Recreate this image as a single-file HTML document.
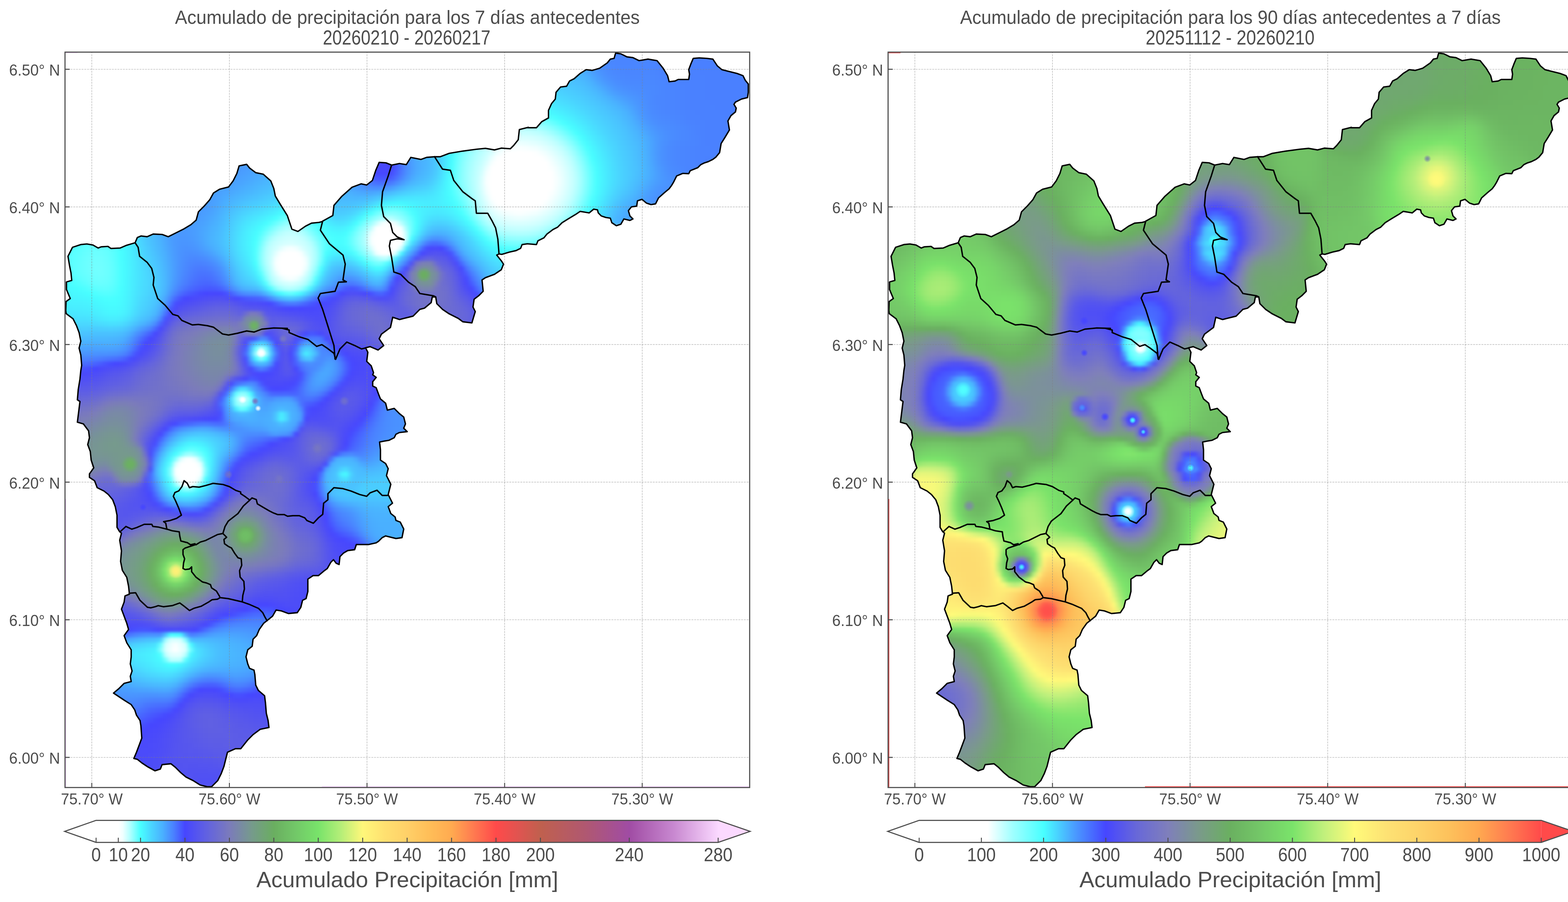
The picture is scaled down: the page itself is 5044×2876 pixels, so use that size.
<!DOCTYPE html><html><head><meta charset="utf-8"><style>html,body{margin:0;padding:0;background:#fff;width:5044px;height:2876px;overflow:hidden}svg{display:block;position:absolute;left:0;top:0}.f{position:absolute;left:0;top:0;width:5044px;height:2876px}.f div{position:absolute;height:16px}</style></head><body>
<div class="f" style="clip-path:polygon(210px 990px,211px 962px,224px 952px,212px 923px,212px 899px,229px 894px,226px 870px,222px 846px,217px 817px,231px 788px,258px 780px,277px 778px,296px 781px,313px 791px,323px 787px,344px 786px,354px 792px,383px 791px,402px 783px,431px 774px,438px 757px,450px 752px,469px 755px,488px 746px,517px 748px,536px 755px,565px 740px,585px 731px,609px 716px,626px 702px,633px 676px,652px 656px,669px 637px,681px 615px,700px 603px,729px 596px,743px 577px,755px 553px,762px 529px,786px 524px,796px 536px,815px 550px,839px 555px,864px 577px,873px 601px,878px 625px,892px 649px,916px 688px,931px 731px,950px 738px,974px 721px,993px 712px,1017px 709px,1027px 707px,1029px 705px,1061px 687px,1065px 655px,1090px 626px,1123px 597px,1151px 586px,1169px 590px,1188px 575px,1198px 543px,1209px 518px,1231px 519px,1249px 526px,1274px 521px,1296px 525px,1310px 502px,1342px 508px,1360px 502px,1386px 500px,1404px 500px,1433px 489px,1476px 482px,1519px 476px,1548px 473px,1577px 478px,1598px 472px,1627px 474px,1638px 464px,1652px 446px,1656px 413px,1685px 406px,1682px 407px,1711px 407px,1727px 388px,1749px 376px,1749px 352px,1759px 330px,1771px 316px,1773px 294px,1788px 277px,1807px 275px,1816px 258px,1831px 251px,1850px 234px,1869px 222px,1888px 224px,1912px 217px,1936px 200px,1946px 188px,1958px 186px,1963px 169px,1980px 172px,1999px 181px,2018px 184px,2038px 193px,2066px 188px,2095px 193px,2114px 217px,2129px 241px,2134px 261px,2153px 258px,2162px 253px,2196px 253px,2199px 236px,2196px 222px,2203px 203px,2211px 186px,2230px 185px,2254px 186px,2273px 188px,2288px 210px,2302px 222px,2331px 229px,2350px 234px,2369px 241px,2376px 256px,2386px 268px,2386px 294px,2384px 311px,2364px 316px,2345px 326px,2340px 333px,2348px 345px,2345px 357px,2331px 369px,2321px 386px,2326px 414px,2312px 438px,2300px 458px,2295px 486px,2283px 501px,2273px 508px,2259px 515px,2244px 520px,2235px 525px,2225px 535px,2201px 544px,2196px 554px,2177px 553px,2158px 561px,2148px 580px,2141px 592px,2134px 602px,2119px 614px,2100px 631px,2090px 650px,2076px 652px,2062px 648px,2047px 636px,2033px 640px,2030px 657px,2014px 660px,2004px 672px,2009px 688px,2018px 698px,2009px 703px,1989px 698px,1980px 715px,1965px 720px,1951px 710px,1946px 696px,1932px 693px,1917px 688px,1908px 679px,1905px 669px,1893px 667px,1879px 679px,1864px 676px,1850px 674px,1836px 684px,1812px 698px,1792px 710px,1778px 724px,1764px 732px,1744px 746px,1735px 758px,1715px 768px,1711px 780px,1682px 777px,1665px 780px,1660px 792px,1646px 799px,1624px 804px,1600px 811px,1591px 810px,1584px 813px,1598px 831px,1606px 842px,1598px 860px,1577px 875px,1548px 885px,1537px 893px,1541px 929px,1526px 943px,1512px 954px,1508px 979px,1516px 994px,1505px 1030px,1476px 1026px,1461px 1015px,1433px 1001px,1411px 986px,1393px 968px,1389px 947px,1378px 947px,1375px 965px,1353px 983px,1339px 986px,1317px 1008px,1288px 1015px,1274px 1019px,1252px 1012px,1245px 1044px,1216px 1066px,1209px 1080px,1224px 1102px,1206px 1116px,1180px 1105px,1166px 1109px,1173px 1123px,1169px 1152px,1184px 1167px,1191px 1188px,1188px 1195px,1200px 1203px,1188px 1217px,1188px 1231px,1200px 1236px,1208px 1258px,1213px 1272px,1230px 1286px,1235px 1308px,1257px 1302px,1274px 1319px,1287px 1330px,1293px 1352px,1287px 1365px,1298px 1376px,1274px 1379px,1263px 1385px,1257px 1396px,1241px 1404px,1224px 1407px,1210px 1409px,1213px 1434px,1213px 1467px,1230px 1478px,1238px 1494px,1232px 1516px,1246px 1544px,1238px 1577px,1246px 1593px,1252px 1604px,1238px 1615px,1246px 1637px,1260px 1648px,1263px 1659px,1276px 1665px,1287px 1687px,1282px 1714px,1263px 1717px,1230px 1709px,1219px 1714px,1208px 1725px,1200px 1731px,1175px 1736px,1136px 1736px,1131px 1753px,1109px 1756px,1095px 1764px,1084px 1775px,1081px 1800px,1072px 1796px,1063px 1784px,1055px 1793px,1044px 1813px,1032px 1821px,1016px 1835px,999px 1835px,982px 1846px,982px 1886px,976px 1908px,965px 1914px,959px 1937px,948px 1954px,920px 1956px,897px 1948px,880px 1945px,869px 1965px,855px 1976px,841px 1987px,827px 2007px,818px 2027px,807px 2038px,804px 2061px,790px 2072px,784px 2094px,790px 2117px,796px 2131px,810px 2137px,813px 2151px,816px 2184px,824px 2201px,844px 2218px,846px 2241px,849px 2275px,855px 2297px,858px 2320px,830px 2325px,807px 2342px,790px 2359px,768px 2387px,751px 2387px,725px 2399px,720px 2421px,714px 2444px,706px 2466px,694px 2489px,675px 2508px,661px 2508px,638px 2503px,616px 2489px,593px 2478px,576px 2463px,559px 2446px,545px 2435px,517px 2438px,511px 2452px,494px 2458px,469px 2444px,452px 2432px,438px 2421px,427px 2418px,435px 2399px,444px 2376px,452px 2354px,449px 2314px,446px 2297px,435px 2280px,430px 2263px,418px 2246px,396px 2232px,379px 2221px,362px 2210px,379px 2196px,396px 2179px,418px 2173px,416px 2156px,421px 2139px,416px 2117px,418px 2094px,418px 2072px,404px 2049px,396px 2027px,410px 2007px,404px 1987px,396px 1965px,387px 1942px,396px 1920px,399px 1900px,413px 1894px,410px 1869px,404px 1841px,390px 1818px,384px 1790px,387px 1756px,382px 1722px,387px 1700px,381px 1695px,373px 1681px,373px 1643px,368px 1615px,359px 1593px,346px 1577px,332px 1566px,310px 1555px,302px 1533px,285px 1522px,285px 1511px,299px 1492px,291px 1467px,288px 1440px,280px 1418px,285px 1396px,282px 1374px,266px 1352px,247px 1346px,252px 1302px,255px 1280px,247px 1275px,250px 1242px,255px 1209px,258px 1181px,260px 1165px,258px 1132px,252px 1110px,258px 1088px,252px 1060px,244px 1038px,233px 1016px,211px 1000px)"><div style="position:absolute;left:0;top:0;width:5044px;height:2876px;height:2876px;filter:blur(5px)">
<div style="top:160px;left:1936.0px;width:80px;background:linear-gradient(90deg,#4a88ff,#4a86ff,#4a86ff,#4a85ff,#4a86ff,#4a86ff)"></div>
<div style="top:176px;left:1904.0px;width:400px;background:linear-gradient(90deg,#4a8eff,#4a8bff,#4a88ff,#4a87ff,#4a86ff,#4a85ff,#4a85ff,#4a86ff,#4a86ff,#4a86ff,#4a86ff,#4a84ff,#4a83ff,#4a82ff,#4a81ff,#4a81ff,#4a81ff,#4a81ff,#4a81ff,#4a81ff,#4a81ff,#4a80ff,#4a80ff,#4a80ff,#4a80ff,#4a80ff)"></div>
<div style="top:192px;left:1888.0px;width:432px;background:linear-gradient(90deg,#4a97ff,#4a90ff,#4a8cff,#4a89ff,#4a87ff,#4a86ff,#4a85ff,#4a85ff,#4a85ff,#4a86ff,#4a86ff,#4a86ff,#4a85ff,#4a83ff,#4a82ff,#4a81ff,#4a81ff,#4a81ff,#4a81ff,#4a81ff,#4a81ff,#4a81ff,#4a80ff,#4a80ff,#4a80ff,#4a80ff,#4a80ff,#4a80ff)"></div>
<div style="top:208px;left:1840.0px;width:496px;background:linear-gradient(90deg,#4ab2ff,#4aacff,#4aa3ff,#4a9bff,#4a93ff,#4a8eff,#4a8aff,#4a88ff,#4a87ff,#4a86ff,#4a86ff,#4a86ff,#4a86ff,#4a86ff,#4a86ff,#4a85ff,#4a84ff,#4a82ff,#4a82ff,#4a81ff,#4a81ff,#4a81ff,#4a81ff,#4a81ff,#4a81ff,#4a80ff,#4a80ff,#4a80ff,#4a80ff,#4a80ff,#4a80ff,#4a80ff)"></div>
<div style="top:224px;left:1808.0px;width:592px;background:linear-gradient(90deg,#4abcff,#4ab9ff,#4ab6ff,#4ab1ff,#4aaaff,#4aa1ff,#4a98ff,#4a92ff,#4a8dff,#4a8aff,#4a88ff,#4a87ff,#4a86ff,#4a86ff,#4a86ff,#4a87ff,#4a87ff,#4a86ff,#4a85ff,#4a83ff,#4a82ff,#4a82ff,#4a81ff,#4a81ff,#4a81ff,#4a81ff,#4a81ff,#4a80ff,#4a80ff,#4a80ff,#4a80ff,#4a80ff,#4a80ff,#4a80ff,#4a80ff,#4a80ff,#4a80ff,#4a80ff)"></div>
<div style="top:240px;left:1792.0px;width:624px;background:linear-gradient(90deg,#4ac2ff,#4ac0ff,#4abeff,#4abbff,#4ab6ff,#4ab1ff,#4aa8ff,#4a9fff,#4a97ff,#4a91ff,#4a8dff,#4a8aff,#4a89ff,#4a88ff,#4a87ff,#4a87ff,#4a88ff,#4a88ff,#4a87ff,#4a86ff,#4a84ff,#4a83ff,#4a82ff,#4a82ff,#4a82ff,#4a81ff,#4a81ff,#4a81ff,#4a81ff,#4a80ff,#4a80ff,#4a80ff,#4a80ff,#4a80ff,#4a80ff,#4a80ff,#4a80ff,#4a80ff,#4a80ff,#4a80ff)"></div>
<div style="top:256px;left:1776.0px;width:640px;background:linear-gradient(90deg,#4ac8ff,#4ac7ff,#4ac5ff,#4ac2ff,#4abfff,#4abcff,#4ab7ff,#4ab1ff,#4aa7ff,#4a9fff,#4a97ff,#4a92ff,#4a8eff,#4a8bff,#4a8aff,#4a89ff,#4a89ff,#4a89ff,#4a89ff,#4a88ff,#4a87ff,#4a86ff,#4a84ff,#4a83ff,#4a83ff,#4a82ff,#4a82ff,#4a81ff,#4a81ff,#4a81ff,#4a80ff,#4a80ff,#4a80ff,#4a80ff,#4a80ff,#4a80ff,#4a80ff,#4a80ff,#4a80ff,#4a80ff,#4a80ff)"></div>
<div style="top:272px;left:1744.0px;width:672px;background:linear-gradient(90deg,#4ad1ff,#4acfff,#4acdff,#4accff,#4ac9ff,#4ac7ff,#4ac4ff,#4ac1ff,#4abdff,#4ab7ff,#4ab1ff,#4aa8ff,#4aa0ff,#4a99ff,#4a93ff,#4a90ff,#4a8eff,#4a8cff,#4a8bff,#4a8bff,#4a8aff,#4a89ff,#4a88ff,#4a86ff,#4a85ff,#4a84ff,#4a83ff,#4a83ff,#4a82ff,#4a81ff,#4a81ff,#4a81ff,#4a80ff,#4a80ff,#4a80ff,#4a80ff,#4a80ff,#4a80ff,#4a80ff,#4a80ff,#4a80ff,#4a80ff,#4a80ff)"></div>
<div style="top:288px;left:1744.0px;width:672px;background:linear-gradient(90deg,#4ad7ff,#4ad5ff,#4ad3ff,#4ad1ff,#4aceff,#4accff,#4ac9ff,#4ac6ff,#4ac2ff,#4abeff,#4ab8ff,#4ab2ff,#4aa9ff,#4aa1ff,#4a9bff,#4a96ff,#4a93ff,#4a91ff,#4a8fff,#4a8dff,#4a8bff,#4a89ff,#4a88ff,#4a86ff,#4a85ff,#4a85ff,#4a84ff,#4a83ff,#4a82ff,#4a81ff,#4a81ff,#4a81ff,#4a80ff,#4a80ff,#4a80ff,#4a80ff,#4a80ff,#4a80ff,#4a80ff,#4a80ff,#4a80ff,#4a80ff,#4a80ff)"></div>
<div style="top:304px;left:1728.0px;width:688px;background:linear-gradient(90deg,#49e1ff,#49dfff,#4addff,#4adaff,#4ad7ff,#4ad4ff,#4ad1ff,#4aceff,#4acbff,#4ac7ff,#4ac3ff,#4abeff,#4ab9ff,#4ab3ff,#4aacff,#4aa4ff,#4a9fff,#4a9aff,#4a96ff,#4a93ff,#4a8fff,#4a8cff,#4a89ff,#4a87ff,#4a86ff,#4a85ff,#4a85ff,#4a84ff,#4a83ff,#4a82ff,#4a81ff,#4a81ff,#4a81ff,#4a80ff,#4a80ff,#4a80ff,#4a80ff,#4a80ff,#4a80ff,#4a80ff,#4a80ff,#4a80ff,#4a80ff,#4a80ff)"></div>
<div style="top:320px;left:1728.0px;width:656px;background:linear-gradient(90deg,#49eaff,#49e8ff,#49e5ff,#49e2ff,#4adeff,#4adbff,#4ad7ff,#4ad3ff,#4ad0ff,#4accff,#4ac8ff,#4ac4ff,#4abfff,#4abaff,#4ab5ff,#4aafff,#4aa8ff,#4aa2ff,#4a9cff,#4a96ff,#4a91ff,#4a8dff,#4a89ff,#4a87ff,#4a86ff,#4a85ff,#4a85ff,#4a84ff,#4a83ff,#4a82ff,#4a81ff,#4a81ff,#4a81ff,#4a81ff,#4a80ff,#4a80ff,#4a80ff,#4a80ff,#4a80ff,#4a80ff,#4a80ff,#4a80ff)"></div>
<div style="top:336px;left:1712.0px;width:672px;background:linear-gradient(90deg,#48f6ff,#49f4ff,#49f1ff,#49eeff,#49eaff,#49e6ff,#49e2ff,#4adeff,#4ad9ff,#4ad5ff,#4ad1ff,#4acdff,#4ac9ff,#4ac5ff,#4ac0ff,#4abbff,#4ab6ff,#4ab1ff,#4aaaff,#4aa2ff,#4a9aff,#4a93ff,#4a8eff,#4a8aff,#4a88ff,#4a86ff,#4a85ff,#4a85ff,#4a84ff,#4a83ff,#4a82ff,#4a81ff,#4a81ff,#4a81ff,#4a81ff,#4a81ff,#4a80ff,#4a80ff,#4a80ff,#4a80ff,#4a80ff,#4a80ff,#4a80ff)"></div>
<div style="top:352px;left:1712.0px;width:672px;background:linear-gradient(90deg,#4effff,#48ffff,#48fbff,#48f7ff,#49f3ff,#49eeff,#49eaff,#49e5ff,#49e0ff,#4adbff,#4ad6ff,#4ad2ff,#4acdff,#4ac9ff,#4ac5ff,#4ac0ff,#4abcff,#4ab7ff,#4ab1ff,#4aa8ff,#4a9eff,#4a96ff,#4a90ff,#4a8bff,#4a89ff,#4a87ff,#4a86ff,#4a86ff,#4a85ff,#4a84ff,#4a83ff,#4a82ff,#4a81ff,#4a81ff,#4a81ff,#4a81ff,#4a81ff,#4a80ff,#4a80ff,#4a80ff,#4a80ff,#4a80ff,#4a80ff)"></div>
<div style="top:368px;left:1696.0px;width:672px;background:linear-gradient(90deg,#72ffff,#6cffff,#64ffff,#5affff,#4fffff,#48fdff,#48f7ff,#49f2ff,#49ecff,#49e7ff,#49e1ff,#4adcff,#4ad6ff,#4ad2ff,#4acdff,#4ac9ff,#4ac5ff,#4ac0ff,#4abbff,#4ab5ff,#4aaeff,#4aa3ff,#4a9aff,#4a93ff,#4a8eff,#4a8bff,#4a89ff,#4a88ff,#4a87ff,#4a86ff,#4a85ff,#4a83ff,#4a82ff,#4a82ff,#4a81ff,#4a81ff,#4a81ff,#4a81ff,#4a81ff,#4a80ff,#4a80ff,#4a80ff,#4a80ff)"></div>
<div style="top:384px;left:1680.0px;width:672px;background:linear-gradient(90deg,#94ffff,#90ffff,#8affff,#82ffff,#77ffff,#6affff,#5cffff,#4dffff,#48fbff,#48f5ff,#49eeff,#49e8ff,#49e2ff,#4adcff,#4ad6ff,#4ad1ff,#4acdff,#4ac8ff,#4ac4ff,#4abfff,#4ab9ff,#4ab2ff,#4aa9ff,#4aa0ff,#4a98ff,#4a92ff,#4a8eff,#4a8bff,#4a8aff,#4a89ff,#4a87ff,#4a86ff,#4a84ff,#4a83ff,#4a82ff,#4a82ff,#4a81ff,#4a81ff,#4a81ff,#4a81ff,#4a80ff,#4a80ff,#4a80ff)"></div>
<div style="top:400px;left:1616.0px;width:736px;background:linear-gradient(90deg,#acffff,#b0ffff,#b2ffff,#b2ffff,#b1ffff,#adffff,#a7ffff,#9effff,#93ffff,#86ffff,#77ffff,#66ffff,#55ffff,#48fdff,#48f6ff,#49efff,#49e8ff,#49e1ff,#4adbff,#4ad5ff,#4ad0ff,#4acbff,#4ac7ff,#4ac2ff,#4abdff,#4ab6ff,#4aafff,#4aa6ff,#4a9eff,#4a97ff,#4a92ff,#4a8fff,#4a8cff,#4a8bff,#4a89ff,#4a88ff,#4a86ff,#4a84ff,#4a83ff,#4a82ff,#4a81ff,#4a81ff,#4a81ff,#4a80ff,#4a80ff,#4a80ff,#4a80ff)"></div>
<div style="top:416px;left:1616.0px;width:736px;background:linear-gradient(90deg,#c2ffff,#c6ffff,#c8ffff,#c8ffff,#c7ffff,#c4ffff,#bfffff,#b8ffff,#adffff,#a0ffff,#91ffff,#80ffff,#6dffff,#59ffff,#48feff,#48f6ff,#49eeff,#49e7ff,#49e0ff,#4ad9ff,#4ad3ff,#4aceff,#4acaff,#4ac5ff,#4ac0ff,#4abaff,#4ab4ff,#4aacff,#4aa4ff,#4a9cff,#4a96ff,#4a92ff,#4a8eff,#4a8cff,#4a8aff,#4a88ff,#4a87ff,#4a85ff,#4a83ff,#4a82ff,#4a81ff,#4a81ff,#4a81ff,#4a80ff,#4a80ff,#4a80ff,#4a80ff)"></div>
<div style="top:432px;left:1616.0px;width:736px;background:linear-gradient(90deg,#d3ffff,#d7ffff,#d9ffff,#d9ffff,#d8ffff,#d5ffff,#d1ffff,#cbffff,#c2ffff,#b8ffff,#a9ffff,#98ffff,#84ffff,#6fffff,#59ffff,#48fdff,#48f4ff,#49ecff,#49e5ff,#4adeff,#4ad7ff,#4ad1ff,#4accff,#4ac7ff,#4ac2ff,#4abdff,#4ab7ff,#4ab1ff,#4aa9ff,#4aa0ff,#4a99ff,#4a93ff,#4a8fff,#4a8cff,#4a8aff,#4a88ff,#4a87ff,#4a85ff,#4a84ff,#4a82ff,#4a81ff,#4a81ff,#4a81ff,#4a80ff,#4a80ff,#4a80ff,#4a80ff)"></div>
<div style="top:448px;left:1600.0px;width:736px;background:linear-gradient(90deg,#daffff,#e1ffff,#e7ffff,#ebffff,#ebffff,#e8ffff,#e4ffff,#e0ffff,#daffff,#d2ffff,#c9ffff,#bdffff,#adffff,#9affff,#84ffff,#6cffff,#54ffff,#48faff,#49f2ff,#49e9ff,#49e2ff,#4adaff,#4ad4ff,#4acfff,#4ac9ff,#4ac4ff,#4abfff,#4abaff,#4ab4ff,#4aacff,#4aa2ff,#4a99ff,#4a92ff,#4a8eff,#4a8aff,#4a88ff,#4a87ff,#4a86ff,#4a85ff,#4a84ff,#4a82ff,#4a81ff,#4a81ff,#4a81ff,#4a80ff,#4a80ff,#4a80ff)"></div>
<div style="top:464px;left:1456.0px;width:880px;background:linear-gradient(90deg,#56ffff,#6fffff,#83ffff,#94ffff,#a4ffff,#b3ffff,#c1ffff,#ceffff,#dcffff,#e8ffff,#f1ffff,#f6ffff,#faffff,#faffff,#f7ffff,#f3ffff,#f0ffff,#e8ffff,#e0ffff,#d7ffff,#ccffff,#bfffff,#adffff,#97ffff,#7effff,#64ffff,#4bffff,#48f7ff,#49eeff,#49e5ff,#4adeff,#4ad7ff,#4ad1ff,#4acbff,#4ac6ff,#4ac1ff,#4abcff,#4ab5ff,#4aadff,#4aa2ff,#4a99ff,#4a91ff,#4a8cff,#4a89ff,#4a87ff,#4a86ff,#4a85ff,#4a84ff,#4a83ff,#4a82ff,#4a82ff,#4a81ff,#4a81ff,#4a80ff,#4a80ff,#4a80ff)"></div>
<div style="top:480px;left:1376.0px;width:944px;background:linear-gradient(90deg,#4ac1ff,#4acbff,#4ad9ff,#49eaff,#48faff,#5dffff,#77ffff,#8cffff,#9dffff,#adffff,#bcffff,#c9ffff,#d9ffff,#eeffff,#f8ffff,#ffffff,#ffffff,#ffffff,#ffffff,#ffffff,#ffffff,#fcffff,#f5ffff,#eeffff,#e3ffff,#d8ffff,#ccffff,#bcffff,#a7ffff,#8effff,#73ffff,#58ffff,#48fbff,#49f2ff,#49e9ff,#49e1ff,#4ad9ff,#4ad3ff,#4acdff,#4ac8ff,#4ac3ff,#4abdff,#4ab6ff,#4aaeff,#4aa2ff,#4a98ff,#4a91ff,#4a8cff,#4a89ff,#4a87ff,#4a86ff,#4a85ff,#4a84ff,#4a83ff,#4a82ff,#4a82ff,#4a81ff,#4a81ff,#4a81ff,#4a80ff)"></div>
<div style="top:496px;left:1264.0px;width:1056px;background:linear-gradient(90deg,#4866ff,#4a7fff,#4a92ff,#4aa2ff,#4aacff,#4ab2ff,#4ab7ff,#4abfff,#4ac9ff,#4ad7ff,#49eaff,#48fbff,#63ffff,#7effff,#93ffff,#a5ffff,#b5ffff,#c2ffff,#d2ffff,#eaffff,#fcffff,#ffffff,#ffffff,#ffffff,#ffffff,#ffffff,#ffffff,#ffffff,#ffffff,#ffffff,#f7ffff,#eeffff,#e2ffff,#d6ffff,#c7ffff,#b4ffff,#9bffff,#80ffff,#64ffff,#48ffff,#48f5ff,#49ecff,#49e3ff,#4adcff,#4ad4ff,#4acfff,#4ac9ff,#4ac4ff,#4abeff,#4ab7ff,#4aafff,#4aa3ff,#4a99ff,#4a91ff,#4a8cff,#4a89ff,#4a87ff,#4a86ff,#4a85ff,#4a84ff,#4a83ff,#4a82ff,#4a81ff,#4a81ff,#4a81ff,#4a81ff,#4a81ff)"></div>
<div style="top:512px;left:736.0px;width:1568px;background:linear-gradient(90deg,#4a97ff,#4a97ff,#4a99ff,#4a9aff,#4a9cff,#4a9eff,#4aa1ff,#4aa4ff,#4aa7ff,#4aa8ff,#4aa8ff,#4aa2ff,#4a98ff,#4a8eff,#4a8aff,#4a8aff,#4a8cff,#4a90ff,#4a93ff,#4a95ff,#4a95ff,#4a93ff,#4a8fff,#4a88ff,#4a80ff,#4972ff,#4861ff,#4750ff,#4747fe,#4949fc,#4a4afb,#4848fc,#4649ff,#485eff,#4977ff,#4a8eff,#4a9eff,#4aa9ff,#4ab1ff,#4ab6ff,#4abeff,#4ac9ff,#4ad8ff,#49ebff,#48fdff,#67ffff,#83ffff,#99ffff,#abffff,#baffff,#c8ffff,#ddffff,#f7ffff,#ffffff,#ffffff,#ffffff,#ffffff,#ffffff,#ffffff,#ffffff,#ffffff,#ffffff,#ffffff,#ffffff,#f4ffff,#e9ffff,#ddffff,#cfffff,#beffff,#a6ffff,#8bffff,#6effff,#51ffff,#48f8ff,#49efff,#49e6ff,#4adeff,#4ad6ff,#4ad0ff,#4acaff,#4ac5ff,#4abfff,#4ab8ff,#4ab0ff,#4aa5ff,#4a9aff,#4a92ff,#4a8dff,#4a8aff,#4a87ff,#4a86ff,#4a85ff,#4a84ff,#4a83ff,#4a82ff,#4a81ff,#4a81ff,#4a81ff,#4a81ff)"></div>
<div style="top:528px;left:720.0px;width:1536px;background:linear-gradient(90deg,#4a98ff,#4a98ff,#4a99ff,#4a9bff,#4a9dff,#4a9fff,#4aa2ff,#4aa5ff,#4aa9ff,#4aacff,#4aaeff,#4aafff,#4aacff,#4aa3ff,#4a97ff,#4a8fff,#4a8fff,#4a93ff,#4a97ff,#4a9bff,#4a9cff,#4a9bff,#4a98ff,#4a93ff,#4a8cff,#4a83ff,#4976ff,#4866ff,#4755ff,#4646ff,#4949fc,#4949fb,#4949fc,#4647ff,#475bff,#4975ff,#4a8cff,#4a9dff,#4aa9ff,#4ab1ff,#4ab7ff,#4abfff,#4acaff,#4adaff,#49edff,#48feff,#6bffff,#86ffff,#9cffff,#aeffff,#beffff,#ceffff,#eaffff,#ffffff,#ffffff,#ffffff,#ffffff,#ffffff,#ffffff,#ffffff,#ffffff,#ffffff,#ffffff,#ffffff,#ffffff,#faffff,#f0ffff,#e3ffff,#d5ffff,#c4ffff,#aeffff,#93ffff,#76ffff,#59ffff,#48fbff,#49f1ff,#49e7ff,#49dfff,#4ad7ff,#4ad1ff,#4acbff,#4ac5ff,#4ac0ff,#4ab9ff,#4ab1ff,#4aa7ff,#4a9dff,#4a95ff,#4a8fff,#4a8bff,#4a89ff,#4a87ff,#4a85ff,#4a84ff,#4a83ff,#4a82ff,#4a81ff)"></div>
<div style="top:544px;left:720.0px;width:1520px;background:linear-gradient(90deg,#4a9aff,#4a9aff,#4a9cff,#4a9dff,#4aa0ff,#4aa3ff,#4aa6ff,#4aaaff,#4aaeff,#4ab1ff,#4ab3ff,#4ab5ff,#4ab4ff,#4aafff,#4aa3ff,#4a99ff,#4a98ff,#4a9cff,#4aa1ff,#4aa4ff,#4aa5ff,#4aa3ff,#4a9fff,#4a99ff,#4a92ff,#4a89ff,#4a7eff,#4970ff,#4860ff,#4751ff,#4646ff,#4747fe,#4747fe,#474eff,#4861ff,#4a79ff,#4a8fff,#4aa0ff,#4aacff,#4ab4ff,#4abaff,#4ac2ff,#4acdff,#4addff,#49f0ff,#4bffff,#6effff,#88ffff,#9effff,#b1ffff,#c1ffff,#d5ffff,#f4ffff,#ffffff,#ffffff,#ffffff,#ffffff,#ffffff,#ffffff,#ffffff,#ffffff,#ffffff,#ffffff,#ffffff,#ffffff,#ffffff,#f3ffff,#e7ffff,#d9ffff,#c9ffff,#b4ffff,#99ffff,#7bffff,#5effff,#48fcff,#49f2ff,#49e9ff,#49e0ff,#4ad8ff,#4ad1ff,#4acbff,#4ac6ff,#4abfff,#4ab9ff,#4ab1ff,#4aa8ff,#4a9fff,#4a97ff,#4a91ff,#4a8dff,#4a8aff,#4a88ff,#4a86ff,#4a84ff,#4a83ff,#4a82ff)"></div>
<div style="top:560px;left:704.0px;width:1488px;background:linear-gradient(90deg,#4a9bff,#4a9cff,#4a9dff,#4a9fff,#4aa1ff,#4aa4ff,#4aa7ff,#4aabff,#4aafff,#4ab3ff,#4ab6ff,#4ab8ff,#4abaff,#4abaff,#4ab8ff,#4ab1ff,#4aa7ff,#4aa5ff,#4aa8ff,#4aacff,#4aadff,#4aadff,#4aaaff,#4aa6ff,#4aa0ff,#4a99ff,#4a91ff,#4a88ff,#4a7dff,#496fff,#4862ff,#4758ff,#4753ff,#4755ff,#485eff,#4970ff,#4a85ff,#4a98ff,#4aa8ff,#4ab3ff,#4ab9ff,#4abfff,#4ac7ff,#4ad2ff,#49e2ff,#49f3ff,#4fffff,#6fffff,#88ffff,#9effff,#b2ffff,#c3ffff,#daffff,#f9ffff,#ffffff,#ffffff,#ffffff,#ffffff,#ffffff,#ffffff,#ffffff,#ffffff,#ffffff,#ffffff,#ffffff,#ffffff,#ffffff,#f6ffff,#eaffff,#dbffff,#cbffff,#b7ffff,#9cffff,#7effff,#60ffff,#48fdff,#49f3ff,#49e9ff,#49e0ff,#4ad8ff,#4ad1ff,#4acbff,#4ac5ff,#4abeff,#4ab7ff,#4ab0ff,#4aa7ff,#4a9fff,#4a98ff,#4a93ff,#4a90ff,#4a8cff,#4a89ff,#4a87ff)"></div>
<div style="top:576px;left:704.0px;width:1472px;background:linear-gradient(90deg,#4a9eff,#4a9fff,#4aa0ff,#4aa2ff,#4aa5ff,#4aa9ff,#4aadff,#4ab1ff,#4ab4ff,#4ab7ff,#4abbff,#4abdff,#4ac0ff,#4ac1ff,#4ac0ff,#4abcff,#4ab7ff,#4ab4ff,#4ab4ff,#4ab4ff,#4ab4ff,#4ab2ff,#4ab0ff,#4aacff,#4aa7ff,#4aa1ff,#4a9bff,#4a93ff,#4a8bff,#4a82ff,#4979ff,#4971ff,#496fff,#4972ff,#4a7cff,#4a8aff,#4a9aff,#4aaaff,#4ab5ff,#4abcff,#4ac2ff,#4ac7ff,#4acfff,#4adaff,#49e8ff,#48f6ff,#51ffff,#6dffff,#86ffff,#9cffff,#b1ffff,#c3ffff,#dcffff,#faffff,#ffffff,#ffffff,#ffffff,#ffffff,#ffffff,#ffffff,#ffffff,#ffffff,#ffffff,#ffffff,#ffffff,#ffffff,#ffffff,#f6ffff,#eaffff,#dbffff,#cbffff,#b7ffff,#9cffff,#7effff,#60ffff,#48fdff,#49f2ff,#49e9ff,#49dfff,#4ad7ff,#4ad0ff,#4ac9ff,#4ac2ff,#4abbff,#4ab4ff,#4aabff,#4aa3ff,#4a9cff,#4a97ff,#4a94ff,#4a91ff,#4a8eff,#4a8bff)"></div>
<div style="top:592px;left:656.0px;width:1520px;background:linear-gradient(90deg,#4a9bff,#4a9cff,#4a9eff,#4aa0ff,#4aa2ff,#4aa4ff,#4aa7ff,#4aabff,#4aafff,#4ab2ff,#4ab6ff,#4abaff,#4abdff,#4ac0ff,#4ac3ff,#4ac6ff,#4ac8ff,#4ac9ff,#4ac8ff,#4ac5ff,#4ac2ff,#4abfff,#4abcff,#4ab9ff,#4ab7ff,#4ab5ff,#4ab2ff,#4aafff,#4aaaff,#4aa5ff,#4a9fff,#4a99ff,#4a94ff,#4a90ff,#4a8eff,#4a90ff,#4a95ff,#4a9eff,#4aaaff,#4ab5ff,#4abeff,#4ac5ff,#4acaff,#4aceff,#4ad2ff,#4ad8ff,#49e2ff,#49ecff,#48f7ff,#4fffff,#69ffff,#81ffff,#98ffff,#aeffff,#c2ffff,#d9ffff,#f6ffff,#ffffff,#ffffff,#ffffff,#ffffff,#ffffff,#ffffff,#ffffff,#ffffff,#ffffff,#ffffff,#ffffff,#ffffff,#ffffff,#f3ffff,#e7ffff,#d9ffff,#c9ffff,#b4ffff,#99ffff,#7bffff,#5dffff,#48fcff,#49f1ff,#49e7ff,#4addff,#4ad4ff,#4acdff,#4ac6ff,#4abfff,#4ab7ff,#4aafff,#4aa6ff,#4a9eff,#4a98ff,#4a94ff,#4a92ff,#4a90ff,#4a8fff,#4a8dff)"></div>
<div style="top:608px;left:640.0px;width:1520px;background:linear-gradient(90deg,#4a98ff,#4a9aff,#4a9dff,#4aa0ff,#4aa3ff,#4aa6ff,#4aa9ff,#4aadff,#4ab1ff,#4ab5ff,#4ab8ff,#4abcff,#4ac0ff,#4ac3ff,#4ac7ff,#4acaff,#4acdff,#4ad0ff,#4ad2ff,#4ad4ff,#4ad4ff,#4ad0ff,#4acaff,#4ac4ff,#4abfff,#4abbff,#4ab9ff,#4ab6ff,#4ab4ff,#4ab2ff,#4ab0ff,#4aacff,#4aa9ff,#4aa8ff,#4aa8ff,#4aacff,#4ab1ff,#4ab8ff,#4abfff,#4ac6ff,#4acdff,#4ad2ff,#4ad6ff,#4ad9ff,#4adbff,#4adeff,#49e2ff,#49e8ff,#49f0ff,#48f8ff,#4bffff,#61ffff,#79ffff,#91ffff,#a9ffff,#bfffff,#d4ffff,#f1ffff,#ffffff,#ffffff,#ffffff,#ffffff,#ffffff,#ffffff,#ffffff,#ffffff,#ffffff,#ffffff,#ffffff,#ffffff,#faffff,#f0ffff,#e3ffff,#d5ffff,#c4ffff,#aeffff,#93ffff,#75ffff,#58ffff,#48faff,#49efff,#49e4ff,#4ad9ff,#4ad0ff,#4ac8ff,#4ac1ff,#4abaff,#4ab2ff,#4aa9ff,#4aa0ff,#4a99ff,#4a94ff,#4a91ff,#4a8fff,#4a8fff,#4a8eff)"></div>
<div style="top:624px;left:640.0px;width:1504px;background:linear-gradient(90deg,#4a98ff,#4a9bff,#4a9eff,#4aa1ff,#4aa6ff,#4aabff,#4ab0ff,#4ab4ff,#4ab8ff,#4abcff,#4ac0ff,#4ac3ff,#4ac7ff,#4acbff,#4aceff,#4ad1ff,#4ad5ff,#4ad9ff,#4adeff,#49e2ff,#49e3ff,#4adeff,#4ad5ff,#4accff,#4ac5ff,#4ac0ff,#4abdff,#4abbff,#4ab9ff,#4ab8ff,#4ab8ff,#4ab7ff,#4ab8ff,#4abaff,#4abeff,#4ac4ff,#4acbff,#4ad3ff,#4adaff,#49e0ff,#49e4ff,#49e6ff,#49e6ff,#49e7ff,#49e7ff,#49e7ff,#49e9ff,#49ecff,#49f1ff,#48f7ff,#48fdff,#58ffff,#6effff,#87ffff,#a1ffff,#baffff,#ceffff,#e7ffff,#fcffff,#ffffff,#ffffff,#ffffff,#ffffff,#ffffff,#ffffff,#ffffff,#ffffff,#ffffff,#ffffff,#ffffff,#f4ffff,#e9ffff,#ddffff,#cfffff,#beffff,#a6ffff,#8affff,#6dffff,#4fffff,#48f6ff,#49ebff,#49dfff,#4ad4ff,#4acbff,#4ac2ff,#4abbff,#4ab4ff,#4aacff,#4aa4ff,#4a9cff,#4a96ff,#4a92ff,#4a8fff,#4a8eff,#4a8dff)"></div>
<div style="top:640px;left:624.0px;width:1504px;background:linear-gradient(90deg,#4a98ff,#4a99ff,#4a9bff,#4a9fff,#4aa3ff,#4aa9ff,#4ab0ff,#4ab5ff,#4abaff,#4abfff,#4ac4ff,#4ac8ff,#4acbff,#4acfff,#4ad2ff,#4ad6ff,#4adbff,#49dfff,#49e5ff,#49ebff,#49f0ff,#49f0ff,#49ebff,#49e2ff,#4ad7ff,#4acdff,#4ac6ff,#4ac2ff,#4abfff,#4abfff,#4abfff,#4ac0ff,#4ac2ff,#4ac5ff,#4acaff,#4ad2ff,#4addff,#49e8ff,#49f0ff,#48f5ff,#48f7ff,#48f7ff,#48f4ff,#49f2ff,#49efff,#49eeff,#49edff,#49edff,#49eeff,#49f1ff,#48f5ff,#48faff,#4dffff,#63ffff,#7cffff,#97ffff,#b2ffff,#c8ffff,#ddffff,#f3ffff,#ffffff,#ffffff,#ffffff,#ffffff,#ffffff,#ffffff,#ffffff,#ffffff,#ffffff,#ffffff,#f7ffff,#eeffff,#e2ffff,#d6ffff,#c7ffff,#b4ffff,#9bffff,#7fffff,#63ffff,#48feff,#49f2ff,#49e6ff,#4adaff,#4aceff,#4ac4ff,#4abbff,#4ab4ff,#4aaeff,#4aa6ff,#4a9fff,#4a99ff,#4a94ff,#4a90ff,#4a8eff,#4a8dff)"></div>
<div style="top:656px;left:608.0px;width:1456px;background:linear-gradient(90deg,#4a98ff,#4a99ff,#4a9aff,#4a9dff,#4aa0ff,#4aa6ff,#4aadff,#4ab4ff,#4abbff,#4ac1ff,#4ac7ff,#4accff,#4ad0ff,#4ad4ff,#4ad8ff,#4adcff,#49e1ff,#49e6ff,#49ebff,#49f2ff,#48f9ff,#48fcff,#48fbff,#48f6ff,#49edff,#49e3ff,#4ad7ff,#4aceff,#4ac8ff,#4ac5ff,#4ac5ff,#4ac6ff,#4ac9ff,#4acdff,#4ad3ff,#4adeff,#49ebff,#48f8ff,#4effff,#5dffff,#64ffff,#63ffff,#5affff,#4bffff,#48faff,#48f5ff,#49f1ff,#49eeff,#49edff,#49ecff,#49eeff,#49f1ff,#48f6ff,#48fcff,#56ffff,#6fffff,#8bffff,#a8ffff,#c0ffff,#d4ffff,#e6ffff,#f3ffff,#fbffff,#ffffff,#ffffff,#ffffff,#ffffff,#ffffff,#ffffff,#fcffff,#f5ffff,#eeffff,#e3ffff,#d8ffff,#ccffff,#bcffff,#a7ffff,#8effff,#72ffff,#56ffff,#48f9ff,#49eeff,#49e1ff,#4ad4ff,#4ac8ff,#4abeff,#4ab5ff,#4aaeff,#4aa7ff,#4aa2ff,#4a9cff,#4a97ff)"></div>
<div style="top:672px;left:592.0px;width:1456px;background:linear-gradient(90deg,#4a99ff,#4a9aff,#4a9bff,#4a9cff,#4a9fff,#4aa3ff,#4aa9ff,#4ab1ff,#4ab9ff,#4ac1ff,#4ac8ff,#4acfff,#4ad4ff,#4ad9ff,#4adeff,#49e2ff,#49e7ff,#49ecff,#49f2ff,#48f9ff,#4bffff,#5bffff,#60ffff,#58ffff,#48ffff,#48f7ff,#49eeff,#49e3ff,#4ad8ff,#4ad0ff,#4accff,#4accff,#4aceff,#4ad3ff,#4adbff,#49e7ff,#48f5ff,#50ffff,#6cffff,#7effff,#88ffff,#8affff,#85ffff,#79ffff,#66ffff,#4fffff,#48f9ff,#49f1ff,#49ecff,#49e9ff,#49e7ff,#49e8ff,#49ebff,#49f0ff,#48f6ff,#48ffff,#60ffff,#7dffff,#9affff,#b6ffff,#c9ffff,#d9ffff,#e5ffff,#eeffff,#f3ffff,#f7ffff,#faffff,#faffff,#f7ffff,#f3ffff,#f0ffff,#e8ffff,#e0ffff,#d7ffff,#ccffff,#bfffff,#adffff,#96ffff,#7effff,#64ffff,#48ffff,#48f4ff,#49e9ff,#4adcff,#4acfff,#4ac3ff,#4ab9ff,#4ab0ff,#4aa9ff,#4aa3ff,#4a9fff,#4a9bff)"></div>
<div style="top:688px;left:592.0px;width:1456px;background:linear-gradient(90deg,#4a9aff,#4a9bff,#4a9cff,#4a9eff,#4aa2ff,#4aa7ff,#4aadff,#4ab5ff,#4abdff,#4ac6ff,#4aceff,#4ad6ff,#4addff,#49e2ff,#49e7ff,#49ecff,#49f2ff,#48f8ff,#49ffff,#5dffff,#6fffff,#7cffff,#7cffff,#70ffff,#5dffff,#49ffff,#48f7ff,#49eeff,#49e5ff,#4adcff,#4ad6ff,#4ad6ff,#4ad9ff,#49e1ff,#49ecff,#48faff,#60ffff,#7dffff,#94ffff,#a7ffff,#b8ffff,#b6ffff,#a3ffff,#91ffff,#7bffff,#60ffff,#48fcff,#49f0ff,#49e6ff,#49e0ff,#4addff,#4adeff,#49e1ff,#49e6ff,#49eeff,#48f6ff,#4cffff,#69ffff,#88ffff,#a4ffff,#bcffff,#cbffff,#d7ffff,#deffff,#e4ffff,#e8ffff,#ebffff,#ebffff,#e8ffff,#e4ffff,#e0ffff,#daffff,#d2ffff,#c9ffff,#bdffff,#adffff,#9affff,#84ffff,#6cffff,#53ffff,#48f9ff,#49efff,#49e4ff,#4ad7ff,#4acbff,#4abfff,#4ab5ff,#4aacff,#4aa5ff,#4aa0ff,#4a9dff,#4a9aff)"></div>
<div style="top:704px;left:576.0px;width:1440px;background:linear-gradient(90deg,#4a9aff,#4a9aff,#4a9bff,#4a9eff,#4aa1ff,#4aa5ff,#4aabff,#4ab1ff,#4ab8ff,#4ac0ff,#4acaff,#4ad3ff,#4adcff,#49e4ff,#49eaff,#49f0ff,#48f5ff,#48fcff,#55ffff,#6affff,#7fffff,#90ffff,#99ffff,#96ffff,#87ffff,#71ffff,#5cffff,#49ffff,#48f8ff,#49f0ff,#49e9ff,#49e4ff,#49e3ff,#49e7ff,#49f0ff,#48fdff,#66ffff,#85ffff,#a1ffff,#c9ffff,#f0ffff,#fcffff,#faffff,#e6ffff,#baffff,#8effff,#6cffff,#48fdff,#49ecff,#4addff,#4ad4ff,#4ad0ff,#4ad0ff,#4ad3ff,#4ad9ff,#49e1ff,#49ebff,#48f6ff,#4fffff,#6fffff,#8effff,#a8ffff,#bbffff,#c7ffff,#d0ffff,#d5ffff,#d8ffff,#d9ffff,#d9ffff,#d8ffff,#d5ffff,#d1ffff,#cbffff,#c2ffff,#b8ffff,#a9ffff,#98ffff,#84ffff,#6fffff,#59ffff,#48fdff,#49f3ff,#49eaff,#49dfff,#4ad3ff,#4ac8ff,#4abdff,#4ab3ff,#4aabff,#4aa4ff,#4aa0ff)"></div>
<div style="top:720px;left:544.0px;width:1264px;background:linear-gradient(90deg,#4a9dff,#4a9aff,#4a99ff,#4a9aff,#4a9bff,#4a9eff,#4aa3ff,#4aa8ff,#4aafff,#4ab4ff,#4abbff,#4ac3ff,#4acdff,#4ad7ff,#49e1ff,#49e9ff,#49f0ff,#48f6ff,#48fdff,#5affff,#72ffff,#8affff,#9effff,#adffff,#b2ffff,#aeffff,#9effff,#88ffff,#70ffff,#5cffff,#4bffff,#48faff,#48f4ff,#49f0ff,#49f0ff,#49f4ff,#48fdff,#63ffff,#84ffff,#9effff,#c8ffff,#fdffff,#ffffff,#ffffff,#ffffff,#ffffff,#f4ffff,#a6ffff,#6fffff,#48fbff,#49e5ff,#4ad1ff,#4ac6ff,#4ac1ff,#4ac1ff,#4ac4ff,#4acbff,#4ad3ff,#4adeff,#49e9ff,#48f6ff,#51ffff,#72ffff,#8effff,#a4ffff,#b4ffff,#beffff,#c3ffff,#c6ffff,#c8ffff,#c8ffff,#c7ffff,#c4ffff,#bfffff,#b8ffff,#adffff,#a0ffff,#91ffff,#80ffff,#6dffff)"></div>
<div style="top:736px;left:448.0px;width:1344px;background:linear-gradient(90deg,#4ad1ff,#4ac7ff,#4abfff,#4ab7ff,#4aafff,#4aa6ff,#4a9eff,#4a99ff,#4a98ff,#4a98ff,#4a9bff,#4a9eff,#4aa4ff,#4aaaff,#4ab1ff,#4ab7ff,#4abdff,#4ac6ff,#4acfff,#4adaff,#49e4ff,#49edff,#49f4ff,#48fbff,#55ffff,#72ffff,#8fffff,#a7ffff,#b8ffff,#c1ffff,#c4ffff,#c1ffff,#b6ffff,#a1ffff,#87ffff,#6effff,#5bffff,#4cffff,#48fcff,#48f9ff,#48f9ff,#48fdff,#5bffff,#79ffff,#95ffff,#b1ffff,#edffff,#ffffff,#ffffff,#ffffff,#ffffff,#ffffff,#ffffff,#c1ffff,#65ffff,#49f2ff,#4ad7ff,#4ac1ff,#4ab5ff,#4ab0ff,#4ab1ff,#4ab5ff,#4abdff,#4ac6ff,#4ad0ff,#4adcff,#49e9ff,#48f6ff,#53ffff,#71ffff,#88ffff,#9affff,#a5ffff,#acffff,#b0ffff,#b2ffff,#b2ffff,#b1ffff,#adffff,#a7ffff,#9effff,#93ffff,#86ffff,#77ffff,#66ffff)"></div>
<div style="top:752px;left:400.0px;width:1376px;background:linear-gradient(90deg,#48f5ff,#49ebff,#49dfff,#4ad3ff,#4acaff,#4ac1ff,#4ab9ff,#4ab1ff,#4aa7ff,#4a9eff,#4a99ff,#4a97ff,#4a97ff,#4a99ff,#4a9dff,#4aa3ff,#4aaaff,#4ab2ff,#4ab8ff,#4abeff,#4ac7ff,#4ad0ff,#4adbff,#49e6ff,#49eeff,#48f6ff,#48feff,#64ffff,#89ffff,#a9ffff,#bdffff,#c7ffff,#cdffff,#cfffff,#cdffff,#c6ffff,#b8ffff,#a0ffff,#82ffff,#67ffff,#56ffff,#4bffff,#48feff,#48feff,#4fffff,#66ffff,#83ffff,#9dffff,#bdffff,#f9ffff,#ffffff,#ffffff,#ffffff,#ffffff,#ffffff,#ffffff,#caffff,#48feff,#4adeff,#4ac0ff,#4aa7ff,#4a97ff,#4a93ff,#4a98ff,#4aa1ff,#4aafff,#4abbff,#4ac5ff,#4ad0ff,#4adcff,#49eaff,#48f7ff,#52ffff,#6bffff,#7cffff,#88ffff,#90ffff,#94ffff,#96ffff,#96ffff,#94ffff,#90ffff,#8affff,#82ffff,#77ffff,#6affff,#5cffff)"></div>
<div style="top:768px;left:208.0px;width:1536px;background:linear-gradient(90deg,#4fffff,#52ffff,#55ffff,#59ffff,#5effff,#62ffff,#65ffff,#65ffff,#62ffff,#5bffff,#51ffff,#48fdff,#48f6ff,#49ecff,#49e2ff,#4ad6ff,#4accff,#4ac3ff,#4abbff,#4ab3ff,#4aa9ff,#4a9fff,#4a99ff,#4a95ff,#4a95ff,#4a96ff,#4a9aff,#4aa0ff,#4aa8ff,#4ab0ff,#4ab6ff,#4abeff,#4ac6ff,#4ad0ff,#4adbff,#49e6ff,#49efff,#48f7ff,#4cffff,#72ffff,#9effff,#bcffff,#c9ffff,#d1ffff,#d6ffff,#d9ffff,#d5ffff,#cfffff,#c6ffff,#b5ffff,#95ffff,#72ffff,#5affff,#4dffff,#48feff,#48feff,#4fffff,#65ffff,#81ffff,#9bffff,#b9ffff,#f5ffff,#ffffff,#ffffff,#ffffff,#ffffff,#ffffff,#ffffff,#90ffff,#49e2ff,#4ac1ff,#4a9dff,#4a7dff,#496cff,#496bff,#4974ff,#4a85ff,#4a99ff,#4aaeff,#4abcff,#4ac7ff,#4ad2ff,#49dfff,#49ecff,#48f8ff,#4dffff,#5effff,#6affff,#71ffff,#75ffff,#77ffff,#77ffff,#76ffff,#72ffff,#6cffff,#64ffff,#5affff)"></div>
<div style="top:784px;left:192.0px;width:1504px;background:linear-gradient(90deg,#4fffff,#51ffff,#54ffff,#58ffff,#5dffff,#62ffff,#66ffff,#69ffff,#69ffff,#65ffff,#5effff,#53ffff,#48feff,#48f7ff,#49eeff,#49e4ff,#4ad9ff,#4acfff,#4ac6ff,#4abdff,#4ab5ff,#4aabff,#4aa1ff,#4a99ff,#4a94ff,#4a92ff,#4a93ff,#4a95ff,#4a9bff,#4aa2ff,#4aaaff,#4ab2ff,#4abaff,#4ac3ff,#4aceff,#4adaff,#49e5ff,#49eeff,#48f6ff,#50ffff,#7effff,#acffff,#c5ffff,#d2ffff,#e4ffff,#f3ffff,#f7ffff,#f1ffff,#dfffff,#ceffff,#c0ffff,#a3ffff,#78ffff,#55ffff,#48fdff,#48faff,#48f9ff,#48fdff,#57ffff,#74ffff,#90ffff,#a9ffff,#dbffff,#ffffff,#ffffff,#ffffff,#ffffff,#ffffff,#ceffff,#49ebff,#4abfff,#4a9cff,#4970ff,#464dff,#4848fc,#4949fc,#4646ff,#475bff,#4a7cff,#4a9bff,#4ab2ff,#4abfff,#4acaff,#4ad5ff,#49e1ff,#49edff,#48f6ff,#48fcff,#4cffff,#52ffff,#56ffff,#58ffff,#58ffff,#57ffff,#53ffff)"></div>
<div style="top:800px;left:192.0px;width:1488px;background:linear-gradient(90deg,#50ffff,#53ffff,#57ffff,#5cffff,#60ffff,#66ffff,#6affff,#6cffff,#6cffff,#68ffff,#61ffff,#56ffff,#48ffff,#48f8ff,#49efff,#49e5ff,#4adbff,#4ad1ff,#4ac9ff,#4ac0ff,#4ab7ff,#4aaeff,#4aa2ff,#4a99ff,#4a93ff,#4a8fff,#4a8eff,#4a8fff,#4a93ff,#4a99ff,#4aa0ff,#4aaaff,#4ab4ff,#4abeff,#4acaff,#4ad7ff,#49e2ff,#49ebff,#48f5ff,#53ffff,#86ffff,#b2ffff,#c9ffff,#e4ffff,#fcffff,#ffffff,#ffffff,#ffffff,#f9ffff,#dbffff,#c4ffff,#aaffff,#7bffff,#49ffff,#48f4ff,#49f0ff,#49efff,#49f2ff,#48f9ff,#57ffff,#78ffff,#93ffff,#b4ffff,#edffff,#ffffff,#ffffff,#feffff,#caffff,#48f7ff,#4abfff,#4a9cff,#4975ff,#4649ff,#4d4df7,#5151f2,#5353f1,#5151f2,#4c4cf8,#4754ff,#4a82ff,#4aa1ff,#4ab5ff,#4ac0ff,#4acbff,#4ad7ff,#49e2ff,#49ebff,#49f1ff,#48f5ff,#48f8ff,#48f9ff,#48faff,#48faff,#48f9ff)"></div>
<div style="top:816px;left:192.0px;width:1440px;background:linear-gradient(90deg,#52ffff,#55ffff,#59ffff,#5effff,#63ffff,#69ffff,#6dffff,#6fffff,#6fffff,#6bffff,#63ffff,#58ffff,#49ffff,#48f8ff,#49f0ff,#49e7ff,#4addff,#4ad4ff,#4accff,#4ac3ff,#4abaff,#4ab0ff,#4aa4ff,#4a9aff,#4a92ff,#4a8dff,#4a89ff,#4a88ff,#4a8aff,#4a8eff,#4a95ff,#4a9dff,#4aa9ff,#4ab7ff,#4ac4ff,#4ad2ff,#4adeff,#49e8ff,#49f2ff,#51ffff,#88ffff,#b4ffff,#cdffff,#f4ffff,#ffffff,#ffffff,#ffffff,#ffffff,#ffffff,#eeffff,#c6ffff,#abffff,#77ffff,#48f7ff,#49e7ff,#49e0ff,#49dfff,#49e1ff,#49e8ff,#49f3ff,#4fffff,#71ffff,#8bffff,#a3ffff,#baffff,#c2ffff,#8effff,#49ecff,#4ac0ff,#4a9bff,#4972ff,#4d4df7,#5959ea,#6060e3,#6161e1,#5b5be7,#5a5ae9,#5656ee,#4d4df8,#485eff,#4a8aff,#4aa4ff,#4ab5ff,#4ac1ff,#4accff,#4ad7ff,#49e1ff,#49e7ff,#49ebff,#49edff,#49efff)"></div>
<div style="top:832px;left:192.0px;width:1440px;background:linear-gradient(90deg,#52ffff,#56ffff,#5bffff,#60ffff,#65ffff,#6affff,#6fffff,#71ffff,#71ffff,#6dffff,#66ffff,#5affff,#4bffff,#48f9ff,#49f0ff,#49e8ff,#49dfff,#4ad6ff,#4aceff,#4ac6ff,#4abdff,#4ab2ff,#4aa6ff,#4a9aff,#4a91ff,#4a8aff,#4a85ff,#4a82ff,#4a82ff,#4a84ff,#4a89ff,#4a91ff,#4a9dff,#4aaeff,#4abdff,#4accff,#4ad8ff,#49e3ff,#49eeff,#48ffff,#83ffff,#b0ffff,#cfffff,#f9ffff,#ffffff,#ffffff,#ffffff,#ffffff,#ffffff,#f4ffff,#c5ffff,#a4ffff,#68ffff,#49ecff,#4ad6ff,#4aceff,#4accff,#4acdff,#4ad1ff,#4adcff,#49ebff,#48fbff,#5fffff,#72ffff,#72ffff,#54ffff,#49e7ff,#4ac2ff,#4a9dff,#4977ff,#4f4ff5,#7373c7,#7b7eb7,#7a82b1,#7a7fb5,#6a6ad5,#6060e2,#5d5de6,#5555ee,#4a4afb,#486aff,#4a8dff,#4aa3ff,#4ab4ff,#4ac1ff,#4acdff,#4ad6ff,#4addff,#49e1ff,#49e4ff,#49e5ff)"></div>
<div style="top:848px;left:192.0px;width:1440px;background:linear-gradient(90deg,#51ffff,#55ffff,#5affff,#60ffff,#65ffff,#6affff,#6fffff,#72ffff,#72ffff,#6effff,#67ffff,#5cffff,#4cffff,#48f9ff,#49f1ff,#49e8ff,#49e0ff,#4ad8ff,#4ad1ff,#4ac9ff,#4abfff,#4ab4ff,#4aa7ff,#4a9aff,#4a90ff,#4a88ff,#4a81ff,#4a7cff,#4a7aff,#4a7bff,#4a80ff,#4a87ff,#4a92ff,#4aa3ff,#4ab6ff,#4ac6ff,#4ad3ff,#4addff,#49e7ff,#48f8ff,#72ffff,#a6ffff,#c7ffff,#f4ffff,#ffffff,#ffffff,#ffffff,#ffffff,#ffffff,#ecffff,#bdffff,#94ffff,#4affff,#4addff,#4ac8ff,#4abfff,#4abbff,#4abaff,#4abdff,#4ac5ff,#4ad1ff,#49e1ff,#49f1ff,#48fbff,#48f9ff,#49e6ff,#4ac6ff,#4a9eff,#4973ff,#4949fc,#6969d6,#7a83af,#788da0,#78909c,#788ca1,#7b7bbc,#6868d7,#6363df,#5d5de6,#5252f2,#4648ff,#4974ff,#4a8fff,#4aa4ff,#4ab6ff,#4ac3ff,#4acdff,#4ad4ff,#4ad9ff,#4adbff,#4adcff)"></div>
<div style="top:864px;left:192.0px;width:1440px;background:linear-gradient(90deg,#4dffff,#52ffff,#57ffff,#5dffff,#63ffff,#68ffff,#6dffff,#70ffff,#71ffff,#6effff,#67ffff,#5cffff,#4cffff,#48f9ff,#49f1ff,#49e8ff,#49e1ff,#4ad9ff,#4ad2ff,#4acbff,#4ac1ff,#4ab5ff,#4aa7ff,#4a9aff,#4a8eff,#4a85ff,#4a7eff,#4977ff,#4974ff,#4974ff,#4977ff,#4a7fff,#4a8aff,#4a9bff,#4ab0ff,#4ac0ff,#4acdff,#4ad7ff,#49e0ff,#49eeff,#59ffff,#96ffff,#beffff,#e2ffff,#fdffff,#ffffff,#ffffff,#ffffff,#faffff,#d5ffff,#b0ffff,#7affff,#49f0ff,#4aceff,#4abdff,#4ab3ff,#4aabff,#4aa7ff,#4aa9ff,#4ab1ff,#4abbff,#4ac9ff,#4ad7ff,#49e1ff,#4addff,#4ac8ff,#4aa2ff,#496fff,#4848fd,#5b5be7,#7b7eb7,#788ca1,#749e83,#739f80,#779397,#788ba3,#7272c8,#6767d9,#6262e0,#5858eb,#4c4cf9,#485cff,#4a7dff,#4a94ff,#4aa9ff,#4abaff,#4ac5ff,#4acdff,#4ad1ff,#4ad3ff,#4ad5ff)"></div>
<div style="top:880px;left:192.0px;width:1408px;background:linear-gradient(90deg,#48feff,#4bffff,#51ffff,#57ffff,#5dffff,#63ffff,#69ffff,#6dffff,#6effff,#6cffff,#66ffff,#5bffff,#4cffff,#48f9ff,#49f0ff,#49e8ff,#49e1ff,#4adaff,#4ad3ff,#4accff,#4ac2ff,#4ab6ff,#4aa7ff,#4a98ff,#4a8cff,#4a82ff,#4a79ff,#4973ff,#496eff,#496dff,#4970ff,#4977ff,#4a82ff,#4a92ff,#4aa7ff,#4abaff,#4ac7ff,#4ad0ff,#4ad7ff,#49e3ff,#48f9ff,#7fffff,#b2ffff,#ccffff,#e6ffff,#f5ffff,#f9ffff,#f3ffff,#ddffff,#c2ffff,#9effff,#56ffff,#4addff,#4ac1ff,#4ab2ff,#4aa6ff,#4a9aff,#4a93ff,#4a93ff,#4a9aff,#4aa6ff,#4ab5ff,#4ac2ff,#4ac9ff,#4ac5ff,#4aadff,#4a7dff,#4747fe,#5151f3,#6060e2,#7b7db9,#788da0,#769a8b,#759c89,#779397,#7989a6,#7272c8,#6969d5,#6464dd,#5b5be8,#4f4ff5,#464bff,#496cff,#4a86ff,#4a9dff,#4ab2ff,#4abeff,#4ac7ff,#4acbff)"></div>
<div style="top:896px;left:176.0px;width:1392px;background:linear-gradient(90deg,#48faff,#48fcff,#48fdff,#48ffff,#4effff,#54ffff,#5bffff,#62ffff,#67ffff,#69ffff,#68ffff,#63ffff,#59ffff,#4bffff,#48f9ff,#49f0ff,#49e8ff,#49e0ff,#4adaff,#4ad4ff,#4acdff,#4ac3ff,#4ab6ff,#4aa5ff,#4a94ff,#4a87ff,#4a7dff,#4974ff,#496cff,#4868ff,#4866ff,#4867ff,#496cff,#4977ff,#4a87ff,#4a9bff,#4ab0ff,#4abdff,#4ac6ff,#4acbff,#4ad3ff,#49e6ff,#55ffff,#97ffff,#bbffff,#caffff,#d3ffff,#d7ffff,#d0ffff,#c4ffff,#acffff,#79ffff,#49efff,#4ac9ff,#4ab3ff,#4aa4ff,#4a96ff,#4a87ff,#4a7cff,#4a7aff,#4a81ff,#4a8cff,#4a9cff,#4aadff,#4ab5ff,#4ab1ff,#4a94ff,#4861ff,#4d4df7,#5858eb,#6060e2,#7272c8,#788ba2,#779199,#779397,#78909b,#7b7db9,#6f6fcd,#6b6bd2,#6666da,#5d5de5,#5252f2,#4848fc,#475cff,#4978ff,#4a92ff,#4aa8ff,#4ab8ff)"></div>
<div style="top:912px;left:176.0px;width:1392px;background:linear-gradient(90deg,#48f8ff,#48f9ff,#48faff,#48fbff,#48fdff,#49ffff,#4fffff,#56ffff,#5cffff,#60ffff,#61ffff,#5dffff,#55ffff,#48ffff,#48f8ff,#49f0ff,#49e7ff,#49dfff,#4ad9ff,#4ad3ff,#4accff,#4ac2ff,#4ab4ff,#4aa0ff,#4a8dff,#4a7eff,#4972ff,#4869ff,#4862ff,#485dff,#475aff,#4759ff,#475cff,#4863ff,#4972ff,#4a86ff,#4a9aff,#4aabff,#4ab4ff,#4ab8ff,#4abdff,#4acaff,#49e4ff,#53ffff,#89ffff,#a7ffff,#b5ffff,#b8ffff,#b0ffff,#9cffff,#72ffff,#49f2ff,#4accff,#4ab0ff,#4a9bff,#4a8eff,#4a7eff,#4869ff,#4759ff,#4754ff,#4759ff,#4866ff,#4979ff,#4a8aff,#4a96ff,#4a94ff,#4a7dff,#464aff,#5252f1,#5d5de6,#6464dd,#6c6cd1,#7b7db7,#7a84ae,#7986ab,#7a83af,#7575c4,#7070cc,#6d6dd0,#6767d8,#5f5fe3,#5555ee,#4d4df7,#4648ff,#4866ff,#4a84ff,#4a9eff,#4ab1ff)"></div>
<div style="top:928px;left:176.0px;width:1392px;background:linear-gradient(90deg,#48f6ff,#48f6ff,#48f7ff,#48f8ff,#48f9ff,#48faff,#48fcff,#48ffff,#4effff,#53ffff,#56ffff,#54ffff,#4fffff,#48feff,#48f7ff,#49efff,#49e6ff,#4adeff,#4ad7ff,#4ad1ff,#4acaff,#4abfff,#4aafff,#4a95ff,#4a7fff,#496cff,#485fff,#4757ff,#4750ff,#464aff,#4646ff,#4747fe,#4747fd,#4747fe,#474eff,#485fff,#4975ff,#4a86ff,#4a8fff,#4a93ff,#4a96ff,#4aa0ff,#4ab5ff,#4aceff,#49e8ff,#48fbff,#5affff,#62ffff,#53ffff,#48f5ff,#4adbff,#4abeff,#4aa0ff,#4a89ff,#4a7bff,#496dff,#4759ff,#4747fe,#4c4cf8,#4f4ff5,#4e4ef6,#4c4cf8,#4848fd,#4751ff,#4861ff,#4865ff,#4756ff,#4b4bf9,#5757ed,#6161e1,#6767d9,#6b6bd2,#7070cc,#7272c8,#7474c6,#7474c6,#7272c8,#7171ca,#6e6ece,#6969d6,#6262e0,#5a5ae9,#5353f1,#4c4cf8,#474dff,#4971ff,#4a90ff,#4aa7ff)"></div>
<div style="top:944px;left:176.0px;width:1376px;background:linear-gradient(90deg,#49f4ff,#49f4ff,#49f4ff,#49f4ff,#48f5ff,#48f6ff,#48f7ff,#48f9ff,#48fbff,#48feff,#4affff,#4bffff,#48ffff,#48fcff,#48f6ff,#49eeff,#49e4ff,#4adbff,#4ad4ff,#4aceff,#4ac7ff,#4abaff,#4aa4ff,#4a86ff,#4867ff,#4752ff,#4646ff,#4848fd,#4a4afb,#4c4cf9,#4e4ef6,#4f4ff5,#5050f3,#5151f3,#4f4ff5,#4c4cf8,#4848fd,#474eff,#4757ff,#475bff,#485eff,#4864ff,#4973ff,#4a8aff,#4aa3ff,#4ab7ff,#4ac2ff,#4ac6ff,#4ac0ff,#4ab3ff,#4a9bff,#4a84ff,#496fff,#4862ff,#4757ff,#464aff,#4a4afa,#5151f3,#5757ec,#5a5ae9,#5b5be7,#5a5ae9,#5858eb,#5454ef,#5050f3,#4e4ef6,#4e4ef6,#5252f2,#5a5ae9,#6262e0,#6868d7,#6c6cd1,#6f6fcc,#7171c9,#7373c7,#7373c7,#7272c8,#7171ca,#6e6ece,#6a6ad4,#6565dc,#5f5fe3,#5a5ae9,#5353f1,#4b4bf9,#4758ff,#4a80ff)"></div>
<div style="top:960px;left:176.0px;width:1360px;background:linear-gradient(90deg,#49f0ff,#49f0ff,#49f0ff,#49f1ff,#49f1ff,#49f1ff,#49f2ff,#49f4ff,#48f6ff,#48f9ff,#48fcff,#48fdff,#48fdff,#48faff,#48f5ff,#49ecff,#49e2ff,#4ad8ff,#4ad1ff,#4acbff,#4ac3ff,#4ab4ff,#4a98ff,#4972ff,#474eff,#4a4afb,#4d4df7,#4f4ff5,#5151f2,#5454f0,#5656ed,#5858eb,#5a5ae9,#5a5ae8,#5a5ae9,#5858ec,#5454ef,#5151f3,#4e4ef6,#4d4df7,#4d4df8,#4b4bf9,#4949fc,#4649ff,#475bff,#496cff,#4978ff,#4a7cff,#4a79ff,#4970ff,#4863ff,#4757ff,#474eff,#4646ff,#4848fd,#4b4bf9,#5151f3,#5858eb,#5e5ee4,#6262df,#6464dd,#6464dc,#6464de,#6262e0,#5f5fe3,#5c5ce7,#5a5ae9,#5a5ae9,#5c5ce6,#6262e0,#6767d9,#6b6bd2,#6f6fcd,#7171ca,#7272c8,#7272c8,#7171c9,#7070cb,#6e6ece,#6b6bd3,#6767d8,#6464dd,#5f5fe3,#5959ea,#5252f2,#4848fd)"></div>
<div style="top:976px;left:176.0px;width:1376px;background:linear-gradient(90deg,#49ecff,#49ecff,#49ecff,#49ecff,#49edff,#49edff,#49eeff,#49efff,#49f2ff,#48f5ff,#48f8ff,#48faff,#48faff,#48f8ff,#49f3ff,#49eaff,#49dfff,#4ad5ff,#4aceff,#4ac7ff,#4abdff,#4aacff,#4a89ff,#475bff,#4b4bfa,#5151f3,#5454ef,#5757ec,#5959ea,#5b5be8,#5e5ee5,#6060e2,#6262e1,#6262e0,#6262e0,#6060e2,#5d5de5,#5a5ae9,#5757ec,#5656ed,#5555ee,#5454f0,#5151f2,#4f4ff5,#4c4cf9,#4949fb,#4747fe,#4646ff,#4647ff,#4646ff,#4747fe,#4747fd,#4848fc,#4a4afb,#4c4cf9,#4f4ff5,#5555ee,#5c5ce6,#6262df,#6666da,#6868d7,#6969d5,#6a6ad5,#6969d6,#6767d8,#6565dc,#6262e0,#6060e2,#5f5fe3,#6060e2,#6363de,#6868d8,#6c6cd2,#6f6fcd,#7070cb,#7070cb,#6f6fcc,#6e6ece,#6d6dd0,#6b6bd3,#6969d6,#6666da,#6363df,#5e5ee5,#5656ed,#4c4cf8,#475aff)"></div>
<div style="top:992px;left:176.0px;width:1376px;background:linear-gradient(90deg,#49e6ff,#49e6ff,#49e7ff,#49e7ff,#49e7ff,#49e8ff,#49e9ff,#49eaff,#49edff,#49f0ff,#49f4ff,#48f6ff,#48f6ff,#49f4ff,#49efff,#49e6ff,#4adaff,#4ad0ff,#4ac8ff,#4ac1ff,#4ab6ff,#4a9dff,#4973ff,#4848fd,#5252f1,#5959ea,#5c5ce6,#5f5fe4,#6161e1,#6363df,#6565dc,#6666da,#6868d8,#6868d7,#6868d7,#6767d9,#6464dd,#6161e1,#6d6dcf,#7b7bbb,#7a7abc,#7171ca,#5959ea,#5656ee,#5454f0,#5252f2,#5050f4,#4f4ff5,#4e4ef6,#4d4df8,#4c4cf9,#4b4bfa,#4b4bfa,#4c4cf9,#4e4ef7,#5151f2,#5757ec,#5e5ee4,#6464dd,#6767d8,#6969d5,#6b6bd3,#6c6cd1,#6d6dd0,#6c6cd1,#6a6ad4,#6767d8,#6565dc,#6262e0,#6060e2,#6060e2,#6363df,#6666da,#6a6ad4,#6c6cd2,#6c6cd1,#6c6cd1,#6c6cd1,#6c6cd2,#6b6bd3,#6969d5,#6767d8,#6565dc,#6060e2,#5959ea,#4f4ff5,#474fff)"></div>
<div style="top:1008px;left:192.0px;width:1344px;background:linear-gradient(90deg,#49dfff,#49e0ff,#49e0ff,#49e0ff,#49e1ff,#49e1ff,#49e3ff,#49e5ff,#49e9ff,#49ecff,#49eeff,#49eeff,#49ecff,#49e6ff,#4addff,#4ad1ff,#4ac7ff,#4abfff,#4ab6ff,#4aa6ff,#4a87ff,#4752ff,#5151f3,#5c5ce7,#6262e0,#6565db,#6767d8,#6969d6,#6a6ad4,#6c6cd1,#6d6dcf,#6e6ece,#6f6fcd,#6f6fcd,#6e6ece,#6c6cd2,#6d6dd0,#7987a9,#788ba2,#788ba2,#7988a7,#6a6ad4,#5c5ce7,#5c5ce7,#5b5be8,#5959ea,#5858eb,#5656ed,#5454f0,#5151f3,#4f4ff5,#4d4df7,#4d4df7,#4f4ff5,#5353f1,#5959ea,#5f5fe3,#6464dd,#6767d9,#6969d6,#6b6bd3,#6c6cd1,#6e6ecf,#6e6ece,#6d6dd0,#6b6bd3,#6868d7,#6565dc,#6161e1,#5f5fe4,#5e5ee5,#5f5fe3,#6363df,#6565db,#6767d8,#6969d6,#6969d5,#6a6ad4,#6a6ad5,#6969d6,#6767d8,#6565dc,#6060e2,#5959ea,#5050f4)"></div>
<div style="top:1024px;left:208.0px;width:1328px;background:linear-gradient(90deg,#4ad8ff,#4ad8ff,#4ad8ff,#4ad8ff,#4ad8ff,#4ad9ff,#4adaff,#4addff,#49dfff,#49e1ff,#49e1ff,#4adeff,#4ad8ff,#4aceff,#4ac3ff,#4ab8ff,#4aaeff,#4aa0ff,#4a8bff,#4863ff,#4d4df7,#5b5be8,#6565dc,#6a6ad4,#6d6dcf,#6f6fcd,#7171ca,#7272c8,#7474c5,#7676c3,#7777c1,#7777c0,#7777c0,#7777c1,#7575c4,#7a80b3,#788ba2,#76998d,#739e82,#798aa4,#7b7cb9,#5f5fe3,#6161e1,#6363df,#6262df,#6161e1,#5f5fe3,#5c5ce6,#5858eb,#5454f0,#5050f4,#4f4ff5,#5050f4,#5454ef,#5a5ae9,#5f5fe3,#6363df,#6565dc,#6767d9,#6969d6,#6b6bd3,#6d6dd0,#6e6ece,#6f6fcd,#6d6dd0,#6a6ad4,#6767d9,#6363df,#5f5fe4,#5b5be8,#5959ea,#5a5ae9,#5d5de5,#6161e1,#6464dd,#6666db,#6767d9,#6767d8,#6767d9,#6565db,#6363df,#5e5ee4,#5757ec,#4e4ef6)"></div>
<div style="top:1040px;left:208.0px;width:1072px;background:linear-gradient(90deg,#4ad0ff,#4ad0ff,#4acfff,#4aceff,#4aceff,#4acdff,#4acdff,#4aceff,#4acfff,#4ad0ff,#4acfff,#4acdff,#4ac7ff,#4abdff,#4ab0ff,#4a9fff,#4a91ff,#4a82ff,#4866ff,#4949fc,#5757ec,#6464dd,#6c6cd1,#7171c9,#7474c5,#7676c3,#7878c0,#7a7abd,#7b7cb9,#7a7eb6,#7a80b3,#7a81b1,#7a82b1,#7a81b3,#7b7cba,#7a7eb6,#7989a5,#779396,#76988f,#7a84ad,#6f6fcc,#5858eb,#5f5fe3,#6565db,#6868d7,#6868d7,#6666da,#6161e1,#5959ea,#5454ef,#5252f1,#5151f3,#5252f2,#5555ee,#5a5ae9,#5d5de5,#6060e2,#6262e0,#6464dd,#6666da,#6868d7,#6b6bd3,#6d6dcf,#6f6fcd,#6e6ece,#6c6cd1,#6969d6,#6464dd)"></div>
<div style="top:1056px;left:224.0px;width:1040px;background:linear-gradient(90deg,#4ac7ff,#4ac6ff,#4ac4ff,#4ac3ff,#4ac2ff,#4ac1ff,#4ac1ff,#4ac1ff,#4ac1ff,#4ac0ff,#4abdff,#4ab7ff,#4aabff,#4a97ff,#4a85ff,#4972ff,#485eff,#4747fe,#5252f2,#5f5fe3,#6a6ad4,#7272c9,#7676c2,#7979bf,#7a7abc,#7b7db8,#7a80b4,#7a83af,#7986aa,#7988a7,#7989a6,#7989a5,#7987a8,#7b7eb7,#6d6dd0,#7878bf,#7a81b2,#7b7cb9,#6f6fcc,#4c4cf8,#4f4ff5,#5757ec,#6262e0,#6969d5,#6a6ad5,#6161e1,#5151f3,#464aff,#4758ff,#4751ff,#4949fc,#5050f4,#5454ef,#5858eb,#5b5be8,#5d5de6,#5e5ee4,#6060e3,#6262e0,#6464dc,#6868d8,#6b6bd3,#6d6dd0,#6e6ece,#6d6dd0,#6a6ad5)"></div>
<div style="top:1072px;left:224.0px;width:1024px;background:linear-gradient(90deg,#4abeff,#4abcff,#4abaff,#4ab9ff,#4ab8ff,#4ab7ff,#4ab7ff,#4ab7ff,#4ab6ff,#4ab5ff,#4ab2ff,#4aaaff,#4a9aff,#4a85ff,#496eff,#4759ff,#4646fe,#4e4ef7,#5858eb,#6464dd,#6e6ecf,#7474c5,#7979bf,#7b7bbb,#7b7eb7,#7a81b2,#7a84ad,#7988a8,#788ba3,#788ca1,#788d9f,#788da0,#7989a5,#7a7abd,#6464dd,#5555ef,#4e4ef6,#485dff,#4a89ff,#4a84ff,#4754ff,#5050f4,#5c5ce6,#6666da,#6161e1,#4d4df7,#475aff,#4971ff,#4a7aff,#4a7cff,#4975ff,#464cff,#5050f4,#5454ef,#5757ed,#5858eb,#5959e9,#5b5be8,#5d5de6,#5f5fe3,#6363df,#6767d9,#6a6ad4,#6c6cd1,#6c6cd1)"></div>
<div style="top:1088px;left:224.0px;width:1024px;background:linear-gradient(90deg,#4ab4ff,#4ab2ff,#4ab0ff,#4aafff,#4aaeff,#4aadff,#4aadff,#4aaeff,#4aaeff,#4aacff,#4aa8ff,#4a9eff,#4a8eff,#4977ff,#485eff,#4647ff,#4b4bf9,#5252f1,#5c5ce7,#6767d9,#7070cc,#7676c3,#7a7abd,#7b7db8,#7a80b4,#7a83af,#7987aa,#798aa4,#788da0,#788e9e,#788f9d,#788e9e,#7988a7,#7575c4,#5f5fe4,#4949fb,#4a94ff,#4ac4ff,#4ad6ff,#4ac7ff,#4a96ff,#4747fe,#5757ec,#6161e1,#5454ef,#4753ff,#4a84ff,#4aa3ff,#4aa5ff,#4a87ff,#4a83ff,#4975ff,#4747fe,#4e4ef7,#5151f3,#5353f0,#5555ef,#5656ed,#5858ec,#5a5ae9,#5d5de6,#6161e1,#6565dc,#6868d7,#6969d6)"></div>
<div style="top:1104px;left:224.0px;width:1024px;background:linear-gradient(90deg,#4aa6ff,#4aa5ff,#4aa3ff,#4aa2ff,#4aa1ff,#4aa1ff,#4aa2ff,#4aa2ff,#4aa2ff,#4aa1ff,#4a9cff,#4a93ff,#4a82ff,#4869ff,#474eff,#4a4afb,#4f4ff5,#5757ec,#6060e2,#6969d5,#7171c9,#7777c1,#7b7bbc,#7b7eb7,#7a81b2,#7984ad,#7988a8,#788ba3,#788d9f,#788e9e,#788f9d,#788d9f,#7985ac,#7070cb,#5a5ae9,#485cff,#4ab4ff,#69ffff,#c9ffff,#7dffff,#4ab9ff,#4869ff,#5252f1,#5a5ae9,#4c4cf9,#4866ff,#4ab6ff,#4acfff,#4acbff,#4aa3ff,#4a87ff,#4a84ff,#496eff,#464cff,#4a4afa,#4e4ef6,#5050f4,#5151f2,#5353f1,#5454ef,#5757ec,#5a5ae8,#5e5ee4,#6262e0,#6363de)"></div>
<div style="top:1120px;left:224.0px;width:976px;background:linear-gradient(90deg,#4a97ff,#4a95ff,#4a94ff,#4a94ff,#4a93ff,#4a93ff,#4a92ff,#4a92ff,#4a91ff,#4a8fff,#4a8aff,#4a81ff,#496eff,#4754ff,#4949fc,#4f4ff5,#5555ef,#5c5ce7,#6464dd,#6c6cd1,#7373c7,#7878c0,#7b7bbb,#7a7fb5,#7a82b1,#7985ac,#7988a7,#788ba3,#788da0,#788e9e,#788e9e,#788ca1,#7a84ae,#6f6fcd,#5959ea,#486aff,#4ac2ff,#a2ffff,#ffffff,#b3ffff,#4accff,#4a7bff,#4f4ff5,#5656ed,#4848fd,#4978ff,#4ac2ff,#49efff,#4ad5ff,#4ab7ff,#4a8aff,#4a8aff,#4a88ff,#4971ff,#4753ff,#4848fd,#4c4cf9,#4d4df7,#4f4ff5,#5050f4,#5252f2,#5454f0)"></div>
<div style="top:1136px;left:224.0px;width:976px;background:linear-gradient(90deg,#4a86ff,#4a85ff,#4a84ff,#4a83ff,#4a81ff,#4a7fff,#4a7cff,#4978ff,#4974ff,#4970ff,#496aff,#485fff,#464dff,#4a4afa,#5151f3,#5656ed,#5b5be7,#6262e0,#6868d6,#6f6fcd,#7575c5,#7979bf,#7b7cba,#7a7fb5,#7a82b0,#7985ab,#7988a7,#798aa4,#788ca1,#788da0,#788da0,#788ba2,#7a84ad,#7272c9,#5c5ce7,#474eff,#4aa9ff,#48f5ff,#8bffff,#48ffff,#4ab2ff,#4867ff,#5050f4,#5757ec,#4a4afa,#4867ff,#4aacff,#4ac6ff,#4ac5ff,#4a97ff,#4a8bff,#4a91ff,#4a98ff,#4a89ff,#496eff,#4752ff,#4848fd,#4a4afa,#4c4cf9,#4d4df8,#4e4ef7,#4f4ff5)"></div>
<div style="top:1152px;left:224.0px;width:992px;background:linear-gradient(90deg,#4971ff,#496fff,#496eff,#496cff,#4868ff,#4863ff,#485cff,#4753ff,#464cff,#4646ff,#4848fd,#4a4afa,#4f4ff6,#5454ef,#5a5ae9,#5e5ee4,#6363df,#6767d8,#6c6cd1,#7171c9,#7676c3,#7979be,#7b7cb9,#7a7fb5,#7a82b0,#7985ac,#7987a8,#7989a5,#788ba3,#788ba3,#788ba3,#798aa5,#7985ac,#7676c3,#6161e1,#4d4df8,#4a81ff,#4aaeff,#4abcff,#4ab3ff,#4a8eff,#464bff,#5050f3,#5858eb,#4f4ff5,#485fff,#4a7bff,#4a8bff,#4a90ff,#4a8aff,#4a8fff,#4a9dff,#4aa1ff,#4a94ff,#4a7dff,#4860ff,#4649ff,#4848fc,#4a4afa,#4b4bfa,#4b4bf9,#4c4cf8,#4c4cf8)"></div>
<div style="top:1168px;left:224.0px;width:992px;background:linear-gradient(90deg,#4759ff,#4757ff,#4754ff,#4751ff,#464dff,#4646ff,#4949fc,#4c4cf9,#4e4ef6,#5050f4,#5151f2,#5454f0,#5858eb,#5d5de6,#6262e0,#6565db,#6868d7,#6b6bd2,#6f6fcd,#7373c7,#7777c2,#7979bd,#7b7cba,#7a7eb6,#7a81b2,#7a84ae,#7986aa,#7988a8,#7989a6,#7989a6,#7989a6,#7987a8,#7a83af,#7878c0,#6666db,#5454f0,#4848fd,#4868ff,#4a80ff,#4972ff,#4754ff,#4949fb,#5151f3,#5757ec,#5454f0,#4747fe,#4869ff,#4a7dff,#4a86ff,#4a8eff,#4a9bff,#4aa6ff,#4aa3ff,#4a96ff,#4a80ff,#4862ff,#464aff,#4949fc,#4a4afa,#4b4bfa,#4b4bf9,#4b4bfa,#4b4bfa)"></div>
<div style="top:1184px;left:224.0px;width:1008px;background:linear-gradient(90deg,#4848fd,#4848fd,#4949fc,#4a4afb,#4b4bfa,#4d4df8,#4f4ff5,#5252f1,#5555ef,#5757ed,#5858eb,#5b5be8,#5e5ee4,#6363df,#6666d9,#6969d5,#6c6cd2,#6e6ece,#7171ca,#7474c6,#7777c1,#7979be,#7b7bbb,#7b7db7,#7a80b4,#7a82b0,#7984ad,#7986aa,#7987a9,#7987a8,#7986aa,#7a82b0,#7a7abd,#7070cb,#6565dc,#5656ed,#4d4df8,#4848fd,#4649ff,#4647ff,#4848fd,#4c4cf9,#5050f4,#5454f0,#5353f1,#4d4df7,#4750ff,#4974ff,#4a89ff,#4a9bff,#4aa6ff,#4aa7ff,#4aa0ff,#4a90ff,#4978ff,#475aff,#4747fe,#4a4afa,#4b4bf9,#4c4cf9,#4c4cf9,#4b4bf9,#4a4afb,#4848fd)"></div>
<div style="top:1200px;left:224.0px;width:1008px;background:linear-gradient(90deg,#4e4ef6,#4e4ef6,#4f4ff5,#4f4ff5,#5050f4,#5252f2,#5454ef,#5757ec,#5a5ae9,#5b5be7,#5d5de6,#5f5fe3,#6262e0,#6666da,#6969d5,#6c6cd2,#6e6ecf,#6f6fcc,#7171c9,#7474c6,#7676c2,#7878bf,#7a7abc,#7b7cba,#7b7eb6,#7a80b3,#7a82b0,#7a84ad,#7985ac,#7985ac,#7a82b0,#7676c3,#6363df,#5454ef,#4e4ef6,#4747fe,#4758ff,#4751ff,#4747fe,#4949fc,#4b4bfa,#4d4df8,#4e4ef6,#4e4ef6,#4d4df7,#4949fc,#4755ff,#4978ff,#4a92ff,#4aa1ff,#4aa6ff,#4aa2ff,#4a96ff,#4a84ff,#4867ff,#464aff,#4a4afa,#4d4df8,#4d4df7,#4d4df7,#4c4cf8,#4b4bf9,#4949fb,#4646ff)"></div>
<div style="top:1216px;left:224.0px;width:992px;background:linear-gradient(90deg,#5454f0,#5454f0,#5454ef,#5555ef,#5656ee,#5757ec,#5959ea,#5c5ce7,#5e5ee5,#5f5fe3,#6161e1,#6363df,#6565db,#6969d6,#6b6bd2,#6e6ecf,#6f6fcd,#7070cb,#7272c9,#7474c6,#7676c3,#7777c0,#7979be,#7a7abc,#7b7cb9,#7b7eb6,#7a80b4,#7a81b1,#7a82b0,#7a81b1,#7979bd,#6363de,#4949fc,#496bff,#4a7cff,#4a88ff,#4a8dff,#4a80ff,#475aff,#4848fc,#4a4afa,#4a4afa,#4a4afa,#4949fb,#4848fd,#464dff,#4864ff,#4a81ff,#4a95ff,#4a9fff,#4a9fff,#4a96ff,#4a86ff,#496cff,#474eff,#4b4bfa,#4f4ff5,#5050f4,#5050f4,#4f4ff5,#4d4df7,#4b4bfa,#4747fd)"></div>
<div style="top:1232px;left:224.0px;width:1008px;background:linear-gradient(90deg,#5959e9,#5a5ae9,#5a5ae9,#5a5ae9,#5b5be8,#5c5ce6,#5f5fe4,#6161e1,#6363de,#6565dc,#6666da,#6767d8,#6969d5,#6c6cd2,#6e6ece,#6f6fcc,#7070cb,#7171ca,#7272c8,#7373c7,#7575c4,#7676c3,#7777c1,#7878bf,#7a7abd,#7b7bbb,#7b7db8,#7b7eb7,#7b7eb7,#7a7abd,#6b6bd3,#5050f4,#4973ff,#4ab4ff,#49e4ff,#4adcff,#4ab4ff,#4a94ff,#4a7bff,#4759ff,#4648ff,#4646ff,#4647ff,#4649ff,#474eff,#475aff,#496eff,#4a84ff,#4a92ff,#4a96ff,#4a90ff,#4a83ff,#496bff,#464dff,#4b4bf9,#5151f3,#5353f0,#5454f0,#5353f1,#5050f3,#4e4ef7,#4a4afb,#474dff,#4867ff)"></div>
<div style="top:1248px;left:208.0px;width:1040px;background:linear-gradient(90deg,#5f5fe3,#6060e3,#6060e2,#6060e2,#6060e2,#6161e1,#6363df,#6565db,#6868d7,#6b6bd3,#6c6cd1,#6d6dcf,#6e6ece,#6f6fcc,#7171ca,#7272c9,#7272c8,#7373c7,#7373c7,#7373c7,#7373c7,#7373c7,#7373c6,#7474c5,#7575c3,#7777c2,#7878c0,#7878bf,#7979be,#7777c1,#6c6cd0,#5252f1,#4868ff,#4aaeff,#63ffff,#90ffff,#8bffff,#48fcff,#4aaaff,#4a94ff,#4a80ff,#4868ff,#4864ff,#4864ff,#4865ff,#4864ff,#4864ff,#4970ff,#4a7fff,#4a86ff,#4a84ff,#4a79ff,#4865ff,#464aff,#4c4cf8,#5252f1,#5656ed,#5858ec,#5757ed,#5454ef,#5151f3,#4d4df8,#4747fe,#485dff,#4976ff,#4a86ff)"></div>
<div style="top:1264px;left:208.0px;width:1040px;background:linear-gradient(90deg,#6666da,#6666da,#6666da,#6666d9,#6767d9,#6868d7,#6a6ad4,#6d6dd0,#7171cb,#7474c6,#7575c3,#7676c2,#7777c1,#7777c2,#7676c2,#7676c3,#7676c3,#7575c4,#7474c5,#7373c7,#7171c9,#7070cb,#7070cc,#7070cb,#7171ca,#7272c9,#7272c8,#7272c8,#7171c9,#6e6ecf,#5d5de6,#475aff,#4a91ff,#4ad7ff,#8fffff,#e3ffff,#c3ffff,#78ffff,#4ac1ff,#4aa3ff,#4a94ff,#4a8eff,#4a98ff,#4a9aff,#4a9dff,#4a99ff,#4a83ff,#496fff,#4972ff,#4972ff,#486aff,#475bff,#4646ff,#4c4cf8,#5252f1,#5757ec,#5a5ae9,#5a5ae9,#5858eb,#5555ef,#5050f4,#4b4bfa,#474fff,#496bff,#4a80ff,#4a8aff)"></div>
<div style="top:1280px;left:224.0px;width:1040px;background:linear-gradient(90deg,#6c6cd1,#6d6dd0,#6d6dd0,#6e6ecf,#6f6fcd,#7171c9,#7575c4,#7979be,#7b7cb9,#7a7eb6,#7a7fb5,#7a7fb5,#7b7db8,#7b7bbb,#7979bd,#7878bf,#7777c1,#7575c4,#7373c7,#7070cc,#6d6dd0,#6b6bd3,#6a6ad3,#6b6bd3,#6b6bd2,#6b6bd2,#6a6ad3,#6868d7,#6464dd,#5454ef,#486aff,#4a98ff,#4acbff,#85ffff,#acffff,#9fffff,#63ffff,#4abaff,#4aa6ff,#4a9dff,#4aa4ff,#4aaaff,#4aacff,#4aadff,#4aabff,#4a9fff,#4974ff,#4860ff,#475aff,#4751ff,#4747fe,#4b4bf9,#5151f3,#5656ee,#5959ea,#5a5ae8,#5959e9,#5757ec,#5353f1,#4e4ef7,#4747fd,#485cff,#4975ff,#4a85ff,#4a8cff,#4a90ff)"></div>
<div style="top:1296px;left:224.0px;width:1072px;background:linear-gradient(90deg,#7373c8,#7373c7,#7373c7,#7474c5,#7575c3,#7878c0,#7b7cba,#7a80b3,#7a84ae,#7986ab,#7986ab,#7985ac,#7a82b0,#7a7fb5,#7b7cba,#7979be,#7777c1,#7474c5,#7171ca,#6c6cd1,#6868d7,#6565dc,#6464dd,#6464dd,#6464dd,#6363de,#6262e1,#5e5ee4,#5a5ae9,#5151f2,#475bff,#4a91ff,#4ab1ff,#49ebff,#6bffff,#5affff,#4ad8ff,#4aafff,#4aa6ff,#4aa4ff,#4aabff,#4ab1ff,#4abaff,#4ab5ff,#4aafff,#4aa9ff,#4a8bff,#4754ff,#4648ff,#4747fd,#4a4afb,#4e4ef6,#5252f2,#5656ed,#5959ea,#5959ea,#5757ec,#5454ef,#4f4ff4,#4a4afa,#474eff,#4867ff,#4a7bff,#4a87ff,#4a8eff,#4a91ff,#4a92ff,#4a93ff)"></div>
<div style="top:1312px;left:224.0px;width:1088px;background:linear-gradient(90deg,#7878c0,#7878c0,#7878bf,#7979be,#7b7bbb,#7b7eb7,#7a82b1,#7986ab,#7989a6,#798aa5,#798aa5,#7988a7,#7985ac,#7a81b3,#7b7cb9,#7979be,#7676c3,#7272c9,#6d6dd0,#6767d9,#6161e1,#5d5de6,#5b5be8,#5a5ae8,#5a5ae9,#5959ea,#5757ec,#5454f0,#5151f3,#4d4df7,#474eff,#4a89ff,#4aa7ff,#4ab2ff,#4abdff,#4abbff,#4ab3ff,#4aafff,#4aa9ff,#4aabff,#4aafff,#4ac4ff,#49eeff,#4ad8ff,#4ab3ff,#4aacff,#4a9cff,#4753ff,#4949fc,#4a4afa,#4c4cf8,#4e4ef6,#5252f2,#5555ef,#5757ed,#5656ed,#5454ef,#5050f4,#4c4cf9,#4646ff,#475bff,#4970ff,#4a80ff,#4a89ff,#4a8eff,#4a91ff,#4a92ff,#4a93ff,#4a93ff)"></div>
<div style="top:1328px;left:208.0px;width:1120px;background:linear-gradient(90deg,#7b7bbb,#7b7bba,#7b7cba,#7b7db8,#7b7eb7,#7a80b4,#7a83af,#7986aa,#798aa5,#788ca1,#788da0,#788ca1,#798aa4,#7986aa,#7a81b2,#7b7bbb,#7777c1,#7272c8,#6d6dd0,#6666db,#5e5ee5,#5656ed,#5252f2,#4f4ff5,#4e4ef6,#4d4df7,#4b4bf9,#4a4afb,#4848fc,#4747fe,#4646ff,#4753ff,#4a7eff,#4a9eff,#4aaaff,#4aacff,#4aafff,#4ab1ff,#4aaeff,#4aabff,#4aaeff,#4ab0ff,#4ac7ff,#49f2ff,#4adcff,#4ab3ff,#4aabff,#4a99ff,#4747fe,#4d4df7,#4d4df7,#4e4ef6,#4f4ff5,#5151f2,#5353f0,#5454ef,#5353f1,#5050f4,#4c4cf8,#4747fd,#4754ff,#4867ff,#4977ff,#4a83ff,#4a8bff,#4a8fff,#4a91ff,#4a92ff,#4a93ff,#4a93ff,#4a93ff)"></div>
<div style="top:1344px;left:208.0px;width:1120px;background:linear-gradient(90deg,#7a7fb6,#7a7fb5,#7a80b4,#7a81b2,#7a82b0,#7985ac,#7988a8,#788ba3,#788d9f,#788f9d,#788f9c,#788f9d,#788ca1,#7987a9,#7a80b3,#7979be,#7373c7,#6c6cd1,#6565dc,#5c5ce7,#5252f2,#4a4afa,#464bff,#475aff,#4863ff,#486aff,#4971ff,#4976ff,#4977ff,#4973ff,#496eff,#496cff,#4978ff,#4a8cff,#4a99ff,#4a9fff,#4aa4ff,#4aa8ff,#4aa8ff,#4aa8ff,#4aacff,#4aafff,#4ab3ff,#4abfff,#4ab7ff,#4aadff,#4aa3ff,#4972ff,#5151f3,#5454f0,#5353f1,#5252f1,#5252f1,#5252f1,#5353f1,#5252f2,#4f4ff5,#4c4cf9,#4848fd,#4750ff,#4861ff,#4970ff,#4a7dff,#4a86ff,#4a8cff,#4a8fff,#4a91ff,#4a92ff,#4a93ff,#4a93ff,#4a93ff)"></div>
<div style="top:1360px;left:240.0px;width:1088px;background:linear-gradient(90deg,#7a84ae,#7985ab,#7987a8,#798aa5,#788ca1,#788f9c,#779199,#779397,#779397,#779299,#788e9e,#7988a7,#7a7fb6,#7575c3,#6d6dd0,#6565dc,#5b5be8,#5151f3,#4747fe,#4864ff,#4a7dff,#4a8dff,#4a98ff,#4aa0ff,#4aa6ff,#4aa9ff,#4aa8ff,#4aa3ff,#4a9bff,#4a94ff,#4a8fff,#4a8eff,#4a90ff,#4a93ff,#4a97ff,#4a9bff,#4a9dff,#4a9eff,#4aa3ff,#4aabff,#4aadff,#4aacff,#4aabff,#4aa6ff,#4a8aff,#4f4ff5,#5a5ae8,#5c5ce7,#5b5be8,#5a5ae9,#5858eb,#5656ed,#5454f0,#5050f4,#4c4cf8,#4848fd,#474eff,#485dff,#496bff,#4978ff,#4a82ff,#4a88ff,#4a8dff,#4a90ff,#4a92ff,#4a93ff,#4a93ff,#4a93ff,#4a93ff)"></div>
<div style="top:1376px;left:256.0px;width:1072px;background:linear-gradient(90deg,#798aa4,#788ca1,#788e9e,#77919a,#779397,#779594,#779692,#779692,#779594,#77919a,#7989a6,#7b7db9,#7171c9,#6767d9,#5d5de6,#5252f2,#4747fe,#4869ff,#4a89ff,#4a9fff,#4ab1ff,#4abbff,#4ac2ff,#4ac6ff,#4ac7ff,#4ac5ff,#4ac1ff,#4abbff,#4ab5ff,#4aaeff,#4aa4ff,#4a99ff,#4a92ff,#4a8eff,#4a8cff,#4a8cff,#4a8bff,#4a8cff,#4a98ff,#4a9eff,#4a99ff,#4a96ff,#4a88ff,#4747fe,#5a5ae9,#6060e2,#6363de,#6464dd,#6363df,#6161e2,#5c5ce6,#5757ed,#5050f4,#4a4afb,#464bff,#475aff,#4867ff,#4973ff,#4a7dff,#4a85ff,#4a8aff,#4a8eff,#4a91ff,#4a93ff,#4a93ff,#4a93ff,#4a93ff,#4a93ff)"></div>
<div style="top:1392px;left:256.0px;width:1040px;background:linear-gradient(90deg,#788f9d,#78909b,#779298,#779496,#779593,#769790,#76988f,#76998e,#769790,#779397,#7989a5,#7b7bbb,#6e6ece,#6262e0,#5555ee,#4a4afa,#4861ff,#4a87ff,#4aa4ff,#4ab9ff,#4ac9ff,#4ad5ff,#4addff,#4adfff,#4adcff,#4ad8ff,#4ad2ff,#4accff,#4ac5ff,#4abdff,#4ab3ff,#4aa2ff,#4a90ff,#4a84ff,#4a7cff,#4978ff,#4973ff,#496cff,#4865ff,#485fff,#474fff,#4747fe,#4c4cf8,#5555ee,#5d5de5,#6363de,#6767d8,#6969d5,#6969d5,#6767d8,#6262df,#5a5ae9,#5050f4,#4848fd,#4753ff,#4862ff,#496dff,#4978ff,#4a81ff,#4a87ff,#4a8dff,#4a91ff,#4a93ff,#4a94ff,#4a95ff,#4a95ff)"></div>
<div style="top:1408px;left:256.0px;width:992px;background:linear-gradient(90deg,#779199,#779397,#779495,#779593,#779791,#76988f,#76998d,#769a8d,#76988e,#779693,#788f9d,#7985ac,#7373c7,#5e5ee4,#5050f4,#474eff,#4a7cff,#4aa0ff,#4abcff,#4ad0ff,#49e2ff,#49efff,#48f6ff,#48f5ff,#49f0ff,#49e8ff,#4adeff,#4ad3ff,#4acbff,#4ac2ff,#4ab6ff,#4aa2ff,#4a8bff,#4978ff,#496cff,#4865ff,#485eff,#4753ff,#4646ff,#4949fb,#4d4df8,#4f4ff5,#5353f1,#5757ec,#5e5ee5,#6464dc,#6969d5,#6c6cd1,#6d6dd0,#6b6bd3,#6565db,#5b5be7,#4f4ff5,#4646fe,#475aff,#4868ff,#4972ff,#4a7cff,#4a84ff,#4a8bff,#4a90ff,#4a94ff,#4a97ff)"></div>
<div style="top:1424px;left:256.0px;width:992px;background:linear-gradient(90deg,#779397,#779496,#779594,#779693,#779791,#76988f,#76998e,#76998d,#76998d,#76988f,#779692,#779298,#7986ab,#6464dd,#4b4bf9,#4866ff,#4a93ff,#4ab9ff,#4ad3ff,#49e9ff,#48f8ff,#52ffff,#5fffff,#5bffff,#4dffff,#48f7ff,#49e8ff,#4ad7ff,#4acaff,#4abeff,#4ab0ff,#4a99ff,#4a81ff,#486aff,#485cff,#4753ff,#464aff,#4848fd,#4b4bf9,#4e4ef6,#5050f4,#5252f2,#5454ef,#5858eb,#5e5ee4,#6464dc,#6a6ad5,#6d6dd0,#6e6ecf,#6b6bd2,#6565dc,#5858eb,#4c4cf8,#4750ff,#4864ff,#496fff,#4a79ff,#4a82ff,#4a8aff,#4a90ff,#4a96ff,#4a9aff,#4a9dff)"></div>
<div style="top:1440px;left:256.0px;width:992px;background:linear-gradient(90deg,#779496,#779495,#779494,#779594,#779693,#779691,#769790,#76988e,#76998d,#76998d,#76988e,#779692,#788e9f,#6f6fcd,#4949fb,#4a7dff,#4aabff,#4acdff,#49e9ff,#48fdff,#6dffff,#97ffff,#a2ffff,#88ffff,#6dffff,#4dffff,#49efff,#4ad7ff,#4ac4ff,#4ab4ff,#4aa0ff,#4a88ff,#496cff,#4756ff,#4648ff,#4848fd,#4b4bf9,#4f4ff5,#5252f2,#5454ef,#5555ee,#5656ee,#5757ed,#5959ea,#5e5ee5,#6363de,#6868d7,#6b6bd3,#6b6bd2,#6767d8,#5959ea,#4753ff,#4978ff,#4a84ff,#4a89ff,#4a83ff,#4a83ff,#4a8aff,#4a91ff,#4a98ff,#4a9dff,#4aa2ff,#4aa5ff)"></div>
<div style="top:1456px;left:256.0px;width:992px;background:linear-gradient(90deg,#779396,#779396,#779396,#779396,#779397,#779397,#779593,#76988f,#76998d,#749d85,#72a17d,#769a8c,#78909c,#7b7cb9,#5151f2,#4a8fff,#4abdff,#4adeff,#48faff,#88ffff,#deffff,#faffff,#fcffff,#ecffff,#a5ffff,#5bffff,#49f1ff,#4ad4ff,#4abbff,#4aa3ff,#4a8aff,#496dff,#4750ff,#4949fc,#4c4cf8,#4f4ff5,#5353f1,#5757ec,#5a5ae8,#5c5ce6,#5c5ce6,#5b5be8,#5a5ae8,#5b5be8,#5d5de5,#6161e1,#6565dc,#6666da,#6565dc,#5b5be8,#4971ff,#4aabff,#4ab3ff,#4ab3ff,#4ab3ff,#4aa7ff,#4a94ff,#4a94ff,#4a9bff,#4aa1ff,#4aa7ff,#4aabff,#4aafff)"></div>
<div style="top:1472px;left:256.0px;width:1008px;background:linear-gradient(90deg,#779297,#779299,#78919a,#788f9d,#788da0,#788ca1,#779397,#769790,#76998d,#71a27a,#6ea86d,#739e82,#779199,#7a83af,#5757ec,#4a9dff,#4acaff,#49ebff,#5effff,#daffff,#ffffff,#ffffff,#ffffff,#ffffff,#e9ffff,#6bffff,#49f0ff,#4ad1ff,#4ab3ff,#4a91ff,#4971ff,#4750ff,#4b4bfa,#5050f4,#5454ef,#5858ec,#5c5ce7,#6060e3,#6363df,#6464dd,#6363de,#6161e1,#5f5fe3,#5d5de6,#5c5ce6,#5d5de5,#5e5ee4,#5e5ee4,#5959ea,#464dff,#4aa8ff,#4ab9ff,#4abcff,#4abdff,#4abbff,#4ab7ff,#4aaaff,#4aa3ff,#4aa8ff,#4aadff,#4ab1ff,#4ab5ff,#4ab7ff,#4ab9ff)"></div>
<div style="top:1488px;left:256.0px;width:1008px;background:linear-gradient(90deg,#78909b,#788e9e,#788ba3,#7987a8,#7a83ae,#7a81b1,#798aa4,#779495,#779791,#759c88,#72a07f,#76998e,#788e9f,#7979be,#4b4bf9,#4aa9ff,#4ad2ff,#49f3ff,#83ffff,#f9ffff,#ffffff,#ffffff,#ffffff,#ffffff,#fbffff,#83ffff,#49edff,#4accff,#4aa9ff,#4a80ff,#475aff,#4949fb,#5151f3,#5757ed,#5b5be8,#5f5fe4,#6262e0,#6666db,#6868d7,#6969d5,#6868d6,#6666da,#6363df,#5e5ee4,#5b5be8,#5959ea,#5757ec,#5353f0,#4848fd,#4a9bff,#4ab8ff,#4abfff,#4ad1ff,#4ad9ff,#4ac4ff,#4abdff,#4ab9ff,#4ab4ff,#4ab5ff,#4ab8ff,#4abbff,#4abdff,#4abfff,#4ac1ff)"></div>
<div style="top:1504px;left:256.0px;width:1008px;background:linear-gradient(90deg,#788ba3,#7987a9,#7a82b1,#7b7cb9,#7878bf,#7676c3,#7979be,#798aa4,#779496,#779693,#779594,#779397,#7989a6,#6666d9,#4866ff,#4aa9ff,#4ad0ff,#49f2ff,#83ffff,#f9ffff,#ffffff,#ffffff,#ffffff,#ffffff,#f9ffff,#77ffff,#49e6ff,#4ac5ff,#4a9dff,#4970ff,#4648ff,#4e4ef6,#5555ee,#5b5be8,#5f5fe3,#6363df,#6666da,#6969d6,#6b6bd3,#6c6cd1,#6b6bd2,#6969d6,#6565dc,#5f5fe3,#5a5ae9,#5555ee,#5151f3,#4b4bfa,#496fff,#4ab2ff,#4abdff,#4ac5ff,#49f0ff,#48faff,#4ad0ff,#4abfff,#4abeff,#4abeff,#4abfff,#4ac1ff,#4ac3ff,#4ac5ff,#4ac6ff,#4ac7ff)"></div>
<div style="top:1520px;left:256.0px;width:1024px;background:linear-gradient(90deg,#7a82b0,#7b7cb9,#7777c1,#7373c7,#7070cb,#6e6ece,#6e6ece,#7a7abd,#788ba2,#788f9c,#788da0,#798aa4,#7a7abd,#5656ee,#496aff,#4a9dff,#4ac7ff,#49eaff,#60ffff,#dfffff,#ffffff,#ffffff,#ffffff,#ffffff,#dcffff,#48feff,#4adcff,#4abbff,#4a8fff,#4862ff,#4848fc,#5151f3,#5858eb,#5e5ee4,#6262e0,#6565db,#6868d7,#6b6bd3,#6c6cd1,#6d6dcf,#6d6dd0,#6a6ad4,#6565db,#5f5fe3,#5858eb,#5353f1,#4d4df7,#4647ff,#4a7dff,#4ab3ff,#4abeff,#4ac3ff,#4ad9ff,#49e2ff,#4ac9ff,#4ac1ff,#4ac2ff,#4ac5ff,#4ac7ff,#4ac8ff,#4ac9ff,#4acaff,#4acbff,#4accff,#4acdff)"></div>
<div style="top:1536px;left:272.0px;width:1008px;background:linear-gradient(90deg,#7373c7,#6f6fcd,#6c6cd1,#6a6ad3,#6969d5,#6969d6,#6b6bd3,#7272c8,#7676c3,#7272c9,#6d6dcf,#5f5fe4,#4c4cf9,#4860ff,#4a8dff,#4abaff,#4adfff,#48fcff,#91ffff,#e4ffff,#fbffff,#fbffff,#deffff,#7fffff,#49efff,#4ad1ff,#4ab0ff,#4a84ff,#4758ff,#4b4bfa,#5454f0,#5b5be7,#6161e1,#6565dc,#6767d9,#6969d5,#6b6bd2,#6d6dd0,#6e6ecf,#6d6dd0,#6a6ad4,#6565db,#5f5fe4,#5858eb,#5252f2,#4c4cf9,#474fff,#4a7fff,#4aafff,#4ac0ff,#4ac1ff,#4ac3ff,#4ac4ff,#4ac2ff,#4ac2ff,#4ac8ff,#4accff,#4accff,#4accff,#4acdff,#4acdff,#4aceff,#4aceff,#4aceff)"></div>
<div style="top:1552px;left:272.0px;width:1008px;background:linear-gradient(90deg,#6b6bd2,#6969d5,#6868d8,#6767d9,#6666da,#6666db,#6565dc,#6464dd,#6262df,#5f5fe3,#5a5ae9,#5353f0,#4b4bf9,#4754ff,#4a7fff,#4aacff,#4ad0ff,#49eeff,#4cffff,#6dffff,#8dffff,#89ffff,#5affff,#48f4ff,#49e0ff,#4ac5ff,#4aa2ff,#4977ff,#464cff,#4f4ff5,#5959ea,#6161e1,#6666da,#6868d7,#6a6ad5,#6b6bd3,#6c6cd1,#6d6dcf,#6e6ecf,#6d6dd0,#6a6ad4,#6565dc,#5e5ee4,#5858ec,#5252f2,#4c4cf9,#474eff,#4a7bff,#4aa8ff,#4abfff,#4ac2ff,#4ac3ff,#4ac3ff,#4ac3ff,#4ac6ff,#4acdff,#4aceff,#4acdff,#4acdff,#4acdff,#4acdff,#4aceff,#4aceff,#4aceff)"></div>
<div style="top:1568px;left:304.0px;width:976px;background:linear-gradient(90deg,#6464dd,#6464de,#6363de,#6363df,#6161e1,#6060e2,#5d5de5,#5a5ae9,#5757ed,#5252f1,#4d4df8,#4648ff,#496dff,#4a97ff,#4abdff,#4ad7ff,#49e9ff,#49f3ff,#48f6ff,#49f3ff,#49eaff,#4adcff,#4acaff,#4ab3ff,#4a8dff,#4861ff,#4b4bf9,#5757ec,#6262e0,#6969d5,#6d6dcf,#6e6ece,#6f6fcd,#6e6ece,#6e6ece,#6e6ecf,#6d6dcf,#6c6cd1,#6969d6,#6464dd,#5e5ee4,#5858eb,#5353f0,#4e4ef6,#4646fe,#496fff,#4a9aff,#4ab8ff,#4ac2ff,#4ac6ff,#4ac7ff,#4ac7ff,#4acaff,#4acbff,#4acbff,#4acaff,#4acaff,#4acaff,#4acaff,#4acaff,#4acaff,#4acaff)"></div>
<div style="top:1584px;left:320.0px;width:960px;background:linear-gradient(90deg,#6060e2,#5f5fe3,#5f5fe4,#5e5ee5,#5c5ce7,#5a5ae9,#5757ec,#5555ef,#5252f2,#4e4ef6,#4949fb,#4757ff,#4a7dff,#4a9fff,#4ab9ff,#4ac8ff,#4ad1ff,#4ad5ff,#4ad2ff,#4acaff,#4abdff,#4aadff,#4a90ff,#4868ff,#4a4afb,#5757ec,#6464dd,#6d6dcf,#7373c7,#7575c3,#7575c3,#7474c5,#7373c7,#7171ca,#6f6fcc,#6d6dcf,#6b6bd3,#6868d7,#6363de,#5e5ee4,#5a5ae9,#5656ed,#5252f2,#4b4bfa,#475aff,#4a86ff,#4aa4ff,#4ab4ff,#4abbff,#4abeff,#4ac0ff,#4ac1ff,#4ac2ff,#4ac3ff,#4ac3ff,#4ac3ff,#4ac4ff,#4ac4ff,#4ac4ff,#4ac4ff,#4ac4ff)"></div>
<div style="top:1600px;left:336.0px;width:944px;background:linear-gradient(90deg,#5c5ce7,#5b5be8,#5a5ae9,#5959ea,#5757ec,#5555ee,#5454f0,#5353f1,#5151f3,#4e4ef6,#4949fb,#4755ff,#4974ff,#4a8cff,#4a9cff,#4aa7ff,#4aadff,#4aabff,#4aa3ff,#4a96ff,#4a82ff,#4860ff,#4b4bf9,#5959ea,#6666da,#7070cc,#7777c1,#7b7bbb,#7b7db9,#7b7cba,#7979bd,#7777c1,#7474c5,#7272c9,#6e6ece,#6b6bd3,#6767d8,#6363de,#5f5fe3,#5c5ce6,#5a5ae9,#5656ed,#5050f4,#4747fe,#496cff,#4a8bff,#4a9cff,#4aa5ff,#4aabff,#4aafff,#4ab3ff,#4ab7ff,#4ab9ff,#4abbff,#4abcff,#4abcff,#4abcff,#4abcff,#4abcff,#4abcff)"></div>
<div style="top:1616px;left:336.0px;width:944px;background:linear-gradient(90deg,#5959ea,#5959ea,#5858eb,#5757ec,#5656ed,#5555ee,#5555ef,#5555ee,#5555ee,#5454ef,#5252f1,#4e4ef6,#4949fb,#464dff,#485dff,#4869ff,#4970ff,#4973ff,#4970ff,#4865ff,#464dff,#4e4ef6,#5b5be8,#6767d8,#7171c9,#7979be,#7a7fb5,#7a83ae,#7984ad,#7a83af,#7a7fb4,#7b7bba,#7878c0,#7474c5,#7171cb,#6c6cd1,#6868d8,#6464de,#6161e2,#5f5fe4,#5d5de6,#5a5ae9,#5454ef,#4c4cf9,#4757ff,#4977ff,#4a88ff,#4a91ff,#4a97ff,#4a9dff,#4aa5ff,#4aacff,#4ab2ff,#4ab4ff,#4ab5ff,#4ab6ff,#4ab6ff,#4ab6ff,#4ab6ff,#4ab6ff)"></div>
<div style="top:1632px;left:336.0px;width:960px;background:linear-gradient(90deg,#5858eb,#5858ec,#5757ec,#5757ec,#5656ed,#5757ed,#5858eb,#5959ea,#5b5be8,#5c5ce6,#5d5de6,#5c5ce6,#5a5ae9,#5656ed,#5353f1,#5050f4,#4d4df7,#4b4bf9,#4b4bfa,#4d4df8,#5353f1,#5d5de6,#6868d7,#7272c8,#7a7abc,#7a82b0,#7988a8,#788ba3,#788ca1,#798aa4,#7986aa,#7a82b1,#7b7cb9,#7777c1,#7373c7,#6e6ece,#6969d5,#6565dc,#6262e0,#6060e2,#5f5fe4,#5c5ce7,#5757ed,#4f4ff6,#4649ff,#4868ff,#4a7bff,#4a85ff,#4a8bff,#4a92ff,#4a9bff,#4aa5ff,#4aacff,#4ab0ff,#4ab2ff,#4ab2ff,#4ab3ff,#4ab3ff,#4ab3ff,#4ab3ff,#4ab3ff)"></div>
<div style="top:1648px;left:336.0px;width:976px;background:linear-gradient(90deg,#5757ec,#5757ec,#5757ec,#5858eb,#5959ea,#5a5ae9,#5d5de6,#6060e3,#6363df,#6666da,#6868d6,#6a6ad4,#6b6bd3,#6969d5,#6767d9,#6464de,#6060e2,#5d5de5,#5c5ce7,#5d5de6,#6262e0,#6969d5,#7272c9,#7a7abd,#7a82b0,#798aa4,#77919a,#779791,#76998d,#779593,#788f9d,#7988a7,#7a81b2,#7a7abc,#7575c3,#7171ca,#6c6cd2,#6767d9,#6363de,#6262e0,#6060e2,#5d5de5,#5858eb,#5050f3,#4747fe,#485fff,#4972ff,#4a7dff,#4a84ff,#4a8bff,#4a95ff,#4aa0ff,#4aa8ff,#4aadff,#4ab0ff,#4ab1ff,#4ab1ff,#4ab1ff,#4ab1ff,#4ab1ff,#4ab1ff,#4ab1ff)"></div>
<div style="top:1664px;left:336.0px;width:976px;background:linear-gradient(90deg,#5757ec,#5858eb,#5959ea,#5a5ae9,#5d5de6,#6060e2,#6565dc,#6969d6,#6d6dd0,#7171ca,#7575c4,#7878bf,#7a7abc,#7a7abc,#7979bf,#7676c3,#7373c7,#6f6fcc,#6d6dd0,#6d6dd0,#6f6fcd,#7373c6,#7979be,#7a80b4,#7988a7,#779298,#759c87,#72a17d,#71a27a,#72a07f,#769b8a,#788f9d,#7986ab,#7a7eb6,#7878bf,#7474c6,#6f6fcd,#6969d5,#6565db,#6363de,#6262e0,#5f5fe3,#5a5ae9,#5252f1,#4949fb,#4756ff,#4869ff,#4974ff,#4a7cff,#4a84ff,#4a8fff,#4a9cff,#4aa5ff,#4aabff,#4aaeff,#4ab0ff,#4ab0ff,#4ab0ff,#4ab1ff,#4ab1ff,#4ab1ff,#4ab1ff)"></div>
<div style="top:1680px;left:336.0px;width:976px;background:linear-gradient(90deg,#5858eb,#5959ea,#5b5be7,#5f5fe3,#6464dd,#6a6ad5,#6f6fcd,#7474c5,#7878bf,#7b7db8,#7a83af,#7988a8,#788ba3,#788ca1,#788ba2,#7989a6,#7986ab,#7a82b1,#7b7eb6,#7b7bbb,#7a7abc,#7b7bbb,#7a7fb5,#7985ac,#788da0,#769a8d,#71a27b,#6bac65,#6aaf60,#6caa68,#72a07e,#779691,#798aa4,#7a82b0,#7b7cba,#7777c1,#7272c8,#6d6dd0,#6868d7,#6666db,#6464dd,#6161e1,#5c5ce6,#5555ef,#4c4cf8,#464aff,#485dff,#4867ff,#496fff,#4a79ff,#4a86ff,#4a95ff,#4aa1ff,#4aa9ff,#4aadff,#4aafff,#4ab0ff,#4ab0ff,#4ab0ff,#4ab0ff,#4ab0ff,#4ab0ff)"></div>
<div style="top:1696px;left:352.0px;width:960px;background:linear-gradient(90deg,#5d5de6,#6161e1,#6767d9,#6e6ece,#7575c4,#7b7bbb,#7a81b2,#7986aa,#788ba2,#78909b,#779593,#76998d,#769b8a,#759b8a,#769a8c,#769790,#779496,#788f9d,#798aa5,#7985ac,#7a82b0,#7a83af,#7988a7,#78909b,#749d86,#6fa671,#6bb261,#6db863,#6bb161,#70a475,#759b89,#788e9f,#7985ab,#7a7fb5,#7a7abd,#7676c3,#7070cb,#6b6bd2,#6969d6,#6767d9,#6464dd,#6060e3,#5858eb,#5050f4,#4949fc,#464cff,#4756ff,#485eff,#4867ff,#4976ff,#4a88ff,#4a99ff,#4aa4ff,#4aabff,#4aaeff,#4aafff,#4ab0ff,#4ab0ff,#4ab0ff,#4ab0ff,#4ab0ff)"></div>
<div style="top:1712px;left:352.0px;width:960px;background:linear-gradient(90deg,#6363de,#6a6ad4,#7272c8,#7a7abc,#7a82b0,#7988a7,#788d9f,#779299,#779692,#759b8a,#739e82,#72a17c,#71a378,#70a476,#70a378,#71a27b,#739f81,#759b89,#779594,#788d9f,#7987a8,#7986ab,#7989a6,#788f9c,#759c88,#70a476,#6bb061,#6cb462,#6aae60,#71a378,#769b8b,#788e9f,#7986aa,#7a80b3,#7b7cba,#7878bf,#7373c7,#6e6ece,#6b6bd2,#6969d5,#6767d9,#6363df,#5c5ce7,#5353f0,#4d4df8,#4949fc,#4646ff,#464bff,#4753ff,#485fff,#4974ff,#4a8aff,#4a9bff,#4aa6ff,#4aacff,#4aaeff,#4aafff,#4ab0ff,#4ab0ff,#4ab0ff,#4ab0ff)"></div>
<div style="top:1728px;left:352.0px;width:880px;background:linear-gradient(90deg,#6e6ece,#7676c2,#7a7fb5,#7987a9,#788da0,#779199,#779593,#769a8d,#749d85,#72a17d,#70a574,#6da86d,#6cab67,#6bac64,#6cab66,#6da96a,#6fa671,#71a27a,#749d86,#779495,#788ca1,#7987a8,#7988a7,#788da0,#769791,#72a07f,#6fa671,#6da86c,#6fa573,#739f80,#779693,#788ca2,#7985ab,#7a80b3,#7b7db8,#7979bd,#7575c4,#7070cb,#6d6dcf,#6b6bd2,#6969d6,#6565dc,#5e5ee4,#5656ed,#5050f4,#4c4cf9,#4a4afb,#4848fc,#4747fe,#464aff,#475aff,#4972ff,#4a8bff,#4a9cff,#4aa7ff,#4aacff)"></div>
<div style="top:1744px;left:352.0px;width:816px;background:linear-gradient(90deg,#7b7bbb,#7a84ae,#798aa4,#788f9c,#779396,#779791,#769a8b,#749e84,#71a27b,#6fa671,#6cab67,#6bb061,#6cb562,#6db863,#6db663,#6bb261,#6bad62,#6ea86d,#71a27b,#769b8b,#78909a,#7989a5,#7987a8,#798aa4,#78909b,#76998e,#749d84,#739f80,#749d85,#76988f,#788f9c,#7989a6,#7a84ae,#7a80b4,#7b7db8,#7a7abd,#7575c4,#7171ca,#6e6ece,#6c6cd1,#6a6ad5,#6666db,#5f5fe3,#5858ec,#5151f3,#4d4df7,#4b4bf9,#4a4afa,#4a4afb,#4848fc,#4646ff,#4757ff)"></div>
<div style="top:1760px;left:352.0px;width:784px;background:linear-gradient(90deg,#7989a6,#788d9f,#77919a,#779495,#779791,#769a8c,#749d86,#72a17d,#6fa673,#6cab66,#6cb362,#6ebb64,#70c266,#72c768,#71c467,#6fbe65,#6db763,#6aae61,#6fa671,#739f82,#779593,#788ca1,#7987a8,#7988a8,#798aa4,#788e9f,#779299,#779495,#779199,#788d9f,#798aa5,#7985ab,#7a81b1,#7a7fb6,#7b7cba,#7979bf,#7474c5,#7070cb,#6d6dcf,#6b6bd2,#6969d6,#6565db,#5f5fe3,#5858eb,#5252f2,#4e4ef6,#4c4cf8,#4b4bf9,#4b4bfa,#4a4afa)"></div>
<div style="top:1776px;left:352.0px;width:768px;background:linear-gradient(90deg,#78909b,#779298,#779495,#779692,#76998d,#759c88,#739f81,#70a377,#6da96b,#6bb061,#6ebc64,#73cb68,#76d969,#78e16a,#76db69,#73ce68,#6fc065,#6cb462,#6caa69,#71a27b,#769a8c,#788f9d,#7988a7,#7985ab,#7985ab,#7987a9,#7989a6,#798aa4,#7989a6,#7986aa,#7a83af,#7a80b3,#7b7eb7,#7b7bba,#7979be,#7676c3,#7171ca,#6d6dcf,#6b6bd3,#6969d5,#6767d8,#6464dd,#5f5fe4,#5858eb,#5252f1,#4f4ff5,#4d4df7,#4c4cf8,#4b4bf9)"></div>
<div style="top:1792px;left:352.0px;width:768px;background:linear-gradient(90deg,#779397,#779495,#779593,#769890,#769a8b,#749d86,#72a17e,#6fa573,#6bac65,#6cb662,#71c467,#76dc69,#9cea72,#b2ee77,#a2eb74,#77e06a,#72c868,#6db963,#6bad62,#70a475,#759c87,#779298,#7989a5,#7a84ad,#7a82b1,#7a81b2,#7a82b1,#7a82b1,#7a80b3,#7b7eb7,#7b7bbb,#7979bd,#7878c0,#7676c2,#7373c6,#7070cc,#6b6bd2,#6868d7,#6666da,#6565dc,#6363de,#6161e1,#5d5de6,#5757ec,#5252f2,#4f4ff5,#4d4df7,#4c4cf8,#4c4cf9)"></div>
<div style="top:1808px;left:352.0px;width:720px;background:linear-gradient(90deg,#779396,#779495,#779692,#76988f,#769b8a,#749e84,#72a17c,#6ea770,#6aad62,#6db963,#73cb68,#80e46c,#beef78,#e5f479,#c5f078,#8ae66e,#74cf69,#6ebc64,#6aaf60,#6fa672,#749d85,#779396,#798aa5,#7a83af,#7b7eb6,#7b7bbb,#7a7abd,#7979be,#7777c1,#7575c4,#7373c6,#7171c9,#6f6fcc,#6d6dd0,#6a6ad3,#6767d8,#6464dd,#6161e1,#5f5fe3,#5e5ee4,#5d5de6,#5c5ce7,#5959ea,#5555ee,#5252f2,#4f4ff5)"></div>
<div style="top:1824px;left:368.0px;width:688px;background:linear-gradient(90deg,#779496,#779593,#769890,#769b8b,#749d85,#72a17c,#6fa671,#6bad63,#6db863,#72c968,#79e36a,#b4ee78,#d3f279,#bbef78,#82e56c,#73cd68,#6ebb64,#6aae61,#70a574,#759c87,#779299,#7987a8,#7a7fb4,#7a7abd,#7676c2,#7373c6,#7171ca,#6e6ece,#6c6cd1,#6a6ad5,#6767d8,#6565db,#6363de,#6161e1,#5e5ee4,#5b5be7,#5959ea,#5858ec,#5757ec,#5656ed,#5656ee,#5555ef,#5353f1,#5050f3)"></div>
<div style="top:1840px;left:368.0px;width:656px;background:linear-gradient(90deg,#77919a,#779397,#779593,#76998e,#759c87,#72a07f,#70a574,#6cab67,#6cb462,#70c166,#75d669,#87e66d,#99e972,#8ce76f,#76da69,#71c467,#6cb662,#6caa68,#71a27b,#76998d,#788da0,#7a83af,#7a7abc,#7575c4,#7171ca,#6d6dcf,#6a6ad5,#6767d9,#6464dd,#6161e1,#5f5fe3,#5d5de6,#5b5be7,#5a5ae9,#5858eb,#5555ee,#5353f0,#5252f2,#5151f2,#5151f3,#5151f3,#5151f3)"></div>
<div style="top:1856px;left:368.0px;width:640px;background:linear-gradient(90deg,#788ca2,#788e9f,#77919a,#779594,#76998d,#749d85,#71a27a,#6ea86e,#6aae60,#6db963,#71c467,#74cf69,#75d669,#74d069,#71c567,#6eba64,#6aae60,#6fa672,#749d84,#779298,#7986aa,#7b7cb9,#7575c3,#7070cb,#6c6cd1,#6868d7,#6464dd,#6161e1,#5d5de5,#5b5be8,#5959ea,#5858eb,#5757ec,#5656ee,#5454f0,#5252f2,#5050f4,#4f4ff5,#4f4ff6,#4e4ef6,#4e4ef6)"></div>
<div style="top:1872px;left:384.0px;width:624px;background:linear-gradient(90deg,#7985ac,#7989a6,#788e9f,#779397,#76998e,#749e83,#70a378,#6da96b,#6aaf60,#6cb662,#6ebc64,#6fbf65,#6ebb64,#6cb562,#6aae61,#6ea770,#739f81,#779692,#7989a5,#7b7eb7,#7676c3,#7070cc,#6b6bd2,#6767d8,#6363de,#6060e3,#5c5ce7,#5959ea,#5757ed,#5555ee,#5555ef,#5454ef,#5353f0,#5252f2,#5050f4,#4f4ff5,#4e4ef7,#4d4df7,#4d4df7,#4d4df8)"></div>
<div style="top:1888px;left:368.0px;width:640px;background:linear-gradient(90deg,#7676c2,#7979be,#7b7db7,#7a83af,#7989a6,#78909c,#769790,#749d85,#71a279,#6ea76f,#6cab66,#6aae60,#6aaf60,#6bac63,#6da86c,#70a377,#749d84,#779594,#798aa5,#7a7eb6,#7575c3,#6f6fcd,#6969d5,#6565db,#6262e0,#5e5ee4,#5a5ae9,#5757ec,#5454ef,#5252f1,#5151f2,#5151f3,#5151f2,#5151f2,#5151f3,#4f4ff5,#4e4ef6,#4d4df7,#4c4cf8,#4c4cf8,#4c4cf8)"></div>
<div style="top:1904px;left:368.0px;width:640px;background:linear-gradient(90deg,#6b6bd2,#6e6ece,#7272c9,#7676c2,#7b7cba,#7a83af,#788ba3,#779396,#769b8a,#739f80,#71a379,#70a476,#70a477,#72a17c,#749d84,#76988f,#788f9c,#7986aa,#7b7cb9,#7474c6,#6c6cd1,#6666da,#6262e0,#5e5ee4,#5b5be8,#5757ec,#5454f0,#5151f3,#4e4ef6,#4d4df7,#4d4df7,#4d4df7,#4e4ef6,#4f4ff5,#4f4ff5,#4e4ef6,#4d4df7,#4d4df8,#4c4cf8,#4c4cf8,#4c4cf9)"></div>
<div style="top:1920px;left:352.0px;width:640px;background:linear-gradient(90deg,#5f5fe3,#6161e1,#6464dd,#6767d9,#6b6bd3,#7070cb,#7676c3,#7b7cb9,#7984ad,#788da0,#779495,#76998e,#769a8c,#76988f,#779396,#788d9f,#7986aa,#7a7fb5,#7878c0,#7171ca,#6969d5,#6363df,#5d5de5,#5959ea,#5656ee,#5353f1,#5050f4,#4d4df7,#4a4afa,#4848fc,#4747fe,#4747fe,#4848fd,#4a4afb,#4b4bf9,#4d4df8,#4d4df7,#4d4df7,#4c4cf8,#4c4cf8,#4c4cf9)"></div>
<div style="top:1936px;left:352.0px;width:640px;background:linear-gradient(90deg,#5858eb,#5959ea,#5b5be8,#5e5ee5,#6161e1,#6565dc,#6a6ad5,#6f6fcc,#7676c3,#7b7db8,#7a84ad,#7988a7,#7989a6,#7986aa,#7a81b1,#7b7cba,#7777c1,#7272c9,#6c6cd1,#6666da,#5f5fe3,#5858eb,#5353f0,#5050f4,#4d4df7,#4b4bfa,#4848fd,#4647ff,#4750ff,#4756ff,#4758ff,#4757ff,#4754ff,#464dff,#4747fe,#4949fc,#4b4bf9,#4c4cf8,#4c4cf8,#4c4cf8,#4c4cf9)"></div>
<div style="top:1952px;left:352.0px;width:624px;background:linear-gradient(90deg,#5353f1,#5454f0,#5555ef,#5656ed,#5858eb,#5b5be8,#5f5fe3,#6464de,#6969d6,#6f6fcd,#7575c4,#7878bf,#7979be,#7777c2,#7373c7,#6f6fcd,#6b6bd3,#6767d9,#6262e0,#5b5be7,#5555ef,#4f4ff5,#4a4afa,#4747fe,#464bff,#4753ff,#475bff,#4862ff,#4868ff,#496bff,#496cff,#496bff,#4868ff,#4862ff,#475aff,#464dff,#4848fd,#4a4afa,#4b4bf9,#4c4cf9)"></div>
<div style="top:1968px;left:368.0px;width:528px;background:linear-gradient(90deg,#5050f4,#5050f4,#5151f3,#5252f2,#5353f0,#5555ee,#5959ea,#5d5de6,#6262df,#6767d8,#6b6bd3,#6c6cd2,#6a6ad4,#6767d9,#6464de,#6060e2,#5c5ce6,#5858ec,#5252f2,#4b4bf9,#4647ff,#4757ff,#4862ff,#486aff,#4970ff,#4975ff,#4979ff,#4a7bff,#4a7dff,#4a7dff,#4a7bff,#4979ff,#4974ff,#496dff)"></div>
<div style="top:1984px;left:368.0px;width:512px;background:linear-gradient(90deg,#4d4df8,#4c4cf8,#4c4cf8,#4c4cf8,#4c4cf8,#4d4df7,#4e4ef6,#5151f3,#5555ef,#5959ea,#5c5ce6,#5e5ee5,#5d5de6,#5b5be8,#5858eb,#5555ee,#5252f2,#4d4df7,#4848fd,#4756ff,#4869ff,#4976ff,#4a7eff,#4a83ff,#4a86ff,#4a88ff,#4a89ff,#4a89ff,#4a88ff,#4a87ff,#4a86ff,#4a84ff,#4a81ff)"></div>
<div style="top:2000px;left:368.0px;width:496px;background:linear-gradient(90deg,#4949fc,#4848fd,#4646ff,#464bff,#4750ff,#4754ff,#4754ff,#4751ff,#464aff,#4848fd,#4a4afb,#4a4afb,#4b4bfa,#4a4afa,#4a4afa,#4949fc,#4646ff,#4757ff,#496bff,#4a7dff,#4a89ff,#4a90ff,#4a94ff,#4a95ff,#4a96ff,#4a96ff,#4a95ff,#4a93ff,#4a92ff,#4a90ff,#4a8eff,#4a8cff)"></div>
<div style="top:2016px;left:368.0px;width:480px;background:linear-gradient(90deg,#4757ff,#4862ff,#496dff,#4a79ff,#4a83ff,#4a89ff,#4a8eff,#4a91ff,#4a91ff,#4a90ff,#4abfff,#4bffff,#48fdff,#48f9ff,#4aabff,#4a7eff,#4a84ff,#4a8dff,#4a96ff,#4a9eff,#4aa2ff,#4aa4ff,#4aa5ff,#4aa4ff,#4aa3ff,#4aa1ff,#4a9fff,#4a9cff,#4a9aff,#4a97ff,#4a94ff)"></div>
<div style="top:2032px;left:368.0px;width:480px;background:linear-gradient(90deg,#4a88ff,#4a95ff,#4aa1ff,#4aacff,#4ab3ff,#4ab9ff,#4abdff,#4ac1ff,#4ac3ff,#4acfff,#9fffff,#d9ffff,#d9ffff,#d7ffff,#83ffff,#4ac0ff,#4ab7ff,#4ab8ff,#4ab7ff,#4ab6ff,#4ab4ff,#4ab3ff,#4ab1ff,#4aafff,#4aacff,#4aaaff,#4aa7ff,#4aa4ff,#4aa0ff,#4a9dff,#4a9aff)"></div>
<div style="top:2048px;left:368.0px;width:464px;background:linear-gradient(90deg,#4ab8ff,#4ac0ff,#4ac7ff,#4accff,#4ad1ff,#4ad5ff,#4ad9ff,#4addff,#49e2ff,#66ffff,#d5ffff,#eaffff,#fbffff,#e7ffff,#d3ffff,#49ffff,#4ad5ff,#4aceff,#4ac8ff,#4ac2ff,#4abeff,#4abaff,#4ab7ff,#4ab4ff,#4ab2ff,#4ab0ff,#4aadff,#4aa9ff,#4aa6ff,#4aa3ff)"></div>
<div style="top:2064px;left:384.0px;width:448px;background:linear-gradient(90deg,#4ad5ff,#4adaff,#4adeff,#49e2ff,#49e5ff,#49e8ff,#49ecff,#49f1ff,#83ffff,#daffff,#f0ffff,#ffffff,#ecffff,#daffff,#6effff,#49e4ff,#4ad9ff,#4ad0ff,#4ac8ff,#4ac2ff,#4abdff,#4abaff,#4ab7ff,#4ab4ff,#4ab2ff,#4ab0ff,#4aadff,#4aabff,#4aa8ff)"></div>
<div style="top:2080px;left:384.0px;width:432px;background:linear-gradient(90deg,#4adcff,#49e0ff,#49e3ff,#49e7ff,#49eaff,#49edff,#49f0ff,#48f5ff,#4dffff,#bfffff,#e0ffff,#e4ffff,#e0ffff,#b8ffff,#48f6ff,#49e5ff,#4adaff,#4ad0ff,#4ac9ff,#4ac2ff,#4abdff,#4abaff,#4ab7ff,#4ab5ff,#4ab3ff,#4ab1ff,#4aafff,#4aadff)"></div>
<div style="top:2096px;left:384.0px;width:432px;background:linear-gradient(90deg,#4ad8ff,#4addff,#49e1ff,#49e4ff,#49e8ff,#49ebff,#49efff,#49f4ff,#48f9ff,#77ffff,#beffff,#bfffff,#bbffff,#5dffff,#49e9ff,#4addff,#4ad3ff,#4acbff,#4ac5ff,#4abfff,#4abbff,#4ab8ff,#4ab6ff,#4ab4ff,#4ab2ff,#4ab0ff,#4aaeff,#4aacff)"></div>
<div style="top:2112px;left:384.0px;width:448px;background:linear-gradient(90deg,#4ad0ff,#4ad4ff,#4ad9ff,#4adeff,#49e2ff,#49e6ff,#49eaff,#49efff,#49f3ff,#48f8ff,#48fdff,#48fbff,#48f5ff,#49e8ff,#4adbff,#4ad0ff,#4ac8ff,#4ac1ff,#4abcff,#4ab9ff,#4ab6ff,#4ab4ff,#4ab2ff,#4ab1ff,#4aafff,#4aadff,#4aaaff,#4aa8ff,#4aa4ff)"></div>
<div style="top:2128px;left:384.0px;width:464px;background:linear-gradient(90deg,#4ac6ff,#4acbff,#4ad0ff,#4ad4ff,#4ad9ff,#4adeff,#49e2ff,#49e6ff,#49eaff,#49edff,#49edff,#49e9ff,#49e1ff,#4ad5ff,#4acaff,#4ac0ff,#4ab8ff,#4ab3ff,#4aafff,#4aadff,#4aacff,#4aabff,#4aabff,#4aabff,#4aa9ff,#4aa7ff,#4aa4ff,#4aa0ff,#4a9aff,#4a93ff)"></div>
<div style="top:2144px;left:384.0px;width:464px;background:linear-gradient(90deg,#4abbff,#4ac0ff,#4ac5ff,#4ac9ff,#4aceff,#4ad2ff,#4ad6ff,#4ad9ff,#4adcff,#4adeff,#4addff,#4ad7ff,#4aceff,#4ac2ff,#4ab6ff,#4aabff,#4aa1ff,#4a9bff,#4a98ff,#4a98ff,#4a9aff,#4a9dff,#4aa0ff,#4aa1ff,#4aa0ff,#4a9dff,#4a99ff,#4a93ff,#4a8bff,#4a82ff)"></div>
<div style="top:2160px;left:368.0px;width:480px;background:linear-gradient(90deg,#4aacff,#4ab1ff,#4ab4ff,#4ab9ff,#4abdff,#4ac1ff,#4ac5ff,#4ac8ff,#4acaff,#4accff,#4acdff,#4acbff,#4ac5ff,#4abaff,#4aacff,#4a9bff,#4a8eff,#4a85ff,#4a80ff,#4a7eff,#4a7fff,#4a84ff,#4a8aff,#4a90ff,#4a94ff,#4a93ff,#4a90ff,#4a8aff,#4a83ff,#4978ff,#496cff)"></div>
<div style="top:2176px;left:352.0px;width:496px;background:linear-gradient(90deg,#4aa0ff,#4aa2ff,#4aa5ff,#4aa9ff,#4aacff,#4ab0ff,#4ab3ff,#4ab6ff,#4ab8ff,#4abaff,#4abbff,#4abbff,#4ab9ff,#4ab2ff,#4aa3ff,#4a90ff,#4a7eff,#496fff,#4865ff,#4860ff,#485eff,#4861ff,#4868ff,#4973ff,#4a7dff,#4a82ff,#4a82ff,#4a7eff,#4976ff,#496cff,#4861ff,#4756ff)"></div>
<div style="top:2192px;left:336.0px;width:528px;background:linear-gradient(90deg,#4a98ff,#4a99ff,#4a9aff,#4a9cff,#4a9eff,#4a9fff,#4aa1ff,#4aa3ff,#4aa4ff,#4aa5ff,#4aa7ff,#4aa8ff,#4aa9ff,#4aa5ff,#4a9bff,#4a8aff,#4974ff,#485eff,#474fff,#4646ff,#4747fe,#4747fe,#4747fe,#464cff,#4758ff,#4864ff,#486aff,#486aff,#4865ff,#485eff,#4755ff,#464cff,#4747fe,#4848fc)"></div>
<div style="top:2208px;left:336.0px;width:544px;background:linear-gradient(90deg,#4a93ff,#4a94ff,#4a94ff,#4a95ff,#4a95ff,#4a95ff,#4a95ff,#4a94ff,#4a93ff,#4a93ff,#4a93ff,#4a94ff,#4a94ff,#4a91ff,#4a86ff,#4971ff,#4757ff,#4747fe,#4b4bfa,#4d4df8,#4e4ef6,#4e4ef6,#4d4df7,#4b4bfa,#4848fd,#4649ff,#474fff,#474fff,#464bff,#4646ff,#4747fd,#4949fc,#4a4afa,#4b4bf9,#4c4cf8)"></div>
<div style="top:2224px;left:352.0px;width:528px;background:linear-gradient(90deg,#4a8fff,#4a8fff,#4a8fff,#4a8eff,#4a8dff,#4a8bff,#4a88ff,#4a85ff,#4a83ff,#4a82ff,#4a82ff,#4a82ff,#4a7dff,#496fff,#4758ff,#4848fd,#4d4df7,#5151f3,#5353f1,#5353f0,#5353f0,#5252f1,#5151f3,#4e4ef6,#4c4cf9,#4a4afa,#4a4afb,#4a4afa,#4b4bfa,#4c4cf9,#4c4cf8,#4d4df8,#4d4df7,#4d4df7)"></div>
<div style="top:2240px;left:368.0px;width:512px;background:linear-gradient(90deg,#4a8bff,#4a8aff,#4a88ff,#4a86ff,#4a82ff,#4a7eff,#4978ff,#4974ff,#4971ff,#4970ff,#496eff,#4868ff,#4759ff,#4747fe,#4e4ef7,#5353f1,#5656ee,#5858ec,#5858eb,#5858eb,#5757ec,#5656ee,#5353f0,#5151f3,#5050f4,#4f4ff5,#4f4ff5,#4f4ff5,#4f4ff5,#4f4ff5,#4f4ff5,#4f4ff6,#4f4ff6)"></div>
<div style="top:2256px;left:400.0px;width:480px;background:linear-gradient(90deg,#4a83ff,#4a7fff,#4a79ff,#4973ff,#496cff,#4866ff,#4862ff,#485fff,#475bff,#4753ff,#4747fe,#4c4cf8,#5252f2,#5757ec,#5a5ae9,#5b5be7,#5c5ce6,#5c5ce6,#5b5be7,#5a5ae9,#5757ec,#5555ee,#5454f0,#5353f1,#5252f1,#5252f2,#5151f3,#5151f3,#5050f4,#5050f4,#4f4ff5)"></div>
<div style="top:2272px;left:400.0px;width:480px;background:linear-gradient(90deg,#4a7dff,#4977ff,#4970ff,#4868ff,#4861ff,#475aff,#4755ff,#4750ff,#464aff,#4848fd,#4c4cf9,#5050f3,#5555ee,#5959ea,#5c5ce7,#5e5ee5,#5f5fe4,#5f5fe4,#5e5ee5,#5c5ce6,#5a5ae9,#5858eb,#5757ec,#5656ee,#5555ee,#5454ef,#5353f0,#5353f1,#5252f2,#5151f3,#5151f3)"></div>
<div style="top:2288px;left:416.0px;width:464px;background:linear-gradient(90deg,#496eff,#4866ff,#485eff,#4756ff,#4750ff,#464aff,#4646ff,#4848fc,#4b4bf9,#4f4ff5,#5353f1,#5757ec,#5a5ae9,#5c5ce6,#5e5ee4,#5f5fe3,#6060e3,#5f5fe3,#5e5ee5,#5c5ce7,#5a5ae9,#5959ea,#5858eb,#5757ec,#5656ed,#5555ee,#5555ef,#5454f0,#5353f1,#5252f2)"></div>
<div style="top:2304px;left:416.0px;width:480px;background:linear-gradient(90deg,#4864ff,#475bff,#4753ff,#464cff,#4646ff,#4747fe,#4949fc,#4b4bfa,#4e4ef6,#5151f3,#5454ef,#5757ec,#5a5ae9,#5c5ce7,#5e5ee5,#5f5fe3,#6060e3,#5f5fe3,#5e5ee4,#5d5de5,#5c5ce7,#5a5ae8,#5959e9,#5959ea,#5858eb,#5757ec,#5757ed,#5656ee,#5555ef,#5454f0,#5353f1)"></div>
<div style="top:2320px;left:416.0px;width:480px;background:linear-gradient(90deg,#4758ff,#4750ff,#4649ff,#4747fe,#4848fd,#4949fc,#4a4afa,#4d4df8,#4f4ff5,#5252f1,#5555ee,#5757ec,#5959ea,#5b5be8,#5d5de6,#5e5ee4,#5f5fe3,#5f5fe3,#5f5fe4,#5e5ee5,#5c5ce6,#5b5be7,#5b5be8,#5a5ae9,#5a5ae9,#5959ea,#5858eb,#5858ec,#5757ed,#5656ee,#5454ef)"></div>
<div style="top:2336px;left:416.0px;width:432px;background:linear-gradient(90deg,#464bff,#4646ff,#4747fd,#4848fc,#4949fc,#4a4afa,#4c4cf9,#4e4ef6,#5050f3,#5353f1,#5555ee,#5757ec,#5959ea,#5a5ae9,#5c5ce7,#5d5de5,#5e5ee4,#5e5ee4,#5e5ee4,#5e5ee5,#5d5de6,#5c5ce7,#5b5be7,#5b5be8,#5b5be8,#5a5ae9,#5a5ae9,#5959ea)"></div>
<div style="top:2352px;left:416.0px;width:416px;background:linear-gradient(90deg,#4747fe,#4848fc,#4949fc,#4a4afb,#4a4afa,#4b4bf9,#4d4df8,#4f4ff5,#5151f3,#5353f0,#5555ee,#5757ed,#5858eb,#5959e9,#5b5be8,#5c5ce7,#5d5de6,#5d5de5,#5d5de5,#5d5de5,#5d5de6,#5c5ce6,#5c5ce7,#5c5ce7,#5b5be7,#5b5be8,#5b5be8)"></div>
<div style="top:2368px;left:416.0px;width:400px;background:linear-gradient(90deg,#4949fc,#4a4afb,#4a4afb,#4a4afa,#4b4bfa,#4c4cf9,#4d4df7,#4f4ff5,#5151f2,#5454f0,#5555ee,#5656ed,#5757ec,#5959eb,#5a5ae9,#5b5be8,#5c5ce7,#5c5ce6,#5c5ce6,#5d5de6,#5c5ce6,#5c5ce6,#5c5ce7,#5c5ce7,#5c5ce7,#5c5ce7)"></div>
<div style="top:2384px;left:400.0px;width:400px;background:linear-gradient(90deg,#4a4afb,#4a4afa,#4a4afa,#4b4bfa,#4b4bfa,#4b4bf9,#4c4cf8,#4e4ef7,#4f4ff4,#5252f2,#5454f0,#5555ee,#5656ed,#5757ed,#5757ec,#5858eb,#5959ea,#5a5ae9,#5b5be8,#5b5be8,#5b5be7,#5c5ce7,#5c5ce7,#5c5ce7,#5c5ce7,#5c5ce7)"></div>
<div style="top:2400px;left:400.0px;width:352px;background:linear-gradient(90deg,#4b4bfa,#4b4bfa,#4b4bfa,#4b4bf9,#4b4bf9,#4c4cf9,#4d4df8,#4e4ef6,#5050f4,#5252f2,#5454f0,#5555ef,#5555ee,#5656ee,#5656ed,#5757ec,#5858eb,#5858eb,#5959ea,#5a5ae9,#5a5ae9,#5b5be8,#5b5be8)"></div>
<div style="top:2416px;left:400.0px;width:352px;background:linear-gradient(90deg,#4b4bf9,#4b4bf9,#4b4bf9,#4b4bf9,#4c4cf9,#4c4cf8,#4d4df7,#4e4ef6,#5050f4,#5252f2,#5353f0,#5454ef,#5454ef,#5555ef,#5555ef,#5555ee,#5656ed,#5656ed,#5757ec,#5858eb,#5858eb,#5959ea,#5a5ae9)"></div>
<div style="top:2432px;left:416.0px;width:336px;background:linear-gradient(90deg,#4b4bf9,#4b4bf9,#4c4cf9,#4c4cf9,#4c4cf8,#4d4df7,#4e4ef6,#5050f4,#5252f2,#5353f1,#5353f0,#5454f0,#5353f0,#5353f0,#5454f0,#5454f0,#5454ef,#5555ee,#5656ee,#5656ed,#5757ec,#5858eb)"></div>
<div style="top:2448px;left:448.0px;width:304px;background:linear-gradient(90deg,#4c4cf9,#4c4cf9,#4c4cf8,#4d4df7,#4f4ff6,#5050f4,#5252f2,#5353f1,#5353f1,#5353f1,#5252f1,#5252f1,#5252f1,#5252f1,#5353f1,#5353f1,#5353f0,#5454f0,#5555ef,#5555ee)"></div>
<div style="top:2464px;left:544.0px;width:192px;background:linear-gradient(90deg,#5252f2,#5252f2,#5252f2,#5252f2,#5252f2,#5151f2,#5151f3,#5151f3,#5151f3,#5151f2,#5252f2,#5252f2,#5252f1)"></div>
<div style="top:2480px;left:560.0px;width:176px;background:linear-gradient(90deg,#5252f2,#5252f2,#5151f3,#5151f3,#5151f3,#5050f3,#5050f4,#5050f4,#5050f4,#5050f4,#5050f3,#5151f3)"></div>
<div style="top:2496px;left:592.0px;width:128px;background:linear-gradient(90deg,#5151f3,#5050f3,#5050f4,#5050f4,#5050f4,#5050f4,#5050f4,#5050f4,#5050f4)"></div>
</div></div>
<div class="f" style="clip-path:polygon(2834px 990px,2835px 962px,2849px 952px,2837px 923px,2837px 899px,2853px 894px,2851px 870px,2846px 846px,2841px 817px,2856px 788px,2882px 780px,2902px 778px,2921px 781px,2938px 791px,2947px 787px,2969px 786px,2978px 792px,3007px 791px,3026px 783px,3055px 774px,3063px 757px,3075px 752px,3094px 755px,3113px 746px,3142px 748px,3161px 755px,3190px 740px,3209px 731px,3233px 716px,3250px 702px,3257px 676px,3276px 656px,3293px 637px,3305px 615px,3325px 603px,3353px 596px,3368px 577px,3380px 553px,3387px 529px,3411px 524px,3421px 536px,3440px 550px,3464px 555px,3488px 577px,3498px 601px,3502px 625px,3517px 649px,3541px 688px,3555px 731px,3575px 738px,3599px 721px,3618px 712px,3642px 709px,3652px 707px,3653px 705px,3686px 687px,3690px 655px,3715px 626px,3747px 597px,3776px 586px,3794px 590px,3812px 575px,3823px 543px,3834px 518px,3855px 519px,3873px 526px,3899px 521px,3920px 525px,3935px 502px,3967px 508px,3985px 502px,4010px 500px,4028px 500px,4057px 489px,4100px 482px,4144px 476px,4172px 473px,4201px 478px,4223px 472px,4252px 474px,4263px 464px,4277px 446px,4281px 413px,4310px 406px,4306px 407px,4335px 407px,4352px 388px,4374px 376px,4374px 352px,4383px 330px,4395px 316px,4398px 294px,4412px 277px,4431px 275px,4441px 258px,4455px 251px,4475px 234px,4494px 222px,4513px 224px,4537px 217px,4561px 200px,4571px 188px,4583px 186px,4588px 169px,4604px 172px,4624px 181px,4643px 184px,4662px 193px,4691px 188px,4720px 193px,4739px 217px,4753px 241px,4758px 261px,4778px 258px,4787px 253px,4821px 253px,4823px 236px,4821px 222px,4828px 203px,4835px 186px,4854px 185px,4878px 186px,4898px 188px,4912px 210px,4926px 222px,4955px 229px,4975px 234px,4994px 241px,5001px 256px,5011px 268px,5011px 294px,5008px 311px,4989px 316px,4970px 326px,4965px 333px,4972px 345px,4970px 357px,4955px 369px,4946px 386px,4951px 414px,4936px 438px,4924px 458px,4919px 486px,4907px 501px,4898px 508px,4883px 515px,4869px 520px,4859px 525px,4850px 535px,4826px 544px,4821px 554px,4802px 553px,4782px 561px,4773px 580px,4766px 592px,4758px 602px,4744px 614px,4725px 631px,4715px 650px,4701px 652px,4686px 648px,4672px 636px,4657px 640px,4655px 657px,4638px 660px,4628px 672px,4633px 688px,4643px 698px,4633px 703px,4614px 698px,4604px 715px,4590px 720px,4576px 710px,4571px 696px,4556px 693px,4542px 688px,4532px 679px,4530px 669px,4518px 667px,4503px 679px,4489px 676px,4475px 674px,4460px 684px,4436px 698px,4417px 710px,4402px 724px,4388px 732px,4369px 746px,4359px 758px,4340px 768px,4335px 780px,4306px 777px,4290px 780px,4285px 792px,4270px 799px,4249px 804px,4225px 811px,4216px 810px,4209px 813px,4223px 831px,4230px 842px,4223px 860px,4201px 875px,4172px 885px,4162px 893px,4165px 929px,4151px 943px,4136px 954px,4133px 979px,4140px 994px,4129px 1030px,4100px 1026px,4086px 1015px,4057px 1001px,4036px 986px,4018px 968px,4014px 947px,4003px 947px,4000px 965px,3978px 983px,3964px 986px,3942px 1008px,3913px 1015px,3899px 1019px,3877px 1012px,3870px 1044px,3841px 1066px,3834px 1080px,3848px 1102px,3830px 1116px,3805px 1105px,3790px 1109px,3798px 1123px,3794px 1152px,3808px 1167px,3816px 1188px,3813px 1195px,3824px 1203px,3813px 1217px,3813px 1231px,3824px 1236px,3832px 1258px,3838px 1272px,3854px 1286px,3860px 1308px,3882px 1302px,3898px 1319px,3912px 1330px,3918px 1352px,3912px 1365px,3923px 1376px,3898px 1379px,3887px 1385px,3882px 1396px,3865px 1404px,3849px 1407px,3835px 1409px,3838px 1434px,3838px 1467px,3854px 1478px,3862px 1494px,3857px 1516px,3871px 1544px,3862px 1577px,3871px 1593px,3876px 1604px,3862px 1615px,3871px 1637px,3884px 1648px,3887px 1659px,3901px 1665px,3912px 1687px,3906px 1714px,3887px 1717px,3854px 1709px,3843px 1714px,3832px 1725px,3824px 1731px,3799px 1736px,3761px 1736px,3755px 1753px,3733px 1756px,3720px 1764px,3709px 1775px,3706px 1800px,3696px 1796px,3688px 1784px,3680px 1793px,3668px 1813px,3657px 1821px,3640px 1835px,3623px 1835px,3606px 1846px,3606px 1886px,3601px 1908px,3589px 1914px,3584px 1937px,3572px 1954px,3544px 1956px,3522px 1948px,3505px 1945px,3494px 1965px,3480px 1976px,3465px 1987px,3451px 2007px,3443px 2027px,3432px 2038px,3429px 2061px,3415px 2072px,3409px 2094px,3415px 2117px,3420px 2131px,3434px 2137px,3437px 2151px,3440px 2184px,3448px 2201px,3468px 2218px,3471px 2241px,3474px 2275px,3480px 2297px,3482px 2320px,3454px 2325px,3432px 2342px,3415px 2359px,3392px 2387px,3375px 2387px,3350px 2399px,3344px 2421px,3339px 2444px,3330px 2466px,3319px 2489px,3299px 2508px,3285px 2508px,3263px 2503px,3240px 2489px,3218px 2478px,3201px 2463px,3184px 2446px,3170px 2435px,3142px 2438px,3136px 2452px,3119px 2458px,3094px 2444px,3077px 2432px,3063px 2421px,3051px 2418px,3060px 2399px,3068px 2376px,3077px 2354px,3074px 2314px,3071px 2297px,3060px 2280px,3054px 2263px,3043px 2246px,3020px 2232px,3004px 2221px,2987px 2210px,3004px 2196px,3020px 2179px,3043px 2173px,3040px 2156px,3046px 2139px,3040px 2117px,3043px 2094px,3043px 2072px,3029px 2049px,3020px 2027px,3034px 2007px,3029px 1987px,3020px 1965px,3012px 1942px,3020px 1920px,3023px 1900px,3037px 1894px,3034px 1869px,3029px 1841px,3015px 1818px,3009px 1790px,3012px 1756px,3006px 1722px,3012px 1700px,3006px 1695px,2998px 1681px,2998px 1643px,2992px 1615px,2984px 1593px,2970px 1577px,2956px 1566px,2934px 1555px,2926px 1533px,2910px 1522px,2910px 1511px,2924px 1492px,2915px 1467px,2912px 1440px,2904px 1418px,2910px 1396px,2907px 1374px,2890px 1352px,2871px 1346px,2877px 1302px,2880px 1280px,2871px 1275px,2874px 1242px,2880px 1209px,2882px 1181px,2885px 1165px,2882px 1132px,2877px 1110px,2882px 1088px,2877px 1060px,2869px 1038px,2858px 1016px,2836px 1000px)"><div style="position:absolute;left:0;top:0;width:5044px;height:2876px;height:2876px;filter:blur(5px)">
<div style="top:160px;left:4560.6px;width:80px;background:linear-gradient(90deg,#6fa96e,#6eaa6c,#6eab6a,#6dab69,#6dac69,#6dac68)"></div>
<div style="top:176px;left:4528.6px;width:400px;background:linear-gradient(90deg,#70a870,#70a86f,#6fa96e,#6eaa6c,#6eab6a,#6dab69,#6dac68,#6dac68,#6dac68,#6dac68,#6dac67,#6cad66,#6cae64,#6baf62,#6ab160,#6bb261,#6bb261,#6bb261,#6bb261,#6bb261,#6bb361,#6bb361,#6bb361,#6bb461,#6cb461,#6cb461)"></div>
<div style="top:192px;left:4512.6px;width:432px;background:linear-gradient(90deg,#70a771,#70a870,#70a86f,#6fa96e,#6eaa6b,#6eab6a,#6dab69,#6dac68,#6dac68,#6dac68,#6dac67,#6dad67,#6cad65,#6bae64,#6baf61,#6ab060,#6bb261,#6bb261,#6bb261,#6bb261,#6bb261,#6bb361,#6bb361,#6bb361,#6bb461,#6cb461,#6cb461,#6cb562)"></div>
<div style="top:208px;left:4464.6px;width:496px;background:linear-gradient(90deg,#70a771,#70a771,#70a771,#70a770,#70a870,#70a86f,#6fa96d,#6eaa6b,#6eab6a,#6dab69,#6dac68,#6dac68,#6dac68,#6dac67,#6cad66,#6cae65,#6bae63,#6aaf61,#6ab060,#6bb160,#6bb261,#6bb261,#6bb261,#6bb261,#6bb361,#6bb361,#6bb361,#6bb461,#6cb461,#6cb461,#6cb562,#6cb562)"></div>
<div style="top:224px;left:4432.6px;width:592px;background:linear-gradient(90deg,#70a771,#70a771,#70a771,#70a771,#70a771,#70a770,#70a870,#70a86f,#6fa96d,#6eaa6b,#6eab69,#6dab69,#6dac68,#6dac68,#6dac67,#6dad67,#6cad65,#6cae64,#6baf63,#6aaf61,#6ab060,#6bb160,#6bb261,#6bb261,#6bb261,#6bb261,#6bb361,#6bb361,#6bb361,#6bb461,#6cb461,#6cb461,#6cb562,#6cb562,#6cb562,#6cb562,#6cb562,#6cb562)"></div>
<div style="top:240px;left:4416.6px;width:624px;background:linear-gradient(90deg,#70a771,#70a771,#70a771,#70a771,#70a770,#70a770,#70a870,#70a870,#70a86f,#6fa96d,#6eaa6b,#6dab69,#6dac68,#6dac68,#6dac67,#6dac67,#6cad66,#6cad65,#6bae63,#6baf62,#6ab061,#6ab060,#6ab160,#6bb261,#6bb261,#6bb261,#6bb261,#6bb361,#6bb361,#6bb361,#6cb461,#6cb461,#6cb461,#6cb562,#6cb562,#6cb562,#6cb562,#6cb562,#6cb562,#6cb562)"></div>
<div style="top:256px;left:4400.6px;width:640px;background:linear-gradient(90deg,#70a771,#70a771,#70a770,#70a770,#70a770,#70a870,#70a870,#70a870,#70a86f,#6fa96e,#6faa6c,#6eab6a,#6dab69,#6dac68,#6dac67,#6dac67,#6cad66,#6cad65,#6cae64,#6baf63,#6baf62,#6ab061,#6ab060,#6ab160,#6bb261,#6bb261,#6bb261,#6bb361,#6bb361,#6bb361,#6bb361,#6cb461,#6cb461,#6cb461,#6cb562,#6cb562,#6cb562,#6cb562,#6cb562,#6cb562,#6cb562)"></div>
<div style="top:272px;left:4368.6px;width:672px;background:linear-gradient(90deg,#70a771,#70a771,#70a771,#70a770,#70a870,#70a870,#70a870,#70a870,#70a86f,#70a86f,#6fa96e,#6fa96d,#6eaa6b,#6dab69,#6dac68,#6dac67,#6dac67,#6cad66,#6cad66,#6cae65,#6bae63,#6baf62,#6aaf61,#6ab060,#6ab060,#6ab160,#6bb261,#6bb261,#6bb261,#6bb361,#6bb361,#6bb361,#6bb361,#6cb461,#6cb461,#6cb562,#6cb562,#6cb562,#6cb562,#6cb562,#6cb562,#6cb562,#6cb562)"></div>
<div style="top:288px;left:4368.6px;width:672px;background:linear-gradient(90deg,#70a771,#70a771,#70a770,#70a870,#70a870,#70a86f,#70a86f,#70a86f,#6fa86e,#6fa96e,#6fa96d,#6eaa6b,#6dab69,#6dac67,#6cad66,#6cad66,#6cad66,#6cad65,#6cae65,#6bae64,#6baf62,#6baf61,#6ab061,#6ab060,#6ab060,#6ab160,#6bb261,#6bb261,#6bb361,#6bb361,#6bb361,#6bb361,#6cb461,#6cb461,#6cb461,#6cb562,#6cb562,#6cb562,#6cb562,#6cb562,#6cb562,#6cb562,#6cb562)"></div>
<div style="top:304px;left:4352.6px;width:688px;background:linear-gradient(90deg,#70a771,#70a771,#70a770,#70a870,#70a870,#70a86f,#6fa96e,#6fa96d,#6fa96d,#6fa96c,#6eaa6c,#6eab6a,#6dac68,#6cad66,#6cae65,#6bae64,#6bae64,#6bae64,#6bae63,#6baf63,#6baf62,#6aaf61,#6ab060,#6ab060,#6ab060,#6ab160,#6bb160,#6bb261,#6bb361,#6bb361,#6bb361,#6bb361,#6bb461,#6cb461,#6cb461,#6cb461,#6cb562,#6cb562,#6cb562,#6cb562,#6cb562,#6cb562,#6cb562,#6cb562)"></div>
<div style="top:320px;left:4352.6px;width:656px;background:linear-gradient(90deg,#70a771,#70a770,#70a870,#70a86f,#6fa86e,#6fa96d,#6faa6c,#6eaa6b,#6eab6a,#6eab6a,#6dac68,#6cad66,#6cae64,#6baf62,#6ab061,#6ab060,#6ab060,#6ab060,#6ab060,#6ab060,#6ab160,#6ab160,#6ab160,#6ab160,#6bb160,#6bb261,#6bb261,#6bb361,#6bb361,#6bb361,#6cb461,#6cb461,#6cb461,#6cb461,#6cb461,#6cb562,#6cb562,#6cb562,#6cb562,#6cb562,#6cb562,#6cb562)"></div>
<div style="top:336px;left:4336.6px;width:672px;background:linear-gradient(90deg,#70a771,#70a770,#70a870,#70a86f,#6fa96e,#6fa96d,#6eaa6b,#6eab69,#6dac68,#6dac67,#6cad65,#6bae63,#6ab061,#6ab160,#6bb261,#6bb361,#6bb361,#6bb361,#6bb361,#6bb461,#6cb461,#6cb461,#6cb461,#6bb361,#6bb361,#6bb361,#6bb361,#6bb361,#6cb461,#6cb461,#6cb461,#6cb461,#6cb461,#6cb562,#6cb562,#6cb562,#6cb562,#6cb562,#6cb562,#6cb562,#6cb562,#6cb562,#6cb562)"></div>
<div style="top:352px;left:4336.6px;width:672px;background:linear-gradient(90deg,#70a770,#70a870,#70a86f,#6fa96e,#6faa6c,#6eab6a,#6dac67,#6cad65,#6bae64,#6baf62,#6ab160,#6bb261,#6cb461,#6cb662,#6db762,#6db863,#6db863,#6db863,#6eb863,#6eb963,#6eb963,#6eba63,#6eb963,#6db863,#6db762,#6cb662,#6cb562,#6cb562,#6cb562,#6cb562,#6cb562,#6cb562,#6cb562,#6cb562,#6cb562,#6cb562,#6cb562,#6cb562,#6cb562,#6cb562,#6cb562,#6cb562,#6cb562)"></div>
<div style="top:368px;left:4320.6px;width:672px;background:linear-gradient(90deg,#70a770,#70a870,#70a86f,#6fa96e,#6eaa6b,#6dac68,#6cad65,#6baf63,#6ab060,#6bb261,#6bb361,#6cb662,#6db863,#6eba63,#6fbc64,#70bd64,#70be65,#70be65,#70be65,#70bf65,#71c065,#71c166,#72c266,#71c266,#71c065,#6fbd64,#6eba63,#6db863,#6db762,#6cb662,#6cb662,#6cb562,#6cb562,#6cb662,#6cb662,#6cb662,#6db662,#6cb662,#6cb662,#6cb662,#6cb562,#6cb562,#6cb562)"></div>
<div style="top:384px;left:4304.6px;width:672px;background:linear-gradient(90deg,#70a770,#70a870,#70a86f,#6fa96e,#6eaa6c,#6dac68,#6bae64,#6ab060,#6bb261,#6cb461,#6db662,#6eb963,#6fbc64,#70bf65,#71c266,#72c467,#73c567,#73c567,#73c567,#73c667,#74c768,#74c968,#75ca68,#75cb68,#75cb68,#74c868,#72c467,#70bf65,#6fbb64,#6eb963,#6db762,#6db662,#6db662,#6cb662,#6db662,#6db662,#6db662,#6db762,#6db762,#6db662,#6db662,#6db662,#6cb662)"></div>
<div style="top:400px;left:4240.6px;width:736px;background:linear-gradient(90deg,#70a870,#70a770,#70a770,#70a770,#70a870,#70a870,#70a86f,#6fa96d,#6eab69,#6cae64,#6ab160,#6cb461,#6db762,#6eba63,#6fbd64,#71c065,#72c467,#74c768,#75ca68,#75cc68,#75cd68,#75cd68,#75ce68,#75cf68,#76d069,#76d169,#76d369,#76d369,#76d269,#76cf69,#74ca68,#72c467,#70bf65,#6fbb64,#6eb963,#6db863,#6db762,#6db762,#6db762,#6db762,#6db762,#6db762,#6db762,#6db762,#6db762,#6db762,#6db662)"></div>
<div style="top:416px;left:4240.6px;width:736px;background:linear-gradient(90deg,#70a86f,#70a870,#70a870,#70a870,#70a86f,#70a86f,#6fa96d,#6eaa6b,#6cad66,#6ab060,#6cb562,#6eb963,#70bd64,#71c166,#73c567,#74c968,#75cd68,#76d069,#76d369,#77d469,#77d569,#77d669,#77d669,#77d769,#78d869,#78d969,#78d969,#77d869,#77d669,#76d269,#75cd68,#74c768,#72c266,#70be65,#6fbb64,#6eb963,#6db863,#6db863,#6db762,#6db762,#6db762,#6db762,#6db762,#6db762,#6db762,#6db762,#6db762)"></div>
<div style="top:432px;left:4240.6px;width:736px;background:linear-gradient(90deg,#6fa96d,#6fa96e,#70a86e,#70a86f,#6fa86e,#6fa96d,#6eaa6c,#6dac68,#6baf63,#6bb361,#6eb863,#70be65,#72c366,#74c868,#75cd68,#76d169,#77d569,#78d869,#78da69,#78db69,#79dc6a,#79dd6a,#79de6a,#79df6a,#79df6a,#79de6a,#79dd6a,#78db69,#78d869,#77d569,#76d069,#74ca68,#73c567,#71c166,#70be65,#6fbc64,#6eba63,#6eb963,#6db863,#6db863,#6db762,#6db762,#6db762,#6db762,#6db762,#6db762,#6db762)"></div>
<div style="top:448px;left:4224.6px;width:736px;background:linear-gradient(90deg,#6baf63,#6dac68,#6eab6a,#6eaa6b,#6faa6c,#6faa6c,#6eaa6b,#6dab69,#6cae65,#6ab160,#6db662,#6fbc64,#72c266,#74c968,#76cf69,#77d569,#78d969,#78dc69,#79de6a,#79e06a,#7ae16a,#7ae36a,#7ee46b,#80e46c,#81e46c,#7fe46b,#7be36a,#7ae16a,#79de6a,#78db69,#77d769,#76d269,#75cc68,#74c768,#72c366,#71c065,#70be65,#6fbc64,#6ebb64,#6eba63,#6eb963,#6db863,#6db863,#6db762,#6db762,#6db762,#6db762)"></div>
<div style="top:464px;left:4080.6px;width:880px;background:linear-gradient(90deg,#71c065,#72c266,#72c366,#72c366,#72c366,#72c366,#72c266,#71c065,#6eba63,#6cb461,#6ab060,#6bae63,#6cad66,#6dac67,#6dac68,#6dac67,#6cae64,#6ab060,#6cb461,#6eb963,#70bf65,#73c667,#75cd68,#77d469,#78da69,#79df6a,#7ae26a,#7ce36b,#81e46c,#86e56d,#8ce66f,#90e770,#92e870,#91e770,#8ee76f,#88e66d,#7fe46b,#7ae16a,#79dd6a,#78d969,#77d469,#76cf69,#74ca68,#73c567,#72c266,#71c065,#70be65,#6fbd64,#6fbb64,#6eba63,#6eb963,#6db863,#6db863,#6db762,#6db762,#6db762)"></div>
<div style="top:480px;left:4000.6px;width:944px;background:linear-gradient(90deg,#6cad65,#6baf62,#6bb261,#6db762,#6fbc64,#71c065,#71c266,#72c366,#72c366,#72c366,#72c366,#72c266,#71c166,#6fbc64,#6db863,#6cb562,#6bb361,#6bb160,#6ab060,#6ab061,#6ab061,#6ab160,#6cb461,#6db863,#6fbd64,#72c266,#74c968,#76d169,#78d969,#79df6a,#7be36a,#84e56d,#8be66e,#91e770,#97e871,#9de973,#a2ea74,#a4eb75,#a1ea74,#9de973,#95e871,#8be66e,#7fe46b,#79e06a,#78dc69,#77d769,#76d269,#75cc68,#74c868,#73c467,#72c266,#71c065,#70bf65,#70bd64,#6fbc64,#6eba63,#6eb963,#6db863,#6db863,#6db863)"></div>
<div style="top:496px;left:3888.6px;width:1056px;background:linear-gradient(90deg,#73a476,#73a476,#72a576,#72a574,#71a771,#6fa96e,#6eaa6b,#6dac67,#6bae64,#6bb160,#6db662,#6fbc64,#71c065,#71c266,#72c366,#72c366,#72c366,#72c366,#72c366,#71c166,#70be65,#6eba63,#6db863,#6db762,#6cb662,#6cb562,#6cb461,#6cb461,#6cb562,#6db863,#6fbb64,#71c065,#73c567,#75cc68,#77d469,#78dc69,#7ae36a,#86e56d,#90e770,#99e972,#a1ea74,#a9ec76,#b1ed78,#b9ef7a,#b9ef7a,#b3ee79,#abec77,#a2ea74,#96e871,#89e66e,#7ce36b,#79df6a,#78da69,#77d569,#76cf69,#75ca68,#73c768,#72c467,#72c266,#71c166,#71c065,#70be65,#6fbc64,#6ebb64,#6eb963,#6eb963,#6db863)"></div>
<div style="top:512px;left:3360.6px;width:1568px;background:linear-gradient(90deg,#6cb662,#6db662,#6db762,#6db863,#6eb963,#6eba63,#6fbb64,#6fbd64,#70be65,#71c065,#71c166,#72c366,#73c567,#73c667,#74c868,#73c567,#70be65,#6fbc64,#6fbd64,#6fbc64,#6fbb64,#6eb963,#6cb662,#6bb261,#6bae64,#6eaa6b,#70a771,#72a575,#73a478,#74a379,#74a37a,#74a37a,#74a27a,#74a27a,#74a27a,#74a37a,#73a378,#72a575,#71a771,#6fa96e,#6eab6a,#6cad66,#6ab060,#6cb562,#6fbb64,#70bf65,#71c166,#72c266,#72c366,#72c366,#72c366,#72c266,#71c166,#70be65,#6fbb64,#6eb963,#6eb963,#6db863,#6db863,#6db863,#6db863,#6eb963,#6fbc64,#70bf65,#72c366,#74c968,#76d069,#77d869,#79df6a,#81e46c,#8fe76f,#9ae972,#a5eb75,#b0ed78,#bff07c,#caf27c,#d1f37b,#d0f37b,#c9f17c,#bdef7b,#aeed77,#a0ea74,#92e770,#85e56d,#7ae26a,#79dd6a,#78d869,#76d369,#75cd68,#74c968,#73c667,#72c467,#72c366,#71c266,#71c166,#70bf65,#70be65,#6fbc64,#6eba63)"></div>
<div style="top:528px;left:3344.6px;width:1536px;background:linear-gradient(90deg,#6cb562,#6cb662,#6db762,#6db762,#6eb963,#6eba63,#6fbb64,#6fbd64,#70be65,#71c065,#71c266,#72c366,#73c567,#74c768,#74c968,#75cb68,#74c968,#71c166,#70bf65,#70bf65,#70be65,#70bd64,#6fbb64,#6eb863,#6cb562,#6ab060,#6dac67,#70a86f,#72a574,#73a378,#74a27b,#75a17d,#75a07e,#76a07e,#76a07f,#76a07f,#76a07f,#75a17d,#74a27a,#72a476,#71a772,#6fa96e,#6eab69,#6bae63,#6bb361,#6eb963,#70be65,#71c065,#71c266,#72c266,#72c366,#72c366,#72c266,#71c166,#70be65,#6fbb64,#6eba63,#6eba63,#6eba63,#6eba63,#6eba63,#6fbb64,#6fbd64,#70bf65,#72c366,#74c768,#75cd68,#77d469,#78db69,#7ae26a,#89e66e,#96e871,#a3eb74,#aeed77,#bff07c,#d0f37b,#dff57b,#e7f67b,#e7f67b,#daf47b,#ccf27c,#b8ef7a,#a8ec76,#9ae972,#8ce66f,#80e46b,#79e06a,#78db69,#77d669,#76d169,#75cc68,#74c868,#73c667,#72c467,#72c467,#72c366,#72c266)"></div>
<div style="top:544px;left:3344.6px;width:1520px;background:linear-gradient(90deg,#6cb461,#6cb662,#6db762,#6db863,#6eba63,#6fbb64,#6fbd64,#70bf65,#71c065,#72c266,#72c467,#73c667,#74c868,#75ca68,#75cd68,#75cf68,#75cc68,#72c467,#71c065,#71c065,#71c065,#70bf65,#6fbd64,#6eba63,#6db762,#6bb261,#6cae65,#6fa96d,#72a574,#74a27a,#76a07e,#779f81,#779e83,#789d85,#789c85,#789c86,#789c86,#789d84,#779f81,#75a17d,#73a378,#71a674,#70a86f,#6dac69,#6ab060,#6db762,#6fbc64,#70bf65,#71c166,#71c166,#71c266,#72c266,#71c266,#71c065,#70be65,#6fbc64,#6ebb64,#6eba63,#6eba63,#6ebb64,#6fbb64,#6fbd64,#70bf65,#71c266,#73c667,#75ca68,#76d069,#77d769,#79de6a,#7fe46b,#8ee76f,#9ce973,#a9ec76,#b6ee7a,#c9f17c,#daf47b,#edf77b,#f3f87a,#f2f87a,#e7f67b,#d5f37b,#c2f07c,#afed78,#a0ea74,#92e870,#85e56d,#7ae36a,#79de6a,#78d969,#77d469,#75ce68,#74ca68,#74c768,#73c667,#73c567,#73c567)"></div>
<div style="top:560px;left:3328.6px;width:1488px;background:linear-gradient(90deg,#6bb261,#6cb461,#6cb562,#6db762,#6eb963,#6eba63,#6fbc64,#70be65,#71c065,#72c266,#72c467,#73c667,#74c968,#75cb68,#75ce68,#76d069,#76d269,#76d069,#73c768,#71c266,#71c166,#71c166,#71c065,#70be65,#6fbc64,#6db863,#6cb461,#6baf63,#6faa6c,#72a576,#75a07e,#789d84,#7a9b89,#7a998c,#7a978f,#7b9790,#7b9691,#7b9790,#7a988e,#7a9a8a,#789c85,#769f80,#74a27c,#73a476,#70a870,#6dac67,#6bb261,#6db863,#6fbc64,#70be65,#71c065,#71c166,#71c166,#71c166,#71c065,#70be65,#6fbc64,#6fbb64,#6fbb64,#6fbb64,#6fbb64,#6fbc64,#70be65,#71c065,#72c467,#74c868,#75cd68,#76d369,#78d969,#79e06a,#83e56c,#92e770,#9fea74,#acec77,#baef7a,#cdf27c,#e0f57b,#f2f87a,#f9f97a,#f5f87a,#edf77b,#d8f47b,#c5f17c,#b2ed78,#a3eb75,#96e871,#89e66e,#7ee46b,#79e06a,#78db69,#77d669,#76d069,#75cc68,#74c968)"></div>
<div style="top:576px;left:3328.6px;width:1472px;background:linear-gradient(90deg,#6ab160,#6bb361,#6cb461,#6db662,#6eb963,#6fbb64,#70be65,#71c065,#72c266,#73c567,#74c768,#74c968,#75cc68,#75cf68,#76d169,#77d469,#77d569,#76d269,#74c968,#72c467,#72c266,#71c266,#71c166,#70bf65,#6fbd64,#6eb963,#6cb461,#6baf62,#6fa96d,#74a379,#789d84,#7a988e,#7b9396,#7c909c,#7c8e9f,#7c8ea1,#7c8da1,#7c8e9f,#7c909c,#7b9398,#7b9692,#7a998b,#789c85,#769f80,#74a379,#70a870,#6cad65,#6bb361,#6db762,#6ebb64,#6fbd64,#70be65,#70bf65,#71c065,#70bf65,#70bd64,#6fbc64,#6fbc64,#6fbc64,#6fbc64,#6fbc64,#6fbd64,#70bf65,#71c266,#73c567,#74c968,#75ce68,#77d469,#78da69,#7ae16a,#84e56d,#92e770,#9fea73,#abec77,#b7ee7a,#c9f17c,#d9f47b,#ebf77b,#f2f87a,#f2f87a,#e3f67b,#d4f37b,#c1f07c,#b0ed78,#a3eb75,#96e871,#8be66e,#81e46c,#7ae26a,#79dd6a,#77d869,#76d269,#75cd68)"></div>
<div style="top:592px;left:3280.6px;width:1520px;background:linear-gradient(90deg,#71a771,#6eaa6b,#6cad66,#6baf62,#6ab160,#6bb361,#6cb662,#6eb963,#6fbc64,#70bf65,#71c266,#72c467,#74c768,#74ca68,#75cd68,#76cf69,#76d269,#77d469,#77d669,#77d769,#77d469,#75cb68,#73c567,#72c366,#72c366,#71c266,#71c065,#6fbd64,#6eb963,#6cb461,#6bae63,#70a771,#76a07f,#7a978f,#7c8f9d,#7d89a9,#7e85b0,#7e83b5,#7e82b6,#7e82b5,#7e84b3,#7e86ae,#7d89a8,#7c8da1,#7c9299,#7b9691,#7a9a89,#779e82,#74a379,#70a86f,#6cad65,#6bb261,#6cb662,#6eb863,#6ebb64,#6fbc64,#70be65,#70be65,#70bd64,#6fbd64,#6fbc64,#6fbc64,#6fbc64,#6fbd64,#70be65,#71c065,#72c266,#73c667,#74ca68,#75cf68,#77d469,#78db69,#7ae16a,#83e56c,#90e770,#9ce973,#a7eb76,#b3ee79,#c1f07c,#d1f37b,#dcf47b,#e1f57b,#e0f57b,#d8f47b,#cbf27c,#bbef7b,#adec77,#a1ea74,#96e871,#8be66e,#82e46c,#7ae26a,#79de6a,#78d969,#76d369,#75ce68)"></div>
<div style="top:608px;left:3264.6px;width:1520px;background:linear-gradient(90deg,#75a17c,#73a477,#71a771,#6eaa6b,#6cad66,#6baf61,#6bb261,#6cb562,#6db863,#6fbc64,#70bf65,#72c366,#73c667,#74ca68,#75cd68,#76d069,#76d269,#77d569,#77d769,#78d869,#77d769,#77d469,#75cc68,#73c667,#72c467,#72c366,#72c266,#71c065,#6fbd64,#6eb963,#6bb361,#6dac67,#73a477,#7a9a89,#7c8f9f,#7e84b1,#7d7dbe,#7979c3,#7676c6,#7676c6,#7777c5,#7979c3,#7c7cbf,#7f7fba,#7e85b1,#7d8aa7,#7c909d,#7b9593,#7a9a89,#769f80,#73a477,#6fa96e,#6cad66,#6ab060,#6bb361,#6cb662,#6db863,#6ebb64,#6fbc64,#6fbd64,#6fbd64,#6fbd64,#6fbd64,#70bd64,#70be65,#70bf65,#71c065,#72c366,#73c667,#74ca68,#76cf69,#77d569,#78db69,#79e16a,#81e46c,#8de66f,#97e872,#a2ea74,#adec77,#b7ee7a,#c2f07c,#cbf27c,#d1f37b,#cff27c,#c8f17c,#bef07c,#b3ee79,#a9ec76,#9eea73,#94e871,#8be66e,#83e56c,#7ae36a,#79df6a,#78d969,#77d369)"></div>
<div style="top:624px;left:3264.6px;width:1504px;background:linear-gradient(90deg,#769f80,#75a17c,#73a477,#70a771,#6eaa6b,#6cad65,#6ab060,#6bb361,#6db762,#6fbb64,#71c065,#72c467,#74c868,#75cc68,#76d069,#76d369,#77d569,#77d769,#78d869,#78d869,#77d769,#76d269,#75cb68,#73c667,#73c567,#72c467,#72c266,#71c065,#6fbd64,#6db863,#6ab160,#6fa96e,#769f81,#7b9298,#7e85b1,#7a7ac2,#7272cc,#6d6dd2,#6a6ad5,#6b6bd4,#6d6dd2,#6f6fcf,#7373ca,#7777c5,#7c7cbe,#7e83b4,#7d8aa7,#7c919b,#7b978f,#789c85,#75a17c,#72a574,#6fa96e,#6dac68,#6bae63,#6ab160,#6bb461,#6db762,#6fbb64,#6fbd64,#70be65,#70be65,#70be65,#70be65,#70be65,#70bf65,#71c166,#72c366,#73c768,#75cb68,#76cf69,#77d569,#78db69,#79e06a,#7ee46b,#88e66e,#92e770,#9be973,#a5eb75,#aded77,#b4ee79,#baef7a,#bef07c,#bdef7b,#b8ee7a,#b2ed78,#abec77,#a3eb75,#9ae972,#92e770,#8ae66e,#83e56c,#7be36a,#79df6a,#78da69)"></div>
<div style="top:640px;left:3248.6px;width:1504px;background:linear-gradient(90deg,#789d84,#779e83,#769f80,#75a17c,#73a476,#70a870,#6eab6a,#6bae63,#6bb261,#6cb662,#6ebb64,#71c065,#73c567,#75ca68,#76cf69,#76d269,#77d569,#77d769,#78d869,#78d869,#77d769,#77d569,#76cf69,#74c868,#73c567,#72c467,#72c366,#71c266,#70bf65,#6fbb64,#6cb562,#6cae65,#73a477,#7a988d,#7d89a9,#7b7bc0,#7070ce,#6666db,#5c5ce6,#5858ea,#5a5ae7,#6060e1,#6666db,#6b6bd5,#6f6fcf,#7575c7,#7c7cbe,#7e85b1,#7c8da2,#7b9495,#7a9a8a,#779f81,#74a37a,#71a673,#6fa86e,#6eab6a,#6cad66,#6ab061,#6cb562,#6eba63,#6fbd64,#70be65,#70be65,#70be65,#70be65,#70bf65,#71c065,#71c166,#72c467,#74c768,#75cb68,#76d069,#77d669,#78db69,#79e06a,#7be36a,#84e56c,#8ce66f,#94e871,#9ce973,#a3eb75,#a9ec76,#aded77,#b0ed78,#b0ed78,#acec77,#a8ec76,#a2eb74,#9ce973,#95e871,#8ee76f,#88e66e,#82e46c,#7be36a,#79e06a)"></div>
<div style="top:656px;left:3232.6px;width:1456px;background:linear-gradient(90deg,#779e83,#789d84,#789d84,#779e83,#769f80,#74a27c,#72a575,#70a86e,#6dac67,#6ab060,#6cb562,#6eba63,#71c065,#73c667,#75cc68,#76d069,#77d469,#77d669,#77d769,#77d869,#77d769,#77d569,#76d169,#75cb68,#73c567,#72c266,#71c266,#71c266,#71c065,#70bd64,#6eb963,#6bb261,#6fa96d,#779e82,#7c909d,#7f7fba,#7272cc,#6464dc,#5555ee,#4a4afb,#4646ff,#4949fc,#5050f3,#5858eb,#5f5fe2,#6868d8,#6f6fd0,#7777c6,#7f7fbb,#7d88aa,#7c909c,#7b9790,#799c86,#76a07f,#73a379,#72a574,#70a771,#6fa96d,#6dac67,#6bb261,#6eba63,#70bd64,#70be65,#70bf65,#70bf65,#70bf65,#71c065,#71c166,#71c266,#72c467,#74c768,#75cb68,#76d169,#77d769,#78dc69,#79df6a,#7ae26a,#7fe46b,#85e56d,#8ce66f,#93e870,#99e972,#9eea73,#a2eb74,#a5eb75,#a4eb75,#a2ea74,#9eea73,#9ae972,#95e871,#90e770,#8be66e)"></div>
<div style="top:672px;left:3216.6px;width:1456px;background:linear-gradient(90deg,#75a07e,#779f81,#789d83,#789d85,#789c85,#789d84,#769f80,#74a27b,#71a674,#6eaa6c,#6bae63,#6bb361,#6eb963,#70bf65,#73c667,#75cc68,#76d169,#77d469,#77d669,#77d669,#77d669,#77d469,#76d169,#75cc68,#73c667,#71c166,#70bf65,#70be65,#70be65,#6fbd64,#6eba63,#6cb562,#6cae64,#73a476,#7a988e,#7d88ac,#7777c5,#6868d9,#5555ee,#4747fe,#475cff,#4766ff,#4761ff,#4753ff,#4949fc,#5252f1,#5d5de4,#6868d7,#7171cd,#7a7ac1,#7e83b4,#7d8ba4,#7b9298,#7a988d,#789c85,#769f80,#74a27b,#73a477,#71a673,#6eaa6c,#6ab160,#6eb963,#70be65,#70bf65,#70bf65,#70bf65,#71c065,#71c065,#71c166,#72c366,#73c467,#74c768,#75cb68,#76d169,#77d769,#78dc69,#79df6a,#7ae16a,#7be36a,#80e46c,#85e56d,#8be66e,#91e770,#95e871,#98e972,#9ae972,#9ae972,#98e972,#96e871,#93e870,#8fe76f,#8be66e)"></div>
<div style="top:688px;left:3216.6px;width:1456px;background:linear-gradient(90deg,#74a27b,#76a07e,#779e82,#789d85,#799c86,#799c86,#789d84,#769f80,#73a379,#70a770,#6dac67,#6bb160,#6db762,#70bd64,#72c467,#74ca68,#76cf69,#76d269,#76d369,#76d369,#76d269,#76cf69,#75cb68,#73c667,#71c166,#6fbd64,#6eba63,#6eb963,#6eb963,#6db863,#6cb562,#6ab061,#6fa96e,#769f81,#7c919a,#7f81b8,#7070ce,#5b5be7,#4949fc,#475dff,#4878ff,#4986ff,#497cff,#486fff,#475fff,#4747fe,#5454ef,#6161e0,#6c6cd3,#7575c7,#7e7ebc,#7e87ad,#7c8ea0,#7b9396,#7a988e,#799b87,#779e82,#76a07e,#73a379,#70a86f,#6ab160,#6eba63,#70be65,#71c065,#71c065,#71c065,#71c166,#71c266,#72c266,#72c467,#73c567,#74c768,#75ca68,#76d069,#77d669,#78db69,#79de6a,#79e06a,#7ae26a,#7be36a,#80e46c,#85e56d,#8ae66e,#8ee76f,#90e770,#91e770,#92e770,#91e770,#8fe76f,#8ce66f,#89e66e,#86e56d)"></div>
<div style="top:704px;left:3200.6px;width:1440px;background:linear-gradient(90deg,#72a674,#73a478,#74a27c,#769f80,#789d84,#799c87,#799b88,#799b88,#789d84,#75a07e,#72a576,#6faa6c,#6baf62,#6cb461,#6eba63,#71c065,#73c667,#75cb68,#75cd68,#75ce68,#75ce68,#75cc68,#74c968,#73c567,#71c065,#6fbc64,#6eb963,#6cb662,#6bb361,#6bb261,#6ab060,#6cad65,#6fa96e,#74a27b,#7a998c,#7d8ba5,#7c7cbf,#6b6bd4,#5555ee,#4751ff,#497eff,#4aadff,#49c3ff,#4aadff,#498cff,#4871ff,#4755ff,#4e4ef6,#5c5ce6,#6969d7,#7272cc,#7a7ac1,#7e82b5,#7d89a8,#7c8f9e,#7b9496,#7a978f,#7a9b89,#789d84,#75a17c,#70a86f,#6bb261,#6eba63,#70bf65,#71c166,#71c166,#71c266,#72c266,#72c366,#72c366,#72c467,#73c567,#73c768,#74c968,#75ce68,#77d569,#78da69,#79de6a,#79e06a,#7ae16a,#7ae26a,#7ce36b,#80e46c,#84e56d,#87e56d,#89e66e,#8ae66e,#8be66e,#8ae66e,#89e66e,#87e56d)"></div>
<div style="top:720px;left:3168.6px;width:1264px;background:linear-gradient(90deg,#6aaf61,#6eab6a,#70a870,#72a574,#73a378,#75a17d,#779e82,#799c86,#7a9a8a,#7a9a8b,#799b88,#779d83,#74a27b,#71a672,#6dab69,#6ab060,#6cb562,#6eba63,#70c065,#72c467,#73c667,#74c768,#73c667,#72c467,#71c166,#70bd64,#6eba63,#6db662,#6bb361,#6ab060,#6cad66,#6faa6c,#70a771,#72a476,#75a07e,#7a9a89,#7c909c,#7e84b2,#7777c5,#6868d8,#5353f1,#4765ff,#4ab1ff,#49d1ff,#49d9ff,#49d5ff,#49b7ff,#497fff,#475bff,#4b4bf9,#5959e9,#6666da,#6f6fcf,#7878c4,#7f7fba,#7e86ae,#7d8ca4,#7c919b,#7b9594,#7a988d,#789c86,#75a17c,#6fa96d,#6bb361,#6fbb64,#70bf65,#71c166,#72c266,#72c266,#72c366,#72c467,#72c467,#73c567,#73c567,#73c667,#74c868,#75cd68,#76d369,#78d969,#79dd6a)"></div>
<div style="top:736px;left:3072.6px;width:1344px;background:linear-gradient(90deg,#75ca68,#74c968,#74c768,#73c567,#71c065,#6eba63,#6bb361,#6cae64,#6eaa6b,#70a870,#72a574,#74a37a,#769f80,#789c85,#7a9a8a,#7a998d,#7a998c,#799b88,#779e82,#74a27a,#71a772,#6eab6a,#6bae63,#6bb361,#6db762,#6eba63,#6fbd64,#70be65,#6fbd64,#6fbb64,#6db863,#6cb562,#6bb261,#6ab061,#6cad66,#6faa6c,#72a574,#75a17c,#779e82,#799b87,#7b978f,#7c909c,#7e87ad,#7c7cbf,#6f6fcf,#5f5fe2,#4d4df7,#4872ff,#49bcff,#49ceff,#49cdff,#49d8ff,#49c3ff,#4986ff,#4761ff,#4848fd,#5656ec,#6464dd,#6e6ed0,#7777c6,#7e7ebc,#7e85b0,#7d8ba6,#7c909d,#7b9495,#7a998d,#789d84,#73a379,#6eab69,#6cb461,#6fbb64,#70bf65,#71c166,#72c266,#72c366,#72c467,#72c467,#73c567,#73c567,#73c667,#73c667,#74c868,#75cb68,#76d069,#77d769)"></div>
<div style="top:752px;left:3024.6px;width:1376px;background:linear-gradient(90deg,#75cc68,#75cd68,#75cd68,#75cc68,#75ca68,#74c968,#74c768,#72c467,#70be65,#6db863,#6bb261,#6cae65,#6eab6a,#70a870,#72a576,#75a17c,#779e83,#7a9b89,#7a988d,#7a978f,#7a988d,#799b88,#779e83,#75a17d,#73a477,#71a771,#6faa6c,#6cad66,#6ab061,#6bb261,#6bb261,#6bb261,#6ab060,#6cae65,#6eab69,#6fa96d,#70a771,#72a575,#75a17c,#789d84,#7a998d,#7b9593,#7b9298,#7c8ea0,#7e87ac,#7e7ebc,#7474c9,#6666db,#5252f2,#4754ff,#4a92ff,#49c3ff,#49d1ff,#48e7ff,#49d7ff,#49ccff,#4a9bff,#486eff,#464bff,#5454ee,#6464dd,#6e6ed0,#7777c5,#7e7ebc,#7e85af,#7d8ba5,#7c919b,#7b9692,#7a9b89,#769f80,#72a575,#6dad67,#6cb562,#6fbb64,#70bf65,#71c166,#72c266,#72c366,#72c467,#72c467,#73c567,#73c567,#73c667,#73c667,#74c768,#74c968,#75ce68)"></div>
<div style="top:768px;left:2832.6px;width:1536px;background:linear-gradient(90deg,#6db863,#6eb963,#6eba63,#6fbc64,#70be65,#71c166,#72c467,#74c768,#74c968,#75cb68,#75cc68,#75cd68,#75ce68,#75ce68,#75ce68,#75cd68,#75cc68,#75cb68,#74ca68,#74c768,#72c366,#6fbd64,#6db762,#6bb261,#6bae63,#6eab6a,#70a870,#73a478,#769f80,#799c87,#7a998c,#7b9790,#7b9691,#7b9790,#7a998d,#7a9b89,#789d85,#779f81,#75a17d,#74a379,#72a575,#71a772,#70a771,#71a772,#72a575,#74a379,#75a17d,#769f80,#789d84,#7a9b89,#7b9790,#7b9298,#7c8e9f,#7d8ca3,#7d8aa7,#7e86ae,#7f80ba,#7878c4,#6e6ed1,#5d5de5,#4949fb,#4867ff,#4aa5ff,#49cfff,#49e1ff,#48f7ff,#49e1ff,#49d5ff,#4aa5ff,#4871ff,#464bff,#5656ec,#6767d9,#7171cd,#7979c2,#7f81b8,#7d88ab,#7c8ea0,#7b9397,#7a988d,#789d84,#74a27b,#70a771,#6cae65,#6cb461,#6eba63,#70bf65,#71c166,#72c266,#72c366,#72c467,#72c467,#73c567,#73c567,#73c667,#73c667,#73c768)"></div>
<div style="top:784px;left:2816.6px;width:1504px;background:linear-gradient(90deg,#6eb963,#6eba63,#6ebb64,#6fbc64,#70be65,#71c166,#72c467,#74c768,#75cb68,#75cd68,#75cf68,#76d069,#76d069,#76d069,#76d069,#76d069,#76cf69,#75cf68,#75ce68,#75cd68,#75cb68,#74c768,#72c366,#6fbd64,#6db762,#6bb361,#6baf62,#6dab69,#71a772,#74a27a,#779e83,#7a9a8a,#7b978f,#7b9594,#7b9396,#7b9397,#7b9396,#7b9495,#7b9692,#7a978f,#7a998b,#799b87,#789d85,#789d84,#789c86,#7a9b89,#7a988d,#7b9691,#7b9495,#7c919a,#7c8ea0,#7d8aa7,#7e87ad,#7e85b1,#7e84b2,#7e83b4,#7f80ba,#7b7bc1,#7373ca,#6a6ad5,#5a5ae8,#4848fc,#4763ff,#4990ff,#49c2ff,#49ceff,#49d2ff,#49d5ff,#49c5ff,#498dff,#4762ff,#4b4bf9,#5f5fe3,#6d6dd1,#7777c5,#7f7fbb,#7e87ad,#7c8da2,#7c9299,#7b9790,#799c87,#76a07f,#73a476,#6fa96e,#6bae64,#6cb461,#6eba63,#70be65,#71c065,#71c266,#72c366,#72c366,#72c467,#73c567,#73c567)"></div>
<div style="top:800px;left:2816.6px;width:1488px;background:linear-gradient(90deg,#6fbb64,#6fbc64,#6fbd64,#70bf65,#71c166,#72c467,#74c768,#75cc68,#76cf69,#76d269,#77d469,#77d469,#77d469,#77d469,#77d369,#76d369,#76d269,#76d269,#76d169,#76d169,#76cf69,#75cd68,#74c868,#72c366,#70be65,#6eb963,#6cb461,#6ab061,#6eab6a,#72a674,#75a17d,#789c86,#7a988d,#7b9494,#7c919b,#7c8ea0,#7d8ca3,#7d8ca3,#7d8ca3,#7c8ea0,#7c8f9d,#7c919a,#7b9397,#7b9397,#7c9299,#7c909d,#7c8ea1,#7d8ba5,#7d89a9,#7e86ae,#7e83b3,#7f80ba,#7d7dbd,#7c7cbe,#7c7cbe,#7c7cbe,#7a7ac1,#7676c6,#7070ce,#6868d8,#5a5ae8,#4a4afa,#475eff,#498bff,#49c9ff,#49dbff,#49dcff,#49deff,#49c5ff,#497cff,#4648ff,#5959e9,#6c6cd3,#7777c5,#7f81b8,#7d89a8,#7c8f9d,#7b9495,#7a988f,#799b87,#769f80,#74a379,#71a673,#6eaa6c,#6bae64,#6bb361,#6db863,#6fbd64,#71c065,#71c166,#72c366,#72c366,#72c467,#73c467)"></div>
<div style="top:816px;left:2816.6px;width:1440px;background:linear-gradient(90deg,#70bd64,#70bf65,#71c065,#72c266,#73c567,#74c868,#75cc68,#76d169,#77d569,#78d869,#78da69,#78da69,#78da69,#78d969,#77d869,#77d669,#77d669,#77d569,#77d569,#77d569,#77d469,#76d169,#75cd68,#74c868,#72c366,#70bf65,#6eba63,#6cb562,#6baf62,#6fa96d,#73a477,#769f81,#7a9a89,#7b9593,#7c909d,#7d8ba5,#7d87ac,#7e85af,#7e85b0,#7e86af,#7e87ac,#7d89a9,#7d8aa7,#7d8aa7,#7d89a9,#7d87ac,#7e85b0,#7e83b3,#7f81b7,#7f7fbc,#7c7cbf,#7979c2,#7777c5,#7676c6,#7777c6,#7777c5,#7575c7,#7272cb,#6d6dd2,#6565dc,#5959ea,#4b4bfa,#475dff,#497fff,#4aacff,#49cdff,#49d9ff,#49cbff,#4aa2ff,#486aff,#4d4df7,#6666da,#7676c6,#7e83b4,#7c8da1,#7b9494,#7a988d,#799b88,#789d85,#769f80,#74a27b,#72a575,#70a870,#6eab6a,#6cae64,#6bb261,#6db762,#6fbb64,#70bf65,#71c166,#72c266)"></div>
<div style="top:832px;left:2816.6px;width:1440px;background:linear-gradient(90deg,#71c166,#71c266,#72c366,#73c567,#74c868,#75cc68,#76d169,#77d669,#78db69,#79de6a,#79e06a,#7ae16a,#7ae16a,#79df6a,#79dd6a,#78db69,#78d969,#78d969,#78d969,#78d869,#77d769,#77d569,#76d269,#75cd68,#74c868,#72c467,#70bf65,#6eb963,#6bb361,#6cad66,#71a771,#74a27c,#789d85,#7b9790,#7c909c,#7d8aa8,#7e84b2,#7f81b8,#7f7fbb,#7f7fbb,#7f80b8,#7e82b6,#7e83b4,#7e83b4,#7e82b5,#7f81b8,#7f7fbb,#7e7ebd,#7c7cbf,#7a7ac1,#7878c4,#7575c7,#7373ca,#7272cb,#7272cb,#7272cb,#7171cd,#6e6ed0,#6a6ad6,#6262df,#5858eb,#4b4bfa,#475cff,#4875ff,#4987ff,#4a9fff,#4aaeff,#4a98ff,#487cff,#475bff,#5353f0,#6d6dd1,#7f7fbb,#7c8da1,#7a978f,#789d85,#769f80,#76a07f,#75a17d,#74a27a,#72a476,#71a772,#6fa96e,#6eab6a,#6cad65,#6ab160,#6cb562,#6eba63,#70bd64,#71c065,#71c266)"></div>
<div style="top:848px;left:2816.6px;width:1440px;background:linear-gradient(90deg,#72c467,#73c567,#73c768,#74c968,#75cc68,#76d069,#77d569,#78db69,#79e06a,#7de46b,#84e56d,#87e56d,#86e56d,#81e46c,#7ae36a,#79e06a,#79de6a,#79dc6a,#78dc69,#78db69,#78da69,#77d869,#77d569,#76d169,#75cc68,#74c768,#72c366,#6fbd64,#6db762,#6ab060,#6faa6c,#73a477,#769f80,#7a998b,#7c9299,#7d8aa7,#7e83b4,#7e7ebc,#7c7cbf,#7b7bc0,#7c7cbf,#7d7dbe,#7e7ebc,#7e7ebc,#7d7dbd,#7c7cbe,#7b7bbf,#7a7ac1,#7979c3,#7777c5,#7575c8,#7272cb,#7171cd,#6f6fcf,#6f6fcf,#6f6fd0,#6e6ed1,#6b6bd4,#6868d8,#6161e0,#5858ea,#4d4df7,#4751ff,#4869ff,#4877ff,#4981ff,#4984ff,#487bff,#4868ff,#4646ff,#5d5de4,#7474c8,#7e86ae,#7b9593,#779e83,#74a27b,#73a378,#73a477,#73a477,#72a575,#71a672,#70a86f,#6eaa6c,#6dab69,#6cad65,#6aaf61,#6bb361,#6db863,#6fbc64,#70bf65,#71c166)"></div>
<div style="top:864px;left:2816.6px;width:1440px;background:linear-gradient(90deg,#74c768,#74c868,#74ca68,#75cc68,#76d069,#77d469,#78d969,#79df6a,#80e46b,#8be66e,#93e870,#96e871,#95e871,#90e770,#88e66e,#7ee46b,#7ae16a,#79df6a,#79de6a,#79dd6a,#78dc69,#78d969,#77d769,#76d369,#76cf69,#75cb68,#73c667,#71c065,#6eba63,#6bb361,#6dac67,#71a772,#75a17c,#799c86,#7b9495,#7d8ba5,#7e82b5,#7c7cbe,#7979c2,#7878c4,#7878c4,#7979c2,#7a7ac1,#7a7ac1,#7a7ac1,#7979c2,#7979c3,#7878c4,#7676c6,#7474c8,#7272cb,#7070ce,#6f6fd0,#6d6dd1,#6d6dd2,#6c6cd3,#6b6bd4,#6969d6,#6666da,#6060e1,#5a5ae8,#5252f2,#4949fc,#4754ff,#4765ff,#4871ff,#4873ff,#4868ff,#464fff,#5353f0,#6969d6,#7b7bc0,#7d8ca3,#7a9a8a,#75a17c,#72a575,#71a672,#71a672,#71a772,#71a771,#70a86f,#6fa96d,#6eab6a,#6dac68,#6cad65,#6baf62,#6bb261,#6cb662,#6eba63,#70be65,#71c065)"></div>
<div style="top:880px;left:2816.6px;width:1408px;background:linear-gradient(90deg,#74c968,#75cb68,#75cc68,#76cf69,#76d269,#77d769,#79dd6a,#7be36a,#8be66e,#96e871,#9dea73,#a1ea74,#a0ea74,#9ce973,#93e870,#87e56d,#7ce36b,#7ae16a,#79e06a,#79de6a,#79dd6a,#78db69,#78d869,#77d569,#76d169,#75ce68,#74c968,#72c467,#6fbd64,#6cb662,#6baf62,#6fa96d,#73a477,#779e82,#7b9790,#7c8da2,#7e83b5,#7b7bc0,#7777c5,#7575c7,#7575c7,#7676c7,#7777c5,#7777c5,#7777c5,#7777c5,#7676c6,#7575c7,#7474c9,#7272cb,#7070cd,#6e6ed0,#6d6dd2,#6b6bd4,#6b6bd5,#6a6ad5,#6a6ad6,#6868d8,#6565db,#6161e0,#5c5ce6,#5656ec,#5050f4,#4949fb,#464dff,#4759ff,#475bff,#464fff,#4e4ef6,#5f5fe3,#7070ce,#7f80ba,#7c909b,#789d85,#73a378,#71a771,#70a86f,#70a86f,#70a86f,#6fa96e,#6faa6c,#6eab6a,#6dac68,#6dad67,#6cad65,#6bae63,#6ab060,#6bb361,#6db863)"></div>
<div style="top:896px;left:2800.6px;width:1392px;background:linear-gradient(90deg,#75ca68,#75cb68,#75cc68,#75ce68,#76d069,#77d469,#78d969,#79e06a,#84e56c,#93e870,#9eea73,#a4eb75,#a7eb76,#a6eb75,#a2ea74,#99e972,#8de76f,#81e46c,#7ae26a,#79e06a,#79df6a,#79dd6a,#78db69,#78d969,#77d769,#77d469,#76d169,#75cd68,#74c868,#71c166,#6eba63,#6bb261,#6dac67,#70a771,#75a17c,#7a9a8a,#7c8e9f,#7e83b5,#7a7ac1,#7575c8,#7272cb,#7272cc,#7272cb,#7373ca,#7474c9,#7474c8,#7474c8,#7474c9,#7373ca,#7272cb,#7070ce,#6e6ed0,#6c6cd3,#6a6ad5,#6969d7,#6868d8,#6868d8,#6868d8,#6767d9,#6565db,#6262df,#5e5ee3,#5a5ae8,#5656ed,#5151f2,#4d4df8,#4949fb,#4949fc,#4e4ef6,#5757eb,#6666db,#7373ca,#7e82b5,#7b9398,#779e82,#72a476,#70a870,#6fa96d,#6faa6c,#6faa6c,#6eaa6b,#6eab6a,#6dac68,#6cad66,#6cad65,#6cae64,#6bae63,#6ab061)"></div>
<div style="top:912px;left:2800.6px;width:1392px;background:linear-gradient(90deg,#75cb68,#75cc68,#75cd68,#75ce68,#76d169,#77d569,#78db69,#7ae16a,#88e66e,#97e872,#a2ea74,#a7eb76,#a9ec76,#a8ec76,#a3eb75,#9be972,#8ee76f,#81e46c,#7ae26a,#79e06a,#79df6a,#79de6a,#78dc69,#78db69,#78d969,#77d869,#77d669,#76d369,#75ce68,#74c768,#70bf65,#6db762,#6ab060,#6eab6a,#72a575,#789d85,#7c909d,#7f81b7,#7777c5,#7171cd,#6e6ed1,#6c6cd2,#6d6dd2,#6e6ed1,#6f6fcf,#7070ce,#7171cd,#7171cd,#7070ce,#6e6ed0,#6c6cd3,#6a6ad6,#6767d9,#6565dc,#6363de,#6262de,#6363de,#6464dc,#6565dc,#6565dc,#6363dd,#6161e0,#5e5ee4,#5a5ae8,#5757ec,#5454ef,#5252f1,#5353f1,#5656ed,#5d5de5,#6969d7,#7474c9,#7e83b4,#7b9298,#779e83,#73a477,#70a870,#6fa96d,#6eaa6b,#6eab6a,#6dab69,#6dac67,#6cad66,#6cae65,#6bae64,#6bae63,#6baf62,#6aaf61)"></div>
<div style="top:928px;left:2800.6px;width:1392px;background:linear-gradient(90deg,#75cb68,#75cb68,#75cc68,#75ce68,#76d069,#77d469,#78da69,#79e16a,#87e56d,#96e871,#a0ea74,#a5eb75,#a6eb75,#a4eb75,#9eea73,#95e871,#89e66e,#7ce36b,#79e16a,#79df6a,#79de6a,#79dd6a,#79dd6a,#79dd6a,#79dc6a,#78dc69,#78db69,#78d969,#77d569,#75cf68,#73c667,#70be65,#6db662,#6aaf61,#6fa96e,#769f81,#7c909c,#7e7ebc,#7272cb,#6b6bd4,#6767d9,#6565dc,#6565dc,#6666da,#6969d7,#6a6ad5,#6b6bd4,#6b6bd4,#6a6ad6,#6868d8,#6363dd,#5f5fe3,#5b5be7,#5858ea,#5757ec,#5757eb,#5a5ae8,#5e5ee4,#6161e0,#6363de,#6363dd,#6363de,#6161e0,#5f5fe3,#5c5ce6,#5a5ae8,#5959e9,#5959e9,#5c5ce6,#6161e0,#6a6ad6,#7474c9,#7f81b7,#7c909c,#799c87,#74a27a,#71a672,#6fa96e,#6eaa6b,#6dac68,#6dad67,#6cad65,#6bae64,#6bae63,#6baf62,#6baf62,#6baf61,#6aaf61)"></div>
<div style="top:944px;left:2800.6px;width:1376px;background:linear-gradient(90deg,#74ca68,#74ca68,#75cb68,#75cc68,#75ce68,#76d169,#77d669,#79dd6a,#7ee46b,#8ee76f,#98e972,#9ce973,#9ce973,#99e972,#93e871,#8ae66e,#7fe46b,#79e16a,#79de6a,#79dd6a,#79dd6a,#79dd6a,#79de6a,#79df6a,#79df6a,#79e06a,#79df6a,#79de6a,#78db69,#77d569,#75cc68,#72c366,#6fbb64,#6cb461,#6dac68,#75a07e,#7c8e9f,#7a7ac1,#6d6dd2,#6363dd,#5e5ee4,#5b5be7,#5b5be7,#5c5ce6,#5e5ee3,#6060e1,#6161e0,#6060e1,#5d5de5,#5858ea,#5353f0,#4e4ef6,#4a4afa,#4848fc,#4848fd,#4949fb,#4e4ef6,#5454ee,#5b5be7,#6060e2,#6262df,#6363de,#6363de,#6262df,#6060e1,#5f5fe3,#5e5ee4,#5e5ee4,#6060e2,#6464dd,#6a6ad5,#7373ca,#7e7ebd,#7d8ba5,#7a978f,#769f80,#72a476,#70a86f,#6eab6a,#6dac67,#6cad65,#6bae63,#6baf62,#6baf62,#6aaf61,#6ab061,#6ab061)"></div>
<div style="top:960px;left:2800.6px;width:1360px;background:linear-gradient(90deg,#74c868,#74c968,#74c968,#74ca68,#75cb68,#75ce68,#76d269,#78d869,#79df6a,#80e46b,#8ae66e,#8ee76f,#8ee76f,#8be66e,#85e56d,#7de46b,#79e06a,#79dd6a,#78db69,#78db69,#78db69,#78dc69,#79de6a,#79e06a,#7ae16a,#7ae26a,#7ae26a,#79e06a,#79de6a,#78d869,#76d069,#73c667,#70be65,#6db762,#6cad65,#75a17e,#7d8ca4,#7777c6,#6868d7,#5d5de5,#5757eb,#5555ee,#5454ef,#5454ef,#5555ed,#5656ec,#5656ed,#5353f0,#4f4ff5,#4a4afb,#4649ff,#4752ff,#4758ff,#475cff,#475cff,#4758ff,#464dff,#4b4bf9,#5454ef,#5b5be7,#6060e2,#6262df,#6363dd,#6363dd,#6363de,#6262df,#6161e0,#6161e0,#6262df,#6565db,#6a6ad5,#7171cd,#7a7ac2,#7e85b0,#7c919a,#799b88,#74a27b,#70a771,#6eab6a,#6cad66,#6bae63,#6baf62,#6aaf61,#6ab061,#6ab061,#6ab060)"></div>
<div style="top:976px;left:2800.6px;width:1376px;background:linear-gradient(90deg,#74c768,#74c768,#74c768,#74c868,#74c968,#75ca68,#75cd68,#76d269,#78d869,#79de6a,#7ae26a,#7de36b,#7de36b,#7ae36a,#7ae16a,#79df6a,#79dc6a,#78da69,#78d969,#78d969,#78d969,#78db69,#79dd6a,#79e06a,#7ae16a,#7ae26a,#7ae26a,#7ae16a,#79de6a,#78d969,#76d169,#74c768,#70bf65,#6db762,#6cae65,#76a07f,#7d89a8,#7474c9,#6565dc,#5959e9,#5454ef,#5151f2,#5050f3,#5050f3,#5050f3,#5050f4,#4e4ef6,#4a4afa,#4647ff,#4751ff,#475aff,#4760ff,#4765ff,#4867ff,#4867ff,#4764ff,#475cff,#464bff,#4e4ef6,#5757ec,#5d5de5,#6060e1,#6262de,#6363dd,#6363dd,#6262de,#6262df,#6262df,#6262de,#6565dc,#6969d7,#6e6ed1,#7575c8,#7e7ebc,#7d8aa7,#7b9691,#76a07f,#71a772,#6dab69,#6cae65,#6baf62,#6aaf61,#6ab061,#6ab060,#6ab060,#6ab060,#6ab060)"></div>
<div style="top:992px;left:2800.6px;width:1376px;background:linear-gradient(90deg,#73c567,#73c567,#73c567,#73c567,#73c667,#73c768,#74c968,#75cc68,#76d169,#77d669,#78da69,#78dc69,#78dc69,#78dc69,#78db69,#78d969,#77d869,#77d769,#77d669,#77d669,#77d769,#78d969,#78db69,#79de6a,#79e06a,#7ae16a,#7ae16a,#79e06a,#79de6a,#78d869,#76d069,#73c768,#70bf65,#6db762,#6cad66,#779e82,#7e87ad,#7272cc,#6262df,#5757eb,#5252f1,#5050f4,#4f4ff5,#4f4ff5,#4e4ef5,#4d4df7,#4949fb,#4648ff,#4751ff,#475aff,#4760ff,#4766ff,#486aff,#486cff,#486bff,#4868ff,#4762ff,#4754ff,#4a4afb,#5454ef,#5c5ce6,#6060e1,#6262de,#6363dd,#6363de,#6262df,#6161e0,#6161e0,#6161e0,#6363de,#6767da,#6b6bd4,#7070cd,#7878c3,#7e84b3,#7b9298,#769f81,#70a771,#6dac68,#6bae64,#6baf62,#6ab061,#6ab060,#6ab060,#6ab060,#6ab060,#6ab060)"></div>
<div style="top:1008px;left:2816.6px;width:1344px;background:linear-gradient(90deg,#71c065,#71c065,#71c166,#71c166,#71c266,#72c366,#73c567,#74c868,#75cc68,#76cf69,#76d169,#76d169,#76d169,#76d169,#76d169,#76d169,#76d169,#76d169,#76d269,#76d369,#77d569,#78d869,#78db69,#79dd6a,#79df6a,#79df6a,#79de6a,#78db69,#77d669,#75cd68,#72c467,#6fbd64,#6cb562,#6dab69,#789d85,#7e85b1,#7070ce,#6161e0,#5757ec,#5252f1,#5050f3,#5050f4,#5050f4,#4f4ff5,#4c4cf8,#4848fc,#464bff,#4754ff,#475bff,#4765ff,#4877ff,#4988ff,#4980ff,#4871ff,#486aff,#4762ff,#4756ff,#4848fd,#5353f0,#5d5de4,#6363de,#6565db,#6565db,#6464dd,#6262df,#6060e1,#6060e2,#6060e1,#6161e0,#6464dd,#6868d8,#6d6dd2,#7474c9,#7f7fbb,#7c909d,#769f80,#70a86f,#6cad66,#6baf63,#6aaf61,#6ab061,#6ab060,#6ab060,#6ab060,#6ab060)"></div>
<div style="top:1024px;left:2832.6px;width:1328px;background:linear-gradient(90deg,#6eb963,#6eb963,#6eb963,#6eb963,#6eba63,#6fbb64,#6fbd64,#70bf65,#71c166,#71c266,#71c266,#72c266,#72c366,#72c467,#73c667,#74c868,#74c968,#75cb68,#75cc68,#75ce68,#76d169,#77d569,#77d769,#78d969,#78d969,#78d869,#77d669,#76d069,#74c868,#71c065,#6eb963,#6bb261,#6fa96d,#799b89,#7e83b3,#7070ce,#6161e0,#5858eb,#5454ef,#5252f1,#5252f1,#5353f1,#5252f1,#4f4ff5,#4a4afb,#4648ff,#4752ff,#4763ff,#498eff,#49d2ff,#48f9ff,#49e3ff,#4aa5ff,#4878ff,#4762ff,#4753ff,#4949fb,#5656ec,#6363dd,#6a6ad5,#6b6bd4,#6a6ad5,#6868d8,#6464dd,#6161e0,#5f5fe2,#5f5fe3,#6060e2,#6262df,#6666db,#6a6ad5,#7171cd,#7c7cbf,#7c8f9f,#76a07f,#6fa96d,#6cad65,#6baf62,#6ab061,#6ab060,#6ab060,#6ab060,#6ab060,#6ab060)"></div>
<div style="top:1040px;left:2832.6px;width:1072px;background:linear-gradient(90deg,#6baf63,#6baf63,#6baf62,#6baf62,#6baf62,#6baf62,#6baf61,#6aaf61,#6aaf61,#6baf61,#6aaf61,#6ab060,#6bb261,#6cb562,#6eb963,#70bd64,#71c065,#71c266,#72c366,#73c567,#74c868,#75cb68,#75ce68,#76d069,#76d069,#76d069,#75cd68,#74c868,#71c166,#6ebb64,#6cb562,#6baf62,#71a772,#7a998c,#7e83b4,#7070cd,#6363de,#5a5ae8,#5757ec,#5656ed,#5757ec,#5858eb,#5757eb,#5353f0,#4d4df6,#4848fc,#464fff,#498cff,#48f5ff,#6cffff,#7bffff,#73ffff,#54ffff,#49b7ff,#4868ff,#464dff,#4d4df7,#5d5de5,#6c6cd4,#7373ca,#7575c8,#7373ca,#6f6fcf,#6a6ad6,#6464dd,#6060e1,#5e5ee3,#5f5fe3)"></div>
<div style="top:1056px;left:2848.6px;width:1040px;background:linear-gradient(90deg,#72a574,#72a574,#72a574,#72a575,#72a576,#73a378,#74a27b,#75a07e,#76a07f,#76a07f,#75a17d,#73a379,#70a870,#6cad65,#6bb361,#6db762,#6eb963,#6ebb64,#6fbc64,#70bf65,#71c266,#73c467,#73c667,#73c667,#73c667,#72c467,#71c065,#6eba63,#6cb562,#6ab060,#6dac68,#72a576,#7a988e,#7e83b4,#7272cc,#6666da,#5e5ee3,#5b5be7,#5b5be7,#5c5ce5,#5e5ee3,#5e5ee4,#5959e9,#5252f1,#4d4df7,#464dff,#49b7ff,#66ffff,#7fffff,#83ffff,#83ffff,#76ffff,#48ebff,#4870ff,#4747fe,#5353f1,#6464dd,#7272cb,#7c7cbe,#7f80b9,#7f7fbb,#7a7ac2,#7272cb,#6a6ad5,#6464dd,#6060e1)"></div>
<div style="top:1072px;left:2848.6px;width:1024px;background:linear-gradient(90deg,#769f81,#769f81,#779f81,#779e82,#789d84,#799b88,#7a988d,#7b9593,#7b9396,#7b9396,#7b9594,#7a988d,#779e82,#72a574,#6dac68,#6ab060,#6bb361,#6cb461,#6db662,#6eb863,#6fbb64,#70bd64,#70bf65,#70bf65,#70bf65,#6fbd64,#6eb963,#6cb562,#6ab160,#6cad65,#6fa96c,#73a379,#7b9790,#7e83b3,#7373ca,#6969d7,#6161e0,#5f5fe2,#6060e2,#6262df,#6464dc,#6363dd,#5e5ee4,#5757ec,#5050f3,#4753ff,#49cdff,#68ffff,#78ffff,#7bffff,#7fffff,#77ffff,#48feff,#4980ff,#4a4afa,#5858eb,#6969d6,#7878c4,#7e85b1,#7d8ba5,#7d8ba5,#7e87ad,#7e7ebc,#7474c9,#6b6bd4)"></div>
<div style="top:1088px;left:2848.6px;width:1024px;background:linear-gradient(90deg,#7a9b89,#7a9b89,#7a9b89,#7a9a8a,#7a988d,#7b9592,#7c919a,#7c8ea0,#7d8ba4,#7d8ba5,#7d8ca3,#7c909b,#7a988e,#76a07f,#71a772,#6dab69,#6cae64,#6ab061,#6bb160,#6cb461,#6db762,#6eb963,#6eba63,#6eba63,#6eba63,#6db863,#6cb562,#6bb261,#6bae63,#6dab69,#70a86f,#74a27b,#7b9691,#7e83b3,#7474c9,#6a6ad6,#6464dd,#6262de,#6464dd,#6767da,#6969d7,#6868d8,#6363de,#5b5be7,#5454ef,#4762ff,#48eeff,#6fffff,#87ffff,#d0ffff,#acffff,#7dffff,#5bffff,#4a98ff,#4e4ef6,#5e5ee4,#6e6ed1,#7d7dbd,#7d8ca4,#7b9396,#7b9593,#7b9298,#7d8ca3,#7f81b7,#7676c7)"></div>
<div style="top:1104px;left:2848.6px;width:1024px;background:linear-gradient(90deg,#7b9790,#7b9790,#7b9790,#7b9691,#7b9494,#7c919a,#7c8da2,#7d88aa,#7e86af,#7e85b0,#7e86ae,#7d8aa8,#7c909b,#7a998b,#75a07e,#72a575,#70a86f,#6eaa6b,#6dac67,#6baf62,#6bb261,#6cb562,#6db662,#6db762,#6db662,#6cb562,#6bb261,#6baf62,#6dac68,#6fa96c,#71a673,#75a07e,#7b9594,#7e83b4,#7474c9,#6b6bd5,#6666da,#6565db,#6767d9,#6a6ad6,#6c6cd3,#6c6cd3,#6868d8,#6060e1,#5858ea,#464fff,#49d6ff,#65ffff,#93ffff,#e4ffff,#c3ffff,#77ffff,#48feff,#487aff,#5757ec,#6767d9,#7575c8,#7e86af,#7b9495,#799b88,#789c86,#799b88,#7a988e,#7c919b,#7e85b0)"></div>
<div style="top:1120px;left:2848.6px;width:976px;background:linear-gradient(90deg,#7b9298,#7b9397,#7b9397,#7b9299,#7c909c,#7c8da2,#7d87ac,#7e82b5,#7f7fbb,#7d7dbd,#7d7dbd,#7f7fbc,#7e82b5,#7d89a9,#7c909c,#7b9691,#799b88,#769f80,#73a378,#70a86f,#6dac67,#6ab060,#6bb261,#6bb361,#6bb261,#6ab160,#6baf63,#6dac68,#6fa96d,#71a772,#73a477,#779e82,#7b9397,#7e82b5,#7474c8,#6c6cd3,#6969d7,#6969d7,#6a6ad5,#6d6dd2,#7070ce,#7070ce,#6d6dd2,#6666da,#5d5de4,#5050f4,#4aa1ff,#57ffff,#78ffff,#96ffff,#87ffff,#65ffff,#49caff,#4a4afa,#6464dd,#7070cd,#7f7fbb,#7c9299,#779e82,#74a379,#73a477,#73a378)"></div>
<div style="top:1136px;left:2848.6px;width:976px;background:linear-gradient(90deg,#7c8ea0,#7c8e9f,#7c8ea0,#7c8da1,#7d8ba5,#7e87ad,#7f80b9,#7a7ac1,#7676c7,#7373cb,#7070ce,#6d6dd2,#6c6cd3,#6e6ed0,#7272cb,#7777c5,#7d7dbe,#7e85b0,#7c909d,#7a9b89,#74a37a,#70a86f,#6dab69,#6cad66,#6cad66,#6dac68,#6faa6c,#71a771,#72a576,#74a27a,#76a07f,#799b88,#7c919b,#7e82b5,#7676c6,#6f6fd0,#6c6cd3,#6c6cd3,#6d6dd1,#7070cd,#7373ca,#7474c9,#7171cd,#6b6bd5,#6262df,#5757eb,#4878ff,#48f2ff,#63ffff,#6cffff,#64ffff,#48fcff,#498fff,#5d5de5,#6f6fcf,#7c7cbf,#7c8e9f,#76a07f,#6fa96d,#6cad66,#6cae64,#6cad65)"></div>
<div style="top:1152px;left:2848.6px;width:992px;background:linear-gradient(90deg,#7d8aa6,#7d8aa7,#7d8aa8,#7d89aa,#7e86af,#7f80b8,#7979c3,#7171cd,#6a6ad6,#6161e0,#5959e9,#5454ef,#5151f3,#5151f2,#5454ef,#5858ea,#5f5fe3,#6868d8,#7373cb,#7f81b8,#7b9298,#779e82,#73a378,#72a674,#71a673,#72a575,#73a378,#75a17d,#769f81,#789d84,#799b88,#7b9790,#7c8f9f,#7e83b3,#7979c3,#7373ca,#7070ce,#7070ce,#7272cc,#7474c8,#7777c5,#7878c3,#7676c7,#6f6fcf,#6868d8,#5f5fe2,#4e4ef6,#4983ff,#49cfff,#48f2ff,#49d5ff,#4985ff,#5454ee,#6e6ed1,#7a7ac2,#7d8aa6,#779e82,#6cad66,#6cb562,#6eb963,#6eb963,#6eb963,#6eb963)"></div>
<div style="top:1168px;left:2848.6px;width:992px;background:linear-gradient(90deg,#7d88ab,#7d87ac,#7e87ad,#7e85b0,#7e82b6,#7c7cbf,#7373cb,#6767d9,#5858ea,#4e4ef6,#4848fd,#464aff,#464eff,#464eff,#464bff,#4646fe,#4a4afb,#4f4ff4,#5959e9,#6b6bd5,#7d7dbd,#7c919a,#799c87,#769f81,#76a07f,#769f80,#779e83,#799b87,#7a9a8b,#7a988e,#7b9692,#7b9397,#7c8da1,#7e85b0,#7d7dbd,#7878c4,#7676c7,#7575c7,#7676c6,#7979c3,#7c7cbf,#7d7dbe,#7b7bc0,#7575c7,#6e6ed0,#6868d8,#6060e1,#5858ea,#4848fc,#475eff,#4a4afa,#6363de,#7070ce,#7a7ac1,#7d89a9,#799c87,#6dac68,#6eb963,#71c065,#72c266,#72c366,#72c366,#72c467)"></div>
<div style="top:1184px;left:2848.6px;width:1008px;background:linear-gradient(90deg,#7e86ae,#7e86af,#7e85b0,#7e83b4,#7f7fbb,#7979c3,#6d6dd1,#5c5ce6,#4c4cf8,#464bff,#4755ff,#475aff,#4760ff,#486cff,#4874ff,#4765ff,#4755ff,#464aff,#4a4afa,#5858eb,#6e6ed0,#7e85b1,#7b9494,#7a9a89,#799b87,#799b88,#7a9a8b,#7a978f,#7b9593,#7b9495,#7b9298,#7c909b,#7c8da2,#7d87ac,#7f81b7,#7d7dbd,#7b7bc0,#7b7bc1,#7b7bc0,#7d7dbd,#7f80ba,#7f81b7,#7f80ba,#7c7cbf,#7676c7,#6f6fcf,#6b6bd5,#6868d8,#6767d9,#6868d7,#6d6dd1,#7474c9,#7c7cbe,#7d8aa8,#799b88,#6eab6a,#6eb963,#72c266,#74c768,#74c968,#74c968,#74ca68,#74ca68,#75ca68)"></div>
<div style="top:1200px;left:2848.6px;width:1008px;background:linear-gradient(90deg,#7e85af,#7e85b0,#7e84b2,#7e82b6,#7e7ebd,#7676c6,#6969d6,#5454ef,#4647ff,#4757ff,#475dff,#4869ff,#498dff,#4aa8ff,#4ab2ff,#4aa2ff,#4982ff,#475cff,#464bff,#4d4df7,#6262df,#7a7ac1,#7c8e9f,#7b9790,#7a998d,#7a988d,#7b9790,#7b9593,#7b9397,#7c9299,#7c919b,#7c8f9d,#7c8da2,#7d89a8,#7e85af,#7e82b5,#7f80b9,#7f7fba,#7f80ba,#7f81b7,#7e83b4,#7e84b1,#7e84b2,#7f82b6,#7d7dbd,#7878c3,#7474c9,#7272cb,#7373ca,#7676c7,#7a7ac1,#7f81b7,#7c8da2,#789c86,#6eab6a,#6eb963,#72c366,#74c968,#75cc68,#75cd68,#75cd68,#75cd68,#75cd68,#75cd68)"></div>
<div style="top:1216px;left:2848.6px;width:992px;background:linear-gradient(90deg,#7e85b0,#7e84b1,#7e83b4,#7f81b7,#7d7dbe,#7575c8,#6565dc,#4e4ef6,#4651ff,#475cff,#4762ff,#4982ff,#49b7ff,#49c9ff,#49cfff,#49c5ff,#4aadff,#4874ff,#4754ff,#4747fd,#5858eb,#7272cb,#7d88aa,#7b9396,#7b9691,#7b9691,#7b9593,#7b9396,#7b9299,#7c919a,#7c909c,#7c8f9d,#7c8ea0,#7d8ca4,#7d89a9,#7e87ad,#7e85b0,#7e84b1,#7e84b2,#7e84b2,#7e85b1,#7e86af,#7e86ae,#7e85af,#7e84b2,#7f81b7,#7f7fba,#7f7fba,#7e82b6,#7e86ae,#7c8da2,#7b9691,#75a17d,#6cad65,#6eba63,#72c467,#75cb68,#75ce68,#76cf69,#76cf69,#76cf69,#76cf69,#75ce68)"></div>
<div style="top:1232px;left:2848.6px;width:1008px;background:linear-gradient(90deg,#7e85b1,#7e84b2,#7e83b4,#7f80b8,#7c7cbf,#7373ca,#6060e1,#4a4afa,#4756ff,#475eff,#4867ff,#4a9aff,#49c6ff,#49dbff,#48f2ff,#49d4ff,#49bfff,#498cff,#475bff,#464aff,#5151f2,#6b6bd4,#7f82b6,#7c8f9e,#7b9397,#7b9496,#7b9397,#7b9298,#7c919a,#7c919b,#7c919b,#7c909c,#7c909d,#7c8f9f,#7c8da1,#7d8ca3,#7d8ba5,#7d8aa8,#7d88ab,#7e86af,#7e84b1,#7e84b2,#7e84b1,#7e85af,#7e87ac,#7d89a9,#7d8ca4,#7c909d,#7b9592,#799c86,#74a37a,#6eaa6b,#6bb361,#70be65,#73c667,#75cc68,#76d069,#76d169,#76d169,#76d169,#76d069,#76cf69,#75ce68,#75cb68)"></div>
<div style="top:1248px;left:2832.6px;width:1040px;background:linear-gradient(90deg,#7e85b0,#7e85b1,#7e84b2,#7e83b4,#7f80b9,#7c7cbf,#7272cc,#5d5de5,#4848fd,#4758ff,#475fff,#4868ff,#4a9cff,#49c8ff,#49d6ff,#49e5ff,#49d0ff,#49c1ff,#498eff,#475dff,#464fff,#4d4df6,#6666da,#7c7cbe,#7d8aa6,#7c8f9e,#7c909c,#7c919b,#7c919b,#7c919a,#7c919a,#7c9199,#7c9299,#7b9298,#7b9397,#7b9496,#7b9396,#7b9298,#7c8f9d,#7d8ba5,#7e86ad,#7f82b6,#7f7fbb,#7f7fbb,#7f81b7,#7e86af,#7d8ca4,#7b9396,#799c87,#73a379,#6dab69,#6bb361,#6fbc64,#72c366,#74ca68,#76cf69,#76d269,#77d369,#77d369,#76d369,#76d269,#76d169,#76cf69,#75cc68,#74c968,#73c768)"></div>
<div style="top:1264px;left:2832.6px;width:1040px;background:linear-gradient(90deg,#7e86af,#7e85b0,#7e84b1,#7e83b4,#7f81b8,#7c7cbf,#7171cc,#5d5de4,#4848fc,#4757ff,#475fff,#4764ff,#4985ff,#49beff,#49cdff,#49ceff,#49caff,#4ab4ff,#4878ff,#475aff,#464fff,#4d4df7,#6565db,#7a7ac2,#7e86af,#7d8aa7,#7d8ca4,#7c8ea1,#7c8f9d,#7c919b,#7b9299,#7b9397,#7b9495,#7b9692,#7a988d,#7a9b89,#799b87,#7d8ca3,#6f6fcf,#6e6ed1,#7878c4,#7d7dbd,#7979c3,#7878c4,#7b7bc0,#7f81b7,#7d8ca4,#7b9790,#779f81,#72a674,#6baf62,#6fbb64,#73c567,#75cd68,#76d269,#77d569,#77d669,#77d669,#77d669,#77d469,#76d369,#76d169,#75ce68,#75cb68,#74c768,#73c567)"></div>
<div style="top:1280px;left:2848.6px;width:1040px;background:linear-gradient(90deg,#7d87ac,#7e86ae,#7e85b1,#7e82b6,#7c7cbe,#7373cb,#6161e0,#4b4bf9,#4753ff,#475dff,#4761ff,#486bff,#4a92ff,#4ab1ff,#49bbff,#4aabff,#4988ff,#4763ff,#4758ff,#464cff,#5050f3,#6969d7,#7a7ac2,#7e82b5,#7e86ae,#7d88aa,#7d8ba5,#7c8e9f,#7c919b,#7b9397,#7b9495,#7b9692,#7a998c,#789c86,#76a07f,#769f80,#7070ce,#6666da,#6262df,#6b6bd5,#7878c4,#7373ca,#7171cc,#7575c8,#7f7fbb,#7c8ea0,#7a988e,#789d84,#75a17c,#70a870,#6bb261,#72c266,#76d269,#77d769,#78d969,#78d969,#78d869,#77d769,#77d569,#76d369,#76d069,#75cc68,#74c868,#73c567,#72c366,#71c166)"></div>
<div style="top:1296px;left:2848.6px;width:1072px;background:linear-gradient(90deg,#7d8ca4,#7d8aa7,#7d88ab,#7e84b1,#7e7ebc,#7575c8,#6666da,#5151f3,#464bff,#4759ff,#475eff,#4760ff,#4765ff,#4871ff,#487aff,#486dff,#4760ff,#475aff,#4753ff,#4747fe,#5757ec,#6d6dd1,#7b7bc0,#7f81b7,#7e84b2,#7e87ad,#7d8aa7,#7c8ea0,#7c919a,#7b9396,#7b9593,#7b978f,#7a9b89,#779f81,#74a379,#75a17d,#6d6dd2,#5c5ce6,#4f4ff5,#6a6ad6,#7474c9,#6f6fcf,#6d6dd2,#7272cc,#7e82b6,#7c919a,#7b9691,#7c8f9e,#7b9397,#779e83,#6fa96d,#6db863,#76cf69,#78da69,#78db69,#78db69,#78d969,#78d869,#77d569,#76d269,#75cf68,#75ca68,#73c667,#72c366,#71c166,#71c065,#70bf65,#70be65)"></div>
<div style="top:1312px;left:2848.6px;width:1088px;background:linear-gradient(90deg,#7b9298,#7c909c,#7c8da1,#7d89a9,#7e82b5,#7979c3,#6c6cd3,#5959e9,#4b4bfa,#464dff,#4756ff,#475bff,#475cff,#475dff,#475cff,#475aff,#4757ff,#4753ff,#4648ff,#4f4ff5,#6262df,#7373ca,#7e7ebd,#7e82b5,#7e85b0,#7d87ac,#7d8ba6,#7c8f9f,#7c9299,#7b9495,#7b9692,#7a988d,#799c87,#75a07e,#72a575,#71a771,#7f7fbb,#6b6bd5,#6a6ad6,#6f6fd0,#7676c6,#6e6ed1,#6b6bd4,#7373ca,#7e87ad,#7b9398,#7e82b5,#6161e0,#6262df,#7878c4,#73a477,#6baf63,#73c567,#78d969,#79dd6a,#78dc69,#78da69,#78d869,#77d569,#76d169,#75cd68,#74c868,#73c467,#71c266,#71c065,#70bf65,#70be65,#70be65,#70be65)"></div>
<div style="top:1328px;left:2832.6px;width:1120px;background:linear-gradient(90deg,#779e83,#799b88,#7a988d,#7b9593,#7c909c,#7d89a8,#7f7fbb,#7373cb,#6666db,#5858eb,#4e4ef6,#4747fd,#464cff,#4751ff,#4753ff,#4751ff,#464fff,#464aff,#4848fc,#5050f4,#5d5de4,#6f6fd0,#7b7bc0,#7e83b4,#7e87ad,#7d89a9,#7d8ba5,#7c8ea1,#7c919b,#7b9396,#7b9593,#7b9790,#7a998b,#789d85,#74a27b,#71a771,#6fa96c,#71a772,#7b9298,#7d88ab,#7e85b1,#7878c4,#6f6fcf,#6c6cd2,#7777c5,#7d8ba5,#7c909c,#6969d6,#4949fb,#486bff,#6f6fcf,#799b87,#6fa96e,#6cb562,#76d269,#79dd6a,#78dc69,#78d969,#77d769,#77d469,#76d069,#75cb68,#73c667,#72c366,#71c065,#70bf65,#70be65,#70bd64,#70bd64,#6fbd64,#70bd64)"></div>
<div style="top:1344px;left:2832.6px;width:1120px;background:linear-gradient(90deg,#71a772,#73a477,#75a17c,#779e82,#7a9a8a,#7b9396,#7d89a8,#7d7dbd,#7474c9,#6c6cd3,#6565dc,#5c5ce6,#5454ef,#4f4ff5,#4d4df7,#4e4ef6,#5050f4,#5454ef,#5b5be7,#6666db,#7171cc,#7d7dbd,#7d87ac,#7c8da1,#7c909c,#7c919a,#7b9298,#7b9496,#7b9593,#7b9691,#7b978f,#7a998d,#799b88,#779f81,#73a477,#6faa6c,#6cad67,#6dac68,#71a673,#799c86,#7d8ca3,#7d7dbd,#7474c8,#7272cc,#7b7bc0,#7c8da1,#7b9495,#7575c8,#5d5de4,#6969d7,#7979c3,#7d89a9,#789d84,#6cad66,#72c366,#78db69,#78da69,#77d769,#77d469,#76d169,#75cc68,#74c868,#72c467,#71c166,#70bf65,#70be65,#6fbd64,#6fbd64,#6fbd64,#6fbd64,#6fbd64)"></div>
<div style="top:1360px;left:2864.6px;width:1088px;background:linear-gradient(90deg,#6eaa6b,#70a770,#73a477,#769f80,#7a988d,#7c8f9d,#7d88aa,#7e83b3,#7f7fbb,#7a7ac1,#7474c9,#6f6fcf,#6c6cd2,#6d6dd2,#6e6ed0,#7272cb,#7878c4,#7f7fba,#7d89a8,#7b9397,#7a998b,#789d85,#779e82,#779e81,#779e82,#789d84,#799c87,#7a9b89,#7a9a89,#799b88,#789d84,#75a17d,#70a771,#6cae65,#6bb261,#6bb160,#6cad66,#73a477,#7a988e,#7d8aa7,#7f80b8,#7e7ebd,#7e83b3,#7c919a,#7a988e,#7c919a,#7c7cbf,#7e82b5,#6b6bd4,#5757eb,#7878c4,#71a771,#6db662,#77d469,#77d669,#76d269,#75cd68,#74c868,#72c366,#71c166,#71c065,#70bf65,#70be65,#6fbd64,#6fbd64,#6fbc64,#6fbc64,#6fbd64,#6fbd64)"></div>
<div style="top:1376px;left:2880.6px;width:1072px;background:linear-gradient(90deg,#6ab060,#6cad65,#6eaa6b,#71a772,#73a378,#75a17c,#76a07e,#769f80,#789d84,#7a9a89,#7b9691,#7b9495,#7b9396,#7b9495,#7b9790,#7a9a89,#779e82,#74a37a,#71a771,#6eaa6b,#6dac67,#6cad66,#6dac68,#6eaa6b,#71a772,#74a37a,#769f80,#779e83,#779e83,#76a07f,#73a477,#6eab6a,#6bb361,#6db863,#6eb963,#6db662,#6ab061,#71a672,#789d84,#7b9790,#7b9692,#7a998c,#789d84,#779e82,#779f81,#75a17c,#7a978f,#6969d7,#4b4bf9,#7373ca,#71a673,#6cb461,#76cf69,#75ce68,#73c667,#6fbc64,#6baf61,#70a870,#6fa96e,#6ab061,#6db762,#6ebb64,#6fbc64,#6fbc64,#6fbc64,#6fbc64,#6fbc64,#6fbc64)"></div>
<div style="top:1392px;left:2880.6px;width:1040px;background:linear-gradient(90deg,#6db863,#6db662,#6cb562,#6cb461,#6cb461,#6cb562,#6cb662,#6cb662,#6cb562,#6cb461,#6bb261,#6ab060,#6aaf61,#6baf62,#6baf61,#6ab060,#6bb261,#6cb461,#6db662,#6db863,#6eb963,#6eb963,#6db762,#6cb461,#6bae63,#70a86f,#73a378,#75a17d,#75a07e,#74a27a,#71a771,#6bae63,#6db762,#70be65,#71c065,#70c065,#6fbc64,#6cb662,#6ab060,#6cad66,#6cae64,#6bb261,#6cb461,#6ab160,#6dac68,#70a86f,#71a674,#7d88aa,#7d7dbd,#7b978f,#6dac67,#6fbc64,#75cd68,#71c065,#6cae64,#779e82,#7c8f9e,#7e86ae,#7e86ae,#7c8f9d,#789d84,#6eaa6b,#6cb562,#6eba63,#6fbc64,#6fbc64)"></div>
<div style="top:1408px;left:2880.6px;width:992px;background:linear-gradient(90deg,#6fbd64,#6fbc64,#6fbd64,#70bf65,#71c166,#72c467,#73c567,#73c567,#73c567,#72c467,#72c266,#71c065,#70bf65,#70be65,#70bd64,#70bd64,#70be65,#70bf65,#70bf65,#71c065,#71c065,#70bf65,#70bd64,#6eba63,#6bb361,#6dac68,#71a673,#73a378,#74a379,#72a576,#6faa6c,#6bb160,#6eba63,#71c166,#73c567,#73c667,#73c567,#72c266,#71c065,#71c065,#72c366,#74c868,#75cd68,#76d169,#76cf69,#71c065,#6bb261,#6cad66,#6dac68,#6bae63,#6db762,#75cb68,#73c567,#6eaa6b,#7b9298,#7e83b3,#7b7bc0,#7777c5,#7676c6,#7878c4,#7d7dbe,#7d89a9,#76a07f)"></div>
<div style="top:1424px;left:2880.6px;width:992px;background:linear-gradient(90deg,#71c065,#71c166,#72c366,#74c768,#75cb68,#75ce68,#76cf69,#76cf69,#76cf69,#75ce68,#75cb68,#74c968,#73c667,#73c567,#72c467,#72c467,#72c366,#72c366,#72c266,#71c266,#71c166,#71c065,#70be65,#6ebb64,#6cb562,#6bae64,#6fa96e,#71a673,#72a674,#70a870,#6cad66,#6cb562,#70bd64,#72c467,#74c868,#74ca68,#74ca68,#74c968,#74ca68,#75cc68,#76d069,#77d569,#78db69,#79e06a,#7be36a,#7ae36a,#78d969,#74c968,#71c266,#74ca68,#77d569,#76d369,#6ebb64,#7a998c,#7f81b8,#7979c3,#7474c9,#7171cd,#6f6fcf,#7070ce,#7272cc,#7676c7,#7e84b2)"></div>
<div style="top:1440px;left:2880.6px;width:992px;background:linear-gradient(90deg,#72c366,#73c567,#74c968,#76d069,#77d569,#77d769,#78d869,#78d869,#77d769,#77d569,#76d269,#75cf68,#75cb68,#74c968,#74c868,#73c768,#73c567,#72c366,#71c166,#70bf65,#70be65,#6fbd64,#6fbb64,#6eb963,#6cb562,#6ab061,#6dac68,#6eaa6b,#6eaa6b,#6cad66,#6bb261,#6eb963,#71c166,#73c768,#74ca68,#75cc68,#75cc68,#75cd68,#75ce68,#76d169,#77d569,#78da69,#79de6a,#7ae26a,#7ee46b,#81e46c,#7fe46b,#7ae26a,#79df6a,#79de6a,#78db69,#76d069,#6bb261,#7c8f9e,#7c7cbf,#7171cc,#5252f1,#4a4afa,#4848fd,#5d5de5,#6e6ed0,#7171cd,#7878c3)"></div>
<div style="top:1456px;left:2880.6px;width:992px;background:linear-gradient(90deg,#73c667,#75cb68,#77d469,#78dc69,#7ae16a,#7ae36a,#7be36a,#7ae36a,#7ae16a,#79df6a,#78da69,#77d569,#76d069,#75cd68,#75cb68,#74c968,#73c667,#71c266,#70bd64,#6eba63,#6db863,#6db762,#6db662,#6cb562,#6cb461,#6bb261,#6ab160,#6bb160,#6bb361,#6cb662,#6ebb64,#71c065,#73c667,#74ca68,#75cc68,#75cd68,#75cd68,#75cd68,#75cd68,#76d069,#76d369,#77d669,#78da69,#79dc6a,#79de6a,#79de6a,#79dd6a,#78dc69,#78da69,#78d969,#77d669,#74ca68,#6eaa6c,#7d8aa8,#7b7bc1,#6a6ad6,#475fff,#4872ff,#4874ff,#4949fb,#6d6dd1,#7070cd,#7575c8)"></div>
<div style="top:1472px;left:2880.6px;width:1008px;background:linear-gradient(90deg,#75ce68,#78d969,#80e46b,#97e871,#a2ea74,#a5eb75,#a4eb75,#a0ea74,#9ae972,#90e770,#7fe46b,#79dd6a,#77d669,#76d169,#75ce68,#75ca68,#73c667,#70bf65,#6eb963,#6cb461,#6ab160,#6ab060,#6ab060,#6bb160,#6cb461,#6db762,#6eba63,#6fbd64,#70bf65,#71c266,#73c567,#74c968,#75cc68,#75ce68,#75ce68,#75ce68,#75cc68,#75cb68,#74ca68,#74ca68,#75cb68,#75cd68,#76cf69,#76d069,#76d169,#76d169,#76d069,#76cf69,#76cf69,#76cf69,#76cf69,#72c366,#74a27a,#7e85b1,#7777c6,#5252f1,#4762ff,#4aa1ff,#4980ff,#475aff,#6161e0,#7070cd,#7474c9,#7f7fbb)"></div>
<div style="top:1488px;left:2880.6px;width:1008px;background:linear-gradient(90deg,#79e06a,#9be972,#baef7a,#c9f17c,#cdf27c,#cef27c,#cbf27c,#c7f17c,#c0f07c,#b2ed78,#9ce973,#7fe46b,#78db69,#77d469,#76d069,#75cc68,#73c667,#70be65,#6cb562,#6baf62,#6dac68,#6eab6a,#6dac67,#6ab060,#6db662,#70be65,#72c467,#74c968,#75cc68,#75ce68,#76cf69,#76d169,#76d169,#76d169,#76d069,#75ce68,#75cb68,#74c868,#73c667,#72c366,#71c266,#71c166,#71c166,#71c166,#71c166,#71c065,#71c065,#71c065,#71c166,#72c467,#74c768,#71c065,#73a378,#7e87ad,#7676c7,#4747fe,#4873ff,#49ceff,#4a9dff,#486aff,#5b5be7,#7272cb,#7777c6,#7e84b2)"></div>
<div style="top:1504px;left:2880.6px;width:1008px;background:linear-gradient(90deg,#b5ee79,#d3f37b,#e2f57b,#e7f67b,#e8f67b,#e7f67b,#e5f67b,#e1f57b,#d8f47b,#c9f17c,#aeed77,#8be66e,#79de6a,#77d669,#76d169,#75cc68,#73c667,#70be65,#6cb461,#6dac67,#6fa96e,#6fa96e,#6dac68,#6bb261,#6fbc64,#73c667,#76cf69,#77d469,#77d669,#77d669,#77d669,#77d569,#77d469,#76d369,#76d069,#75cd68,#74ca68,#73c667,#71c166,#6fbc64,#6db863,#6cb562,#6bb361,#6ab160,#6ab060,#6ab060,#6ab060,#6bb160,#6cb461,#6eb963,#70bf65,#71c065,#6cae65,#7c9299,#7f7fba,#6969d7,#4753ff,#486aff,#4766ff,#4e4ef6,#7171cd,#7878c4,#7f7fbb,#7b9593)"></div>
<div style="top:1520px;left:2880.6px;width:1024px;background:linear-gradient(90deg,#e3f67b,#eff77b,#f4f87a,#f5f87a,#f5f87a,#f4f87a,#f2f87a,#edf77b,#e4f67b,#d2f37b,#b4ee79,#8de66f,#79dd6a,#77d469,#75cf68,#75cb68,#73c667,#70be65,#6cb461,#6cad66,#6fa96d,#6eaa6b,#6baf62,#6eb863,#72c467,#76d069,#78d869,#78dc69,#79dc6a,#78db69,#78da69,#78d869,#77d669,#77d369,#76d069,#75cd68,#74c868,#72c366,#6fbc64,#6cb562,#6baf62,#6faa6c,#72a574,#74a27a,#75a17d,#75a07e,#75a17c,#73a478,#70a86f,#6bae63,#6db762,#70be65,#6db762,#779e83,#7e86ae,#7272cb,#4649ff,#475cff,#475dff,#5858ea,#7878c4,#7e7ebc,#7c8da1,#6eaa6b,#75cc68)"></div>
<div style="top:1536px;left:2896.6px;width:1008px;background:linear-gradient(90deg,#f9f97a,#fbf97a,#fbf97a,#faf97a,#f8f97a,#f6f97a,#f0f87a,#e6f67b,#d2f37b,#b1ed78,#85e56d,#78d869,#76cf69,#74ca68,#74c768,#72c467,#70bf65,#6db762,#6ab060,#6cae65,#6ab060,#6db863,#72c366,#76d069,#78da69,#79e06a,#7ae16a,#79e16a,#79de6a,#78dc69,#78d969,#77d769,#77d469,#76d069,#75cb68,#73c667,#70bf65,#6db762,#6baf63,#71a672,#779f81,#7b978f,#7c919a,#7c8ea0,#7c8da1,#7c8f9e,#7b9495,#799c87,#73a477,#6cae65,#6db762,#6eb963,#72a575,#7d8ca4,#7d7dbe,#6f6fcf,#6c6cd3,#6b6bd4,#7474c8,#7c7cbf,#7e84b2,#799b88,#6fbc64,#78d969)"></div>
<div style="top:1552px;left:2896.6px;width:1008px;background:linear-gradient(90deg,#fcfa7a,#fcfa7a,#fcf97a,#fbf97a,#f9f97a,#f6f97a,#eff87a,#e3f67b,#cdf27c,#a7eb76,#7ae26a,#76d269,#74c868,#72c467,#72c266,#71c166,#70be65,#6eba63,#6db662,#6db762,#6fbc64,#73c567,#76d169,#78dc69,#7be36a,#83e56c,#82e46c,#7ce36b,#79e16a,#79dd6a,#78da69,#77d769,#77d369,#76cf69,#74ca68,#72c366,#6fbb64,#6bb261,#70a86f,#779e83,#7c919a,#7e86ae,#7f7fbc,#7b7bc0,#7a7ac1,#7c7cbe,#7e82b6,#7d8ca4,#7a998d,#73a476,#6baf62,#6db662,#6bae64,#7a9a8b,#7d87ac,#7e7ebc,#7b7bc0,#7c7cbf,#7f7fbb,#7e85b0,#7b9396,#6dac68,#75cc68,#79e16a)"></div>
<div style="top:1568px;left:2928.6px;width:976px;background:linear-gradient(90deg,#fbf97a,#faf97a,#f8f97a,#f4f87a,#ecf77b,#def57b,#c6f17c,#9ce973,#79dd6a,#75cc68,#72c266,#70be65,#6fbd64,#6fbd64,#6fbd64,#70be65,#70bf65,#72c366,#75cb68,#77d569,#79df6a,#83e56c,#8ee76f,#91e770,#8ce66f,#84e56c,#7ae36a,#79df6a,#78db69,#77d769,#77d469,#76cf69,#74c968,#71c166,#6db863,#6cae65,#74a27a,#7b9495,#7e84b2,#7979c3,#7070ce,#6868d8,#6464dd,#6c6cd3,#7474c9,#7d7dbe,#7d8aa6,#799b89,#70a771,#6bb160,#6cb562,#6dac67,#789d85,#7c8da2,#7e85b0,#7e87ac,#7c919a,#769f80,#6ab160,#74c968,#79de6a,#89e66e)"></div>
<div style="top:1584px;left:2944.6px;width:960px;background:linear-gradient(90deg,#f8f97a,#f5f87a,#f1f87a,#e9f67b,#d9f47b,#bff07c,#94e871,#78da69,#74c868,#70be65,#6eba63,#6eb863,#6eba63,#6fbd64,#72c266,#74c968,#76d169,#78d969,#7ae16a,#88e66e,#96e871,#9ce973,#9be973,#94e871,#8ae66e,#7ee46b,#79e06a,#78dc69,#78d869,#77d469,#76cf69,#74c968,#71c065,#6db662,#6eab69,#779e83,#7d8ca4,#7b7bc0,#6c6cd3,#4c4cf8,#4873ff,#4983ff,#475bff,#5b5be7,#7272cb,#7f7fbb,#7c919b,#75a17d,#6dac68,#6cb562,#6eb963,#6cb461,#70a86f,#75a07e,#73a477,#6bb261,#73c567,#77d669,#7ae26a,#90e770,#a1ea74)"></div>
<div style="top:1600px;left:2960.6px;width:944px;background:linear-gradient(90deg,#f3f87a,#eef77b,#e5f67b,#d6f37b,#bbef7b,#90e770,#78d869,#74c768,#6fbd64,#6db863,#6db762,#6eb963,#70be65,#73c667,#76d069,#78da69,#7ae16a,#86e56d,#95e871,#9fea74,#a4eb75,#a2ea74,#9ae972,#8fe76f,#82e46c,#7ae16a,#79dd6a,#78d969,#77d569,#76d069,#74ca68,#71c166,#6db762,#6eab6a,#799c87,#7d87ac,#7676c6,#5555ed,#4a93ff,#49bfff,#49c9ff,#4ab3ff,#486aff,#6868d8,#7979c3,#7d8aa7,#799c86,#70a86f,#6bb261,#6ebb64,#71c166,#72c266,#72c266,#74c968,#77d569,#79df6a,#85e56d,#96e871,#a6eb75,#b7ee7a)"></div>
<div style="top:1616px;left:2960.6px;width:944px;background:linear-gradient(90deg,#f1f87a,#ecf77b,#e4f67b,#d5f37b,#bbef7b,#91e770,#78d969,#74c968,#70be65,#6eb963,#6eb963,#6fbb64,#71c166,#75ca68,#77d569,#79de6a,#7ee46b,#8ce66f,#99e972,#a3eb75,#a8eb76,#a6eb75,#9eea73,#93e870,#85e56d,#7ae26a,#79de6a,#78da69,#77d769,#76d269,#75cb68,#72c366,#6eb963,#6dac68,#789c86,#7e87ad,#7373cb,#464eff,#4ab2ff,#48fcff,#6fffff,#49d3ff,#4a96ff,#5959e9,#7676c7,#7e86ae,#7a998b,#71a673,#6ab060,#6eb963,#72c266,#75ca68,#76d369,#78da69,#7ae16a,#87e56d,#97e871,#a8eb76,#b8ef7a,#c7f17c)"></div>
<div style="top:1632px;left:2960.6px;width:960px;background:linear-gradient(90deg,#f0f87a,#ecf77b,#e4f67b,#d6f47b,#bff07c,#98e972,#79dd6a,#75cd68,#72c366,#70be65,#6fbd64,#70c065,#73c667,#76cf69,#78d969,#79e06a,#80e46c,#8ce66f,#98e972,#a3eb75,#a9ec76,#a8ec76,#a1ea74,#96e871,#89e66e,#7ce36a,#79df6a,#78dc69,#78d869,#77d469,#75ce68,#73c567,#6fbc64,#6baf62,#769f80,#7d8aa7,#7575c8,#4646ff,#4aaeff,#48f3ff,#65ffff,#49d2ff,#4a93ff,#5a5ae8,#7676c7,#7e86ad,#7a9a8b,#71a673,#6ab060,#6eb963,#72c266,#75cc68,#77d669,#79df6a,#83e56c,#94e871,#a6eb75,#b7ee7a,#c6f17c,#d2f37b,#dcf47b)"></div>
<div style="top:1648px;left:2960.6px;width:976px;background:linear-gradient(90deg,#f1f87a,#edf77b,#e7f67b,#dbf47b,#c7f17c,#a6eb75,#7de46b,#77d569,#75cb68,#73c667,#73c567,#73c768,#75cc68,#77d469,#78dc69,#7ae16a,#80e46c,#8ae66e,#96e871,#a2ea74,#a9ec76,#aaec76,#a4eb75,#99e972,#8ce66f,#80e46c,#7ae16a,#79de6a,#78da69,#77d669,#76d069,#74c968,#70bf65,#6bb361,#73a477,#7c909c,#7c7cbf,#5d5de5,#4989ff,#49baff,#49c6ff,#4ab1ff,#4765ff,#6969d7,#7979c2,#7d8aa7,#799c86,#70a870,#6ab160,#6eba63,#72c366,#75ce68,#78d969,#7ae36a,#8ee76f,#a2ea74,#b4ee79,#c3f17c,#d0f37b,#daf47b,#e2f57b,#e8f67b)"></div>
<div style="top:1664px;left:2960.6px;width:976px;background:linear-gradient(90deg,#f4f87a,#f3f87a,#eff77b,#e7f67b,#d8f47b,#c0f07c,#9eea73,#7de46b,#78da69,#77d569,#76d269,#77d369,#77d669,#78db69,#79df6a,#7ae36a,#80e46c,#89e66e,#94e871,#a1ea74,#aaec76,#acec77,#a8eb76,#9eea73,#92e870,#87e56d,#7ce36b,#79e16a,#79de6a,#78da69,#77d569,#75cd68,#72c467,#6db863,#6faa6c,#7a988e,#7e83b3,#7171cc,#5454ef,#4866ff,#487bff,#4752ff,#5d5de4,#7272cc,#7f7fbb,#7c909c,#769f80,#6faa6c,#6bb361,#6fbb64,#72c467,#76cf69,#78dc69,#83e56c,#9be972,#afed78,#c0f07c,#cdf27c,#d8f47b,#e0f57b,#e6f67b,#ebf77b)"></div>
<div style="top:1680px;left:2960.6px;width:976px;background:linear-gradient(90deg,#fdfa7a,#fefa7a,#fefa7a,#fbf97a,#f3f87a,#e4f67b,#d0f37b,#b9ef7a,#a3eb75,#94e871,#8ae66e,#86e56d,#84e56c,#82e46c,#80e46c,#80e46b,#82e56c,#89e66e,#94e871,#a2ea74,#adec77,#b1ed78,#aeed77,#a6eb75,#9ce973,#92e770,#89e66e,#82e46c,#7ce36a,#79e16a,#78dc69,#77d469,#75ca68,#70bf65,#6ab160,#75a17d,#7c8e9f,#7e7ebc,#7373ca,#6a6ad6,#6565db,#6b6bd4,#7272cb,#7b7bc0,#7d88aa,#7a988e,#73a378,#6cad66,#6cb562,#6fbd64,#73c667,#76d169,#79df6a,#8fe76f,#a8eb76,#bbef7b,#caf27c,#d5f37b,#def57b,#e5f67b,#eaf77b,#eef77b)"></div>
<div style="top:1696px;left:2976.6px;width:960px;background:linear-gradient(90deg,#fef378,#fef278,#fef178,#fef278,#fff479,#fff87a,#f7f97a,#e9f77b,#ddf57b,#d3f37b,#c9f17c,#bbef7b,#a9ec76,#97e871,#8be66e,#87e56d,#8ce66f,#97e871,#a6eb75,#b3ee79,#b9ef7a,#b8ef7a,#b3ee79,#abec77,#a3eb74,#9ce973,#98e972,#95e871,#8ee76f,#82e56c,#79df6a,#77d569,#74c868,#6eba63,#6dab69,#789c85,#7d8ca3,#7f80b9,#7a7ac1,#7878c3,#7a7ac2,#7f7fbb,#7d88aa,#7b9494,#769f80,#6fa96e,#6ab160,#6eb963,#71c065,#74c768,#77d369,#7ae26a,#9ae972,#b4ee79,#c6f17c,#d2f37b,#dcf47b,#e3f67b,#e9f67b,#edf77b,#f0f87a)"></div>
<div style="top:1712px;left:2976.6px;width:960px;background:linear-gradient(90deg,#feeb76,#fee976,#fde775,#fde775,#fde775,#fee976,#feeb76,#feee77,#fef178,#fff479,#fff97a,#ebf77b,#cff27c,#b0ed78,#99e972,#8ee76f,#8de66f,#93e870,#a2eb74,#b6ee7a,#c2f07c,#c5f17c,#c3f07c,#bef07b,#b8ef7a,#b5ee79,#b4ee79,#b3ee79,#afed78,#a5eb75,#94e871,#7ae36a,#77d669,#73c768,#6db762,#6fa96d,#789d85,#7b9298,#7d8ca4,#7d89a9,#7d8aa7,#7c8f9e,#7b9790,#769f81,#71a771,#6baf62,#6db762,#70bd64,#72c366,#74ca68,#77d569,#7ee46b,#a3eb75,#bef07c,#cef27c,#d9f47b,#e1f57b,#e7f67b,#ecf77b,#eff77b,#f2f87a)"></div>
<div style="top:1728px;left:2976.6px;width:880px;background:linear-gradient(90deg,#fde474,#fde274,#fde174,#fde173,#fde173,#fde173,#fde173,#fde274,#fde374,#fde675,#feec76,#fff579,#eaf77b,#c6f17c,#a3eb75,#86e56d,#79df6a,#78db69,#79e06a,#9ae972,#bff07c,#d1f37b,#d5f37b,#d3f37b,#d0f37b,#cff27c,#cff27c,#cff27c,#cdf27c,#c6f17c,#b8ef7a,#a1ea74,#81e46c,#77d669,#73c567,#6db662,#6eaa6b,#74a27b,#789d84,#799b89,#799b89,#789d84,#75a17c,#70a770,#6bae63,#6db662,#6fbd64,#72c366,#74c768,#75cd68,#77d669,#81e46c,#aaec76,#c6f17c,#d5f37b,#dff57b)"></div>
<div style="top:1744px;left:2976.6px;width:816px;background:linear-gradient(90deg,#fde173,#fde073,#fddf72,#fddf72,#fddf72,#fdde71,#fdde71,#fdde71,#fddf72,#fde073,#fde575,#feee77,#fcfa7a,#d1f37b,#92e770,#77d669,#75cc68,#74ca68,#75cd68,#78d969,#94e871,#cef27c,#eaf77b,#eef77b,#ecf77b,#eaf77b,#e9f77b,#e8f67b,#e6f67b,#e0f57b,#d5f37b,#c3f07c,#a6eb75,#80e46b,#77d469,#72c467,#6db762,#6bae63,#6fa96d,#71a673,#72a574,#71a672,#6faa6c,#6baf62,#6db662,#6fbd64,#72c366,#74c868,#75cc68,#76d069,#77d769,#7fe46b)"></div>
<div style="top:1760px;left:2976.6px;width:784px;background:linear-gradient(90deg,#fddf72,#fddf72,#fddf72,#fdde71,#fdde71,#fddd71,#fddd70,#fddd70,#fddd71,#fddf72,#fde174,#feea76,#fff679,#d0f37b,#79df6a,#74ca68,#72c366,#70be65,#71c166,#75cd68,#79de6a,#bdef7b,#fffa7a,#fef478,#fff479,#fff679,#fff779,#fff97a,#fefa7a,#f7f97a,#ecf77b,#dcf47b,#c4f17c,#a0ea74,#7ae16a,#76d169,#72c366,#6eba63,#6bb461,#6ab061,#6bae64,#6bae63,#6ab160,#6db662,#6fbd64,#72c366,#74c868,#75cc68,#76cf69,#76d269)"></div>
<div style="top:1776px;left:2976.6px;width:768px;background:linear-gradient(90deg,#fddf72,#fddf72,#fdde71,#fdde71,#fddd71,#fddd70,#fddc70,#fddc70,#fddd70,#fdde71,#fde073,#fde775,#fef478,#c3f07c,#77d669,#73c667,#71a673,#7777c5,#7a7ac2,#70a771,#78db69,#b4ee79,#fef378,#fde575,#fde575,#fde775,#feea76,#feed77,#fef178,#fff479,#fff97a,#f1f87a,#daf47b,#baef7b,#91e770,#78dc69,#75ce68,#72c467,#70bd64,#6eb963,#6db662,#6cb662,#6db863,#6fbc64,#71c266,#74c768,#75cc68,#76cf69,#76d269)"></div>
<div style="top:1792px;left:2976.6px;width:768px;background:linear-gradient(90deg,#fddf72,#fddf72,#fdde71,#fdde71,#fddd71,#fddd70,#fddc70,#fddc70,#fddc70,#fddd71,#fde072,#fde575,#fef378,#b1ed78,#76d269,#70bf65,#7d7dbe,#5c5ce5,#5a5ae8,#7e82b6,#77d469,#b9ef7a,#feec76,#fddb6f,#fddb6f,#fddc70,#fddf72,#fde174,#fde675,#feeb76,#fef077,#fff779,#f0f87a,#d0f37b,#a9ec76,#81e46c,#78d869,#75ce68,#73c667,#71c266,#70be65,#6fbd64,#70be65,#71c166,#73c567,#75ca68,#75ce68,#76d169,#77d369)"></div>
<div style="top:1808px;left:2976.6px;width:720px;background:linear-gradient(90deg,#fde073,#fde072,#fddf72,#fddf72,#fdde71,#fddd70,#fddc70,#fddc70,#fddc70,#fddd70,#fddf72,#fde374,#fef078,#baef7a,#77d569,#71c266,#7f7fbb,#6060e1,#5f5fe2,#7d88ab,#79de6a,#dbf47b,#fddf72,#fdd369,#fdd268,#fdd46a,#fdd76c,#fddb6f,#fdde71,#fde173,#fde675,#feee77,#fff779,#e8f67b,#c2f07c,#99e972,#7ae16a,#77d769,#76cf69,#74ca68,#73c768,#73c567,#73c467,#73c667,#74c968,#75cd68)"></div>
<div style="top:1824px;left:2992.6px;width:688px;background:linear-gradient(90deg,#fde274,#fde173,#fde073,#fddf72,#fdde71,#fddd70,#fddc70,#fddc70,#fddd70,#fddf72,#fde274,#feed77,#def57b,#7ae26a,#76d069,#6baf62,#7f80b9,#7e86ae,#6fbb64,#bcef7b,#feee77,#fdd269,#fdc962,#fdc962,#fdcc64,#fdd067,#fdd56a,#fdd86d,#fddc70,#fde072,#fde575,#feee77,#fff97a,#dbf47b,#b2ed78,#8ce66f,#79df6a,#77d869,#76d369,#76d069,#75ce68,#75cc68,#75cc68,#75ce68)"></div>
<div style="top:1840px;left:2992.6px;width:656px;background:linear-gradient(90deg,#fde675,#fde575,#fde374,#fde173,#fddf72,#fddd71,#fddc70,#fddc70,#fddc70,#fdde71,#fde274,#feea76,#fff97a,#b0ed78,#79e06a,#78d969,#78d869,#7be36a,#b9ef7a,#fff879,#fdd86d,#fdc65f,#fdc25c,#fdc25c,#fdc55e,#fdc962,#fdce66,#fdd46a,#fdd86d,#fddb6f,#fddf72,#fde675,#fef078,#f5f87a,#cbf27c,#a2ea74,#81e46c,#79de6a,#78d969,#77d769,#77d569,#77d469)"></div>
<div style="top:1856px;left:2992.6px;width:640px;background:linear-gradient(90deg,#feea76,#fee876,#fde675,#fde374,#fde073,#fdde71,#fddd70,#fddc70,#fddd70,#fdde71,#fde274,#fee976,#fef178,#f6f97a,#cdf27c,#bbef7b,#bef07c,#e2f57b,#feea76,#fdd66b,#fdc55f,#fdbc59,#feba58,#febb59,#fdbf5b,#fdc45e,#fdc962,#fdcf66,#fdd46a,#fdd86d,#fddc70,#fde073,#fee976,#fff579,#e2f57b,#b6ee79,#90e770,#7ae36a,#79de6a,#78db69,#78da69)"></div>
<div style="top:1872px;left:3008.6px;width:624px;background:linear-gradient(90deg,#feeb76,#fee876,#fde575,#fde274,#fde072,#fdde71,#fddd71,#fddd71,#fddf72,#fde274,#fde875,#feec77,#feed77,#feeb76,#fde875,#fde274,#fdda6e,#fdcc64,#fdc05b,#feb657,#feb154,#feaf53,#feb355,#feb857,#fdbf5a,#fdc55e,#fdcb63,#fdd067,#fdd56b,#fdd96e,#fddd71,#fde274,#feee77,#f7f97a,#c8f17c,#9de973,#81e46c,#79e06a,#79de6a,#79dc6a)"></div>
<div style="top:1888px;left:2992.6px;width:640px;background:linear-gradient(90deg,#feee77,#feec77,#feea76,#fde875,#fde475,#fde174,#fde072,#fddf72,#fddf72,#fde072,#fde274,#fde775,#fee976,#fde775,#fde073,#fdd96e,#fdd167,#fdc760,#fdbd5a,#feb154,#ffa850,#ff9f50,#ff9e50,#ffa550,#ffad52,#feb757,#fdc15b,#fdc760,#fdcd64,#fdd269,#fdd66c,#fdda6e,#fddf72,#fde675,#fff679,#d8f47b,#a8eb76,#87e56d,#7ae26a,#79df6a,#79de6a)"></div>
<div style="top:1904px;left:2992.6px;width:640px;background:linear-gradient(90deg,#feef77,#feee77,#feec77,#feea76,#fde875,#fde575,#fde274,#fde174,#fde173,#fde274,#fde575,#fde775,#fde875,#fde374,#fddd71,#fdd56b,#fdcb63,#fdc15c,#feb355,#ffa250,#ff9450,#ff8a50,#ff8950,#ff9150,#ff9e50,#feaf53,#febb59,#fdc35d,#fdc961,#fdcf66,#fdd46a,#fdd76c,#fddb6f,#fde073,#feee77,#eaf77b,#b4ee79,#8de76f,#7ae36a,#79df6a,#79de6a)"></div>
<div style="top:1920px;left:2976.6px;width:640px;background:linear-gradient(90deg,#fef078,#fef077,#feef77,#feef77,#feee77,#feec77,#feeb76,#fee976,#fde875,#fde875,#fee876,#feea76,#feeb76,#fee976,#fde374,#fddc70,#fdd36a,#fdc961,#fdbd5a,#ffac52,#ff9650,#ff8150,#ff674e,#ff674e,#ff754f,#ff9450,#ffa850,#feb757,#fdc15b,#fdc65f,#fdcb63,#fdd067,#fdd46a,#fdd76c,#fddc70,#fde575,#fff97a,#c5f17c,#95e871,#7de36b,#79e06a)"></div>
<div style="top:1936px;left:2976.6px;width:640px;background:linear-gradient(90deg,#fef178,#fef278,#fef278,#fef278,#fef378,#fef378,#fef278,#fef278,#fef178,#fef178,#fef178,#fef178,#fef077,#feec77,#fde575,#fddd70,#fdd46a,#fdc961,#febb59,#ffa850,#ff8f50,#ff6d4e,#ff614d,#ff5b4c,#ff674e,#ff8950,#ffa250,#feb355,#fdbf5a,#fdc55e,#fdc962,#fdcd65,#fdd167,#fdd46a,#fdd86d,#fdde71,#feef77,#dbf47b,#a2ea74,#82e46c,#79e16a)"></div>
<div style="top:1952px;left:2976.6px;width:624px;background:linear-gradient(90deg,#fef478,#fff579,#fff779,#fff97a,#fefa7a,#fbf97a,#f8f97a,#f8f97a,#f8f97a,#f9f97a,#fbf97a,#fffa7a,#fff679,#fef178,#fee976,#fddf72,#fdd76c,#fdcc63,#fdbf5a,#ffab51,#ff9350,#ff7650,#ff634d,#ff624d,#ff6e4e,#ff8f50,#ffa550,#feb556,#fdbf5b,#fdc45e,#fdc861,#fdcc64,#fdce66,#fdd168,#fdd46a,#fdd96d,#fde274,#fcf97a,#b8ef7a,#8be66e)"></div>
<div style="top:1968px;left:2992.6px;width:528px;background:linear-gradient(90deg,#f5f87a,#edf77b,#e5f67b,#def57b,#daf47b,#d7f47b,#d7f47b,#d8f47b,#daf47b,#e0f57b,#e9f77b,#f7f97a,#fff779,#feee77,#fde374,#fdda6e,#fdd067,#fdc45e,#feb355,#ff9d50,#ff8a50,#ff744f,#ff744f,#ff8350,#ff9a50,#ffac52,#feb958,#fdc15b,#fdc55e,#fdc961,#fdcb63,#fdcd65,#fdcf66,#fdd168)"></div>
<div style="top:1984px;left:2992.6px;width:512px;background:linear-gradient(90deg,#c0f07c,#b6ee7a,#b0ed78,#acec77,#abec77,#abec77,#aeed77,#b1ed78,#b8ee7a,#c3f07c,#d2f37b,#e5f67b,#f9f97a,#fef378,#fee976,#fdde71,#fdd56a,#fdca62,#fdbd5a,#ffac52,#ff9e50,#ff9550,#ff9550,#ff9c50,#ffa950,#feb456,#fdbe5a,#fdc35d,#fdc760,#fdca62,#fdcc64,#fdcd65,#fdce66)"></div>
<div style="top:2000px;left:2992.6px;width:496px;background:linear-gradient(90deg,#78d869,#78d869,#78d969,#78db69,#79dd6a,#79e06a,#7ae26a,#80e46c,#8be66e,#9ce973,#b4ee79,#cef27c,#e7f67b,#fff97a,#feef77,#fde274,#fdd96e,#fdd067,#fdc760,#fdbc59,#feb355,#ffac52,#ffab52,#feb054,#feb757,#fdbe5a,#fdc35d,#fdc65f,#fdc961,#fdcb63,#fdcd64,#fdce65)"></div>
<div style="top:2016px;left:2992.6px;width:480px;background:linear-gradient(90deg,#6cb662,#6eb963,#6fbd64,#71c065,#72c467,#74c868,#75cc68,#76d169,#77d669,#79df6a,#8ee76f,#b0ed78,#d1f37b,#eef77b,#fff679,#feea76,#fddf72,#fdd76c,#fdcf66,#fdc861,#fdc35d,#fdbe5a,#fdbd5a,#fdc05b,#fdc35d,#fdc55e,#fdc760,#fdca62,#fdcc64,#fdcd65,#fdce65)"></div>
<div style="top:2032px;left:2992.6px;width:480px;background:linear-gradient(90deg,#73a378,#71a771,#6eab6a,#6baf63,#6bb361,#6db762,#6fbb64,#71c065,#73c667,#76cf69,#78dc69,#8ee76f,#b5ee79,#d6f47b,#f5f87a,#fef378,#fde775,#fdde71,#fdd76c,#fdd168,#fdcc64,#fdc962,#fdc861,#fdc861,#fdc962,#fdcb63,#fdcc64,#fdce65,#fdce66,#fdcf66,#fdcf66)"></div>
<div style="top:2048px;left:2992.6px;width:464px;background:linear-gradient(90deg,#7a998b,#789d84,#75a17e,#73a476,#70a86f,#6dac68,#6ab060,#6cb562,#6fbb64,#72c467,#76d069,#79df6a,#97e872,#bdef7b,#ddf57b,#fbf97a,#fef178,#fde675,#fdde71,#fdd96d,#fdd56b,#fdd269,#fdd067,#fdd067,#fdd067,#fdd067,#fdd167,#fdd168,#fdd168,#fdd168)"></div>
<div style="top:2064px;left:3008.6px;width:448px;background:linear-gradient(90deg,#7b9692,#7a9a8a,#779d83,#75a17c,#72a575,#6fa96d,#6bae64,#6cb461,#6fbd64,#74c768,#77d669,#7ee46b,#a4eb75,#c6f17c,#e3f67b,#fffa7a,#feef77,#fde575,#fddf72,#fddb6f,#fdd96d,#fdd76c,#fdd66b,#fdd56b,#fdd46a,#fdd46a,#fdd46a,#fdd46a,#fdd369)"></div>
<div style="top:2080px;left:3008.6px;width:432px;background:linear-gradient(90deg,#7c909d,#7b9496,#7a988e,#799c86,#76a07f,#73a476,#6fa96d,#6baf61,#6db762,#71c266,#75cf68,#79dd6a,#8ee76f,#afed78,#cef27c,#ebf77b,#fff779,#feee77,#fde675,#fde073,#fdde71,#fddb6f,#fdda6e,#fdd86d,#fdd76c,#fdd76c,#fdd66c,#fdd66c)"></div>
<div style="top:2096px;left:3008.6px;width:432px;background:linear-gradient(90deg,#7d8aa6,#7c8e9f,#7b9298,#7b9790,#799b88,#76a07f,#72a575,#6eab69,#6bb361,#6fbd64,#74c968,#77d669,#7be36a,#9be972,#baef7b,#d7f47b,#f3f87a,#fff579,#feed77,#fde675,#fde174,#fddf72,#fddd70,#fddc6f,#fddb6f,#fdda6e,#fdd96e,#fdd96e)"></div>
<div style="top:2112px;left:3008.6px;width:448px;background:linear-gradient(90deg,#7e85af,#7d89a9,#7c8da2,#7c919a,#7b9691,#799b87,#75a17d,#71a771,#6baf63,#6db863,#72c366,#76d069,#79dc6a,#88e66e,#a7eb76,#c5f17c,#e0f57b,#f9f97a,#fef478,#feed77,#fde775,#fde374,#fde173,#fddf72,#fdde71,#fdde71,#fdde71,#fdde71,#fdde71)"></div>
<div style="top:2128px;left:3008.6px;width:464px;background:linear-gradient(90deg,#7f80b9,#7e83b3,#7d87ac,#7d8ba4,#7c909c,#7b9691,#789c86,#74a27a,#6eaa6b,#6bb361,#70be65,#74ca68,#77d669,#7ae26a,#95e871,#b3ee79,#cef27c,#e7f67b,#fdfa7a,#fef478,#feee77,#feea76,#fde775,#fde575,#fde474,#fde374,#fde474,#fde575,#fde775,#fee976)"></div>
<div style="top:2144px;left:3008.6px;width:464px;background:linear-gradient(90deg,#7b7bc0,#7e7ebc,#7f81b7,#7e85af,#7d8aa7,#7c909c,#7b9790,#779e83,#72a674,#6baf63,#6eb963,#72c467,#76d069,#78db69,#84e56d,#a1ea74,#bef07b,#d6f37b,#eaf77b,#fcf97a,#fff679,#fef278,#feef77,#feee77,#feed77,#feee77,#feef77,#fef178,#fff479,#fff779)"></div>
<div style="top:2160px;left:2992.6px;width:480px;background:linear-gradient(90deg,#7474c9,#7676c6,#7979c3,#7c7cbf,#7f7fbb,#7e84b2,#7d8aa7,#7c919b,#7a998b,#75a17c,#6eaa6b,#6cb461,#70bf65,#74ca68,#77d669,#7ae16a,#92e770,#adec77,#c5f17c,#d8f47b,#e8f67b,#f5f87a,#fefa7a,#fff87a,#fff779,#fff779,#fff87a,#fefa7a,#f7f97a,#eff77b,#e6f67b)"></div>
<div style="top:2176px;left:2976.6px;width:496px;background:linear-gradient(90deg,#6e6ed0,#7070ce,#7272cc,#7474c9,#7777c5,#7a7ac1,#7e7ebc,#7e84b1,#7d8ca4,#7b9495,#789d84,#71a673,#6ab060,#6ebb64,#73c567,#76d169,#78dc69,#84e56c,#9dea73,#b4ee79,#c7f17c,#d6f37b,#e1f57b,#e9f67b,#edf77b,#eef77b,#edf77b,#e9f77b,#e4f67b,#ddf57b,#d5f37b,#cdf27c)"></div>
<div style="top:2192px;left:2960.6px;width:528px;background:linear-gradient(90deg,#6a6ad6,#6b6bd4,#6c6cd3,#6e6ed0,#7070ce,#7373ca,#7676c6,#7b7bc1,#7f80ba,#7d87ac,#7c909c,#7a9a8a,#74a379,#6dac67,#6db762,#71c166,#75cc68,#77d769,#7ae16a,#8ee76f,#a3eb75,#b5ee79,#c4f17c,#cef27c,#d4f37b,#d8f47b,#d8f47b,#d7f47b,#d3f37b,#cef27c,#c8f17c,#c1f07c,#baef7a,#b3ee79)"></div>
<div style="top:2208px;left:2960.6px;width:544px;background:linear-gradient(90deg,#6868d8,#6969d7,#6a6ad5,#6c6cd3,#6e6ed1,#7171cd,#7474c9,#7878c4,#7d7dbd,#7e84b2,#7c8da2,#7b9790,#75a07e,#6fa96c,#6bb361,#70bd64,#74c768,#76d269,#78db69,#7de46b,#91e770,#a2eb74,#b0ed78,#baef7b,#c1f07c,#c4f17c,#c5f17c,#c3f07c,#c0f07c,#bbef7b,#b5ee79,#afed78,#a9ec76,#a4eb75,#9eea73)"></div>
<div style="top:2224px;left:2976.6px;width:528px;background:linear-gradient(90deg,#6868d7,#6a6ad6,#6b6bd4,#6d6dd1,#7070ce,#7373ca,#7777c5,#7c7cbf,#7e82b5,#7d8ba5,#7b9594,#779e82,#71a771,#6ab060,#6eba63,#72c366,#75cc68,#77d569,#79de6a,#7fe46b,#8fe76f,#9ce973,#a6eb75,#adec77,#b0ed78,#b1ed78,#b0ed78,#adec77,#a9ec76,#a5eb75,#a0ea74,#9ce973,#97e872,#93e870)"></div>
<div style="top:2240px;left:2992.6px;width:512px;background:linear-gradient(90deg,#6a6ad5,#6c6cd3,#6e6ed1,#7070ce,#7373ca,#7777c5,#7c7cbf,#7e82b6,#7d8aa7,#7b9396,#789d85,#72a575,#6cad65,#6db662,#70bf65,#73c768,#76cf69,#77d769,#79de6a,#7be36a,#88e66e,#92e770,#99e972,#9dea73,#9fea73,#9eea73,#9ce973,#9ae972,#97e871,#94e871,#91e770,#8ee76f,#8be66e)"></div>
<div style="top:2256px;left:3024.6px;width:480px;background:linear-gradient(90deg,#7070ce,#7272cb,#7575c8,#7878c3,#7d7dbe,#7e82b5,#7d8aa7,#7b9397,#799c87,#73a378,#6eab69,#6bb361,#6ebb64,#72c266,#74c968,#76d069,#77d769,#79dc6a,#7ae16a,#80e46b,#87e56d,#8ce66f,#8ee76f,#8fe76f,#8ee76f,#8de76f,#8ce66f,#8ae66e,#88e66e,#86e56d,#84e56d)"></div>
<div style="top:2272px;left:3024.6px;width:480px;background:linear-gradient(90deg,#7373cb,#7575c8,#7777c5,#7a7ac1,#7e7ebc,#7e84b2,#7d8ba6,#7b9397,#799b88,#74a27a,#6fa96d,#6ab060,#6db762,#70be65,#72c467,#75ca68,#76d069,#77d669,#78db69,#79df6a,#7ae26a,#7de46b,#80e46c,#82e46c,#82e56c,#82e56c,#82e56c,#82e46c,#81e46c,#81e46c,#80e46b)"></div>
<div style="top:2288px;left:3040.6px;width:464px;background:linear-gradient(90deg,#7878c3,#7a7ac1,#7d7dbd,#7f81b8,#7e86af,#7d8ca4,#7b9396,#799b88,#74a27b,#70a86f,#6bae63,#6cb562,#6ebb64,#71c065,#73c667,#75cb68,#76d069,#77d569,#78d969,#79dd6a,#79df6a,#7ae16a,#7ae26a,#7ae26a,#7ae36a,#7ae36a,#7be36a,#7ce36b,#7ce36b,#7ce36b)"></div>
<div style="top:2304px;left:3040.6px;width:480px;background:linear-gradient(90deg,#7d7dbe,#7e7ebc,#7f81b8,#7e84b2,#7d88ab,#7c8ea0,#7b9594,#799c87,#74a27b,#70a870,#6cad65,#6bb361,#6db863,#70be65,#72c366,#74c768,#75cc68,#76d069,#77d469,#77d869,#78db69,#79dd6a,#79de6a,#79df6a,#79e06a,#79e16a,#7ae16a,#7ae26a,#7ae26a,#7ae36a,#7ae36a)"></div>
<div style="top:2320px;left:3040.6px;width:480px;background:linear-gradient(90deg,#7e82b5,#7e83b3,#7e85b0,#7d87ac,#7d8ba5,#7c909c,#7b9790,#789d85,#74a27a,#70a870,#6dad67,#6bb261,#6db762,#6fbc64,#71c065,#73c467,#74c868,#75cc68,#76d069,#77d369,#77d669,#78d969,#78db69,#79dc6a,#79dd6a,#79de6a,#79df6a,#79e06a,#7ae16a,#7ae26a,#7ae26a)"></div>
<div style="top:2336px;left:3040.6px;width:432px;background:linear-gradient(90deg,#7d88ab,#7d89aa,#7d8aa8,#7d8ba4,#7c8e9f,#7b9397,#7a998c,#779e82,#73a378,#70a86f,#6dac67,#6ab160,#6db662,#6ebb64,#70bf65,#72c366,#73c667,#74c968,#75cc68,#76d069,#76d369,#77d669,#78d869,#78da69,#78db69,#78dc69,#79dd6a,#79df6a)"></div>
<div style="top:2352px;left:3040.6px;width:416px;background:linear-gradient(90deg,#7c8da1,#7c8da1,#7c8ea0,#7c8f9d,#7b9298,#7b9691,#799b87,#76a07e,#72a576,#6fa96e,#6cad66,#6bb160,#6db662,#6ebb64,#70bf65,#72c266,#73c567,#74c768,#74ca68,#75cd68,#76d069,#76d369,#77d569,#77d769,#78d969,#78da69,#78dc69)"></div>
<div style="top:2368px;left:3040.6px;width:400px;background:linear-gradient(90deg,#7c9299,#7c9299,#7b9299,#7b9397,#7b9592,#7a998b,#779e83,#74a27a,#71a672,#6eaa6b,#6cae64,#6bb261,#6db662,#6fbb64,#70bf65,#71c266,#72c467,#73c667,#74c868,#75cb68,#75cd68,#76d069,#76d269,#77d569,#77d769,#78d869)"></div>
<div style="top:2384px;left:3024.6px;width:400px;background:linear-gradient(90deg,#7b9593,#7b9594,#7b9594,#7b9593,#7b9691,#7a998d,#799c86,#76a07e,#72a476,#70a86f,#6dac68,#6baf62,#6bb361,#6db762,#6fbb64,#70bf65,#71c266,#72c467,#73c667,#74c768,#74c968,#75cb68,#75cd68,#76d069,#76d269,#77d569)"></div>
<div style="top:2400px;left:3024.6px;width:352px;background:linear-gradient(90deg,#7b9790,#7b9790,#7b9790,#7a978f,#7a998d,#799b88,#779e82,#74a27a,#71a772,#6eaa6b,#6cad65,#6ab060,#6cb461,#6db863,#6fbc64,#70bf65,#71c266,#72c467,#73c567,#73c768,#74c868,#74ca68,#75cb68)"></div>
<div style="top:2416px;left:3024.6px;width:352px;background:linear-gradient(90deg,#7a988d,#7a988d,#7a988d,#7a998c,#7a9a89,#789d85,#75a07e,#72a576,#6fa96e,#6dac67,#6baf62,#6bb261,#6cb562,#6db863,#6fbc64,#70bf65,#71c266,#72c366,#73c567,#73c667,#74c768,#74c868,#74ca68)"></div>
<div style="top:2432px;left:3040.6px;width:336px;background:linear-gradient(90deg,#7a998c,#7a998b,#7a9a8a,#799b87,#779e82,#74a27a,#71a771,#6eab6a,#6bae64,#6ab160,#6bb361,#6cb662,#6eb963,#6fbc64,#70bf65,#71c166,#72c366,#72c467,#73c567,#73c667,#74c768,#74c868)"></div>
<div style="top:2448px;left:3072.6px;width:304px;background:linear-gradient(90deg,#799b88,#789d85,#76a07f,#73a476,#6fa96d,#6cad66,#6ab060,#6bb261,#6cb461,#6db662,#6eb963,#6fbc64,#70bf65,#71c166,#72c266,#72c467,#73c567,#73c667,#73c667,#74c768)"></div>
<div style="top:2464px;left:3168.6px;width:192px;background:linear-gradient(90deg,#6bb160,#6bb361,#6cb562,#6db762,#6eba63,#6fbc64,#70bf65,#71c166,#72c266,#72c366,#72c467,#73c567,#73c567)"></div>
<div style="top:2480px;left:3184.6px;width:176px;background:linear-gradient(90deg,#6cb461,#6db662,#6db863,#6eba63,#6fbd64,#70bf65,#71c166,#72c266,#72c366,#72c467,#72c467,#73c567)"></div>
<div style="top:2496px;left:3216.6px;width:128px;background:linear-gradient(90deg,#6eb963,#6fbb64,#70bd64,#70c065,#71c166,#72c266,#72c366,#72c366,#72c467)"></div>
</div></div>
<svg xmlns="http://www.w3.org/2000/svg" width="5044" height="2876" viewBox="0 0 5044 2876">
<defs>
<clipPath id="mapclipL"><polygon points="209.6,990.4 210.6,961.5 224.0,951.9 212.0,923.1 212.0,899.0 228.8,894.2 226.4,870.2 221.6,846.2 216.8,817.3 231.2,788.5 257.7,779.8 276.9,777.9 296.2,781.2 313.0,790.9 322.6,787.0 344.2,785.6 353.8,792.3 382.7,790.9 401.9,782.7 430.8,774.0 438.0,757.2 450.0,752.4 469.2,754.8 488.5,746.2 517.3,747.6 536.5,754.8 565.4,740.4 584.6,730.8 608.7,716.3 625.5,701.9 632.7,675.5 651.9,656.2 668.8,637.0 680.8,615.4 700.0,603.4 728.8,596.2 743.3,576.9 755.3,552.9 762.5,528.8 786.5,524.0 796.2,536.1 815.4,550.5 839.4,555.3 863.5,576.9 873.1,601.0 877.9,625.0 892.3,649.0 916.3,687.5 930.8,730.8 950.0,738.0 974.0,721.2 993.3,711.5 1017.3,709.1 1026.9,706.7 1028.8,705.2 1061.3,687.1 1064.9,654.7 1090.1,625.8 1122.6,597.0 1151.4,586.2 1169.4,589.8 1187.5,575.4 1198.3,542.9 1209.1,517.7 1230.7,519.1 1248.7,526.4 1274.0,521.3 1295.6,524.9 1310.0,501.8 1342.5,508.3 1360.5,501.8 1385.7,499.7 1403.7,499.7 1432.6,488.9 1475.8,481.7 1519.1,475.9 1547.9,473.0 1576.8,478.0 1598.4,472.3 1627.3,474.4 1638.1,463.6 1652.5,445.6 1656.1,413.2 1684.9,405.9 1681.7,407.2 1710.6,407.2 1727.4,388.0 1749.0,376.0 1749.0,351.9 1758.7,330.3 1770.7,315.9 1773.1,294.2 1787.5,277.4 1806.7,275.0 1816.3,258.2 1830.8,251.0 1850.0,234.1 1869.2,222.1 1888.5,224.5 1912.5,217.3 1936.5,200.5 1946.2,188.5 1958.2,186.1 1963.0,169.2 1979.8,171.6 1999.0,181.2 2018.3,183.7 2037.5,193.3 2066.3,188.5 2095.2,193.3 2114.4,217.3 2128.8,241.3 2133.7,260.6 2152.9,258.2 2162.5,253.4 2196.2,253.4 2198.6,236.5 2196.2,222.1 2203.4,202.9 2210.6,186.1 2229.8,184.6 2253.8,186.1 2273.1,188.5 2287.5,210.1 2301.9,222.1 2330.8,229.3 2350.0,234.1 2369.2,241.3 2376.4,255.8 2386.1,267.8 2386.1,294.2 2383.7,311.1 2364.4,315.9 2345.2,325.5 2340.4,332.7 2347.6,344.7 2345.2,356.7 2330.8,368.8 2321.2,385.6 2326.0,414.4 2311.5,438.5 2299.5,457.7 2294.7,486.5 2282.7,501.0 2273.1,508.2 2258.7,515.4 2244.2,520.2 2234.6,525.0 2225.0,534.6 2201.0,544.2 2196.2,553.8 2176.9,552.9 2157.7,561.1 2148.1,580.3 2140.9,592.3 2133.7,601.9 2119.2,613.9 2100.0,630.8 2090.4,650.0 2076.0,652.4 2061.5,647.6 2047.1,635.6 2032.7,640.4 2030.3,657.2 2013.5,659.6 2003.8,671.6 2008.7,688.5 2018.3,698.1 2008.7,702.9 1989.4,698.1 1979.8,714.9 1965.4,719.7 1951.0,710.1 1946.2,695.7 1931.7,693.3 1917.3,688.5 1907.7,678.8 1905.3,669.2 1893.3,666.8 1878.8,678.8 1864.4,676.4 1850.0,674.0 1835.6,683.7 1811.5,698.1 1792.3,710.1 1777.9,724.5 1763.5,731.7 1744.2,746.2 1734.6,758.2 1715.4,767.8 1710.6,779.8 1681.7,777.4 1664.9,779.8 1660.1,791.8 1645.7,799.0 1624.0,803.8 1600.0,811.1 1591.2,809.7 1584.0,813.3 1598.4,831.3 1605.6,842.1 1598.4,860.2 1576.8,874.6 1547.9,885.4 1537.1,892.6 1540.7,928.7 1526.3,943.1 1511.9,953.9 1508.3,979.1 1515.5,993.5 1504.7,1029.6 1475.8,1026.0 1461.4,1015.2 1432.6,1000.8 1411.0,986.3 1392.9,968.3 1389.3,946.7 1378.5,946.7 1374.9,964.7 1353.3,982.7 1338.9,986.3 1317.2,1008.0 1288.4,1015.2 1274.0,1018.8 1252.3,1011.6 1245.1,1044.0 1216.3,1065.6 1209.1,1080.1 1223.5,1101.7 1205.5,1116.1 1180.2,1105.3 1165.8,1108.9 1173.0,1123.3 1169.4,1152.2 1183.9,1166.6 1191.1,1188.2 1188.5,1195.1 1199.5,1203.3 1188.5,1217.0 1188.5,1230.8 1199.5,1236.3 1207.7,1258.2 1213.2,1272.0 1229.7,1285.7 1235.2,1307.7 1257.1,1302.2 1273.6,1318.7 1287.4,1329.7 1292.9,1351.6 1287.4,1365.4 1298.4,1376.4 1273.6,1379.1 1262.6,1384.6 1257.1,1395.6 1240.7,1403.8 1224.2,1406.6 1210.4,1409.3 1213.2,1434.1 1213.2,1467.0 1229.7,1478.0 1237.9,1494.5 1232.4,1516.5 1246.2,1544.0 1237.9,1576.9 1246.2,1593.4 1251.6,1604.4 1237.9,1615.4 1246.2,1637.4 1259.9,1648.4 1262.6,1659.3 1276.4,1664.8 1287.4,1686.8 1281.9,1714.3 1262.6,1717.0 1229.7,1708.8 1218.7,1714.3 1207.7,1725.3 1199.5,1730.8 1174.7,1736.3 1136.3,1736.3 1130.8,1752.7 1108.8,1755.5 1095.1,1763.7 1084.1,1774.7 1081.3,1800.0 1071.8,1795.8 1063.4,1784.5 1054.9,1793.0 1043.7,1812.7 1032.4,1821.1 1015.5,1835.2 998.6,1835.2 981.7,1846.5 981.7,1885.9 976.1,1908.5 964.8,1914.1 959.2,1936.6 947.9,1953.5 919.7,1956.3 897.2,1947.9 880.3,1945.1 869.0,1964.8 854.9,1976.1 840.8,1987.3 826.8,2007.0 818.3,2026.8 807.0,2038.0 804.2,2060.6 790.1,2071.8 784.5,2094.4 790.1,2116.9 795.8,2131.0 809.9,2136.6 812.7,2150.7 815.5,2184.5 823.9,2201.4 843.7,2218.3 846.5,2240.8 849.3,2274.6 854.9,2297.2 857.7,2319.7 829.6,2325.4 807.0,2342.3 790.1,2359.2 767.6,2387.3 750.7,2387.3 725.4,2398.6 719.7,2421.1 714.1,2443.7 705.6,2466.2 694.4,2488.7 674.6,2508.5 660.6,2508.5 638.0,2502.8 615.5,2488.7 593.0,2477.5 576.1,2463.4 559.2,2446.5 545.1,2435.2 516.9,2438.0 511.3,2452.1 494.4,2457.7 469.0,2443.7 452.1,2432.4 438.0,2421.1 426.8,2418.3 435.2,2398.6 443.7,2376.1 452.1,2353.5 449.3,2314.1 446.5,2297.2 435.2,2280.3 429.6,2263.4 418.3,2246.5 395.8,2232.4 378.9,2221.1 362.0,2209.9 378.9,2195.8 395.8,2178.9 418.3,2173.2 415.5,2156.3 421.1,2139.4 415.5,2116.9 418.3,2094.4 418.3,2071.8 404.2,2049.3 395.8,2026.8 409.9,2007.0 404.2,1987.3 395.8,1964.8 387.3,1942.3 395.8,1919.7 398.6,1900.0 412.7,1894.4 409.9,1869.0 404.2,1840.8 390.1,1818.3 384.5,1790.1 387.3,1756.3 381.7,1722.5 387.3,1700.0 381.3,1695.1 373.1,1681.3 373.1,1642.9 367.6,1615.4 359.3,1593.4 345.6,1576.9 331.9,1565.9 309.9,1554.9 301.6,1533.0 285.2,1522.0 285.2,1511.0 298.9,1491.8 290.7,1467.0 287.9,1439.6 279.7,1417.6 285.2,1395.6 282.4,1373.6 265.9,1351.6 246.7,1346.2 252.2,1302.2 254.9,1280.2 246.7,1274.7 249.5,1241.8 254.9,1208.8 257.7,1181.3 260.4,1164.8 257.7,1131.9 252.2,1109.9 257.7,1087.9 252.2,1060.4 244.0,1038.5 233.0,1016.5 211.0,1000.0"/></clipPath>
<clipPath id="mapclipR"><polygon points="2834.2,990.4 2835.2,961.5 2848.6,951.9 2836.6,923.1 2836.6,899.0 2853.4,894.2 2851.0,870.2 2846.2,846.2 2841.4,817.3 2855.8,788.5 2882.3,779.8 2901.5,777.9 2920.8,781.2 2937.6,790.9 2947.2,787.0 2968.8,785.6 2978.4,792.3 3007.3,790.9 3026.5,782.7 3055.4,774.0 3062.6,757.2 3074.6,752.4 3093.8,754.8 3113.1,746.2 3141.9,747.6 3161.1,754.8 3190.0,740.4 3209.2,730.8 3233.3,716.3 3250.1,701.9 3257.3,675.5 3276.5,656.2 3293.4,637.0 3305.4,615.4 3324.6,603.4 3353.4,596.2 3367.9,576.9 3379.9,552.9 3387.1,528.8 3411.1,524.0 3420.8,536.1 3440.0,550.5 3464.0,555.3 3488.1,576.9 3497.7,601.0 3502.5,625.0 3516.9,649.0 3540.9,687.5 3555.4,730.8 3574.6,738.0 3598.6,721.2 3617.9,711.5 3641.9,709.1 3651.5,706.7 3653.4,705.2 3685.9,687.1 3689.5,654.7 3714.7,625.8 3747.2,597.0 3776.0,586.2 3794.0,589.8 3812.1,575.4 3822.9,542.9 3833.7,517.7 3855.3,519.1 3873.3,526.4 3898.6,521.3 3920.2,524.9 3934.6,501.8 3967.1,508.3 3985.1,501.8 4010.3,499.7 4028.3,499.7 4057.2,488.9 4100.4,481.7 4143.7,475.9 4172.5,473.0 4201.4,478.0 4223.0,472.3 4251.9,474.4 4262.7,463.6 4277.1,445.6 4280.7,413.2 4309.5,405.9 4306.3,407.2 4335.2,407.2 4352.0,388.0 4373.6,376.0 4373.6,351.9 4383.3,330.3 4395.3,315.9 4397.7,294.2 4412.1,277.4 4431.3,275.0 4440.9,258.2 4455.4,251.0 4474.6,234.1 4493.8,222.1 4513.1,224.5 4537.1,217.3 4561.1,200.5 4570.8,188.5 4582.8,186.1 4587.6,169.2 4604.4,171.6 4623.6,181.2 4642.9,183.7 4662.1,193.3 4690.9,188.5 4719.8,193.3 4739.0,217.3 4753.4,241.3 4758.3,260.6 4777.5,258.2 4787.1,253.4 4820.8,253.4 4823.2,236.5 4820.8,222.1 4828.0,202.9 4835.2,186.1 4854.4,184.6 4878.4,186.1 4897.7,188.5 4912.1,210.1 4926.5,222.1 4955.4,229.3 4974.6,234.1 4993.8,241.3 5001.0,255.8 5010.7,267.8 5010.7,294.2 5008.3,311.1 4989.0,315.9 4969.8,325.5 4965.0,332.7 4972.2,344.7 4969.8,356.7 4955.4,368.8 4945.8,385.6 4950.6,414.4 4936.1,438.5 4924.1,457.7 4919.3,486.5 4907.3,501.0 4897.7,508.2 4883.3,515.4 4868.8,520.2 4859.2,525.0 4849.6,534.6 4825.6,544.2 4820.8,553.8 4801.5,552.9 4782.3,561.1 4772.7,580.3 4765.5,592.3 4758.3,601.9 4743.8,613.9 4724.6,630.8 4715.0,650.0 4700.6,652.4 4686.1,647.6 4671.7,635.6 4657.3,640.4 4654.9,657.2 4638.1,659.6 4628.4,671.6 4633.3,688.5 4642.9,698.1 4633.3,702.9 4614.0,698.1 4604.4,714.9 4590.0,719.7 4575.6,710.1 4570.8,695.7 4556.3,693.3 4541.9,688.5 4532.3,678.8 4529.9,669.2 4517.9,666.8 4503.4,678.8 4489.0,676.4 4474.6,674.0 4460.2,683.7 4436.1,698.1 4416.9,710.1 4402.5,724.5 4388.1,731.7 4368.8,746.2 4359.2,758.2 4340.0,767.8 4335.2,779.8 4306.3,777.4 4289.5,779.8 4284.7,791.8 4270.3,799.0 4248.6,803.8 4224.6,811.1 4215.8,809.7 4208.6,813.3 4223.0,831.3 4230.2,842.1 4223.0,860.2 4201.4,874.6 4172.5,885.4 4161.7,892.6 4165.3,928.7 4150.9,943.1 4136.5,953.9 4132.9,979.1 4140.1,993.5 4129.3,1029.6 4100.4,1026.0 4086.0,1015.2 4057.2,1000.8 4035.6,986.3 4017.5,968.3 4013.9,946.7 4003.1,946.7 3999.5,964.7 3977.9,982.7 3963.5,986.3 3941.8,1008.0 3913.0,1015.2 3898.6,1018.8 3876.9,1011.6 3869.7,1044.0 3840.9,1065.6 3833.7,1080.1 3848.1,1101.7 3830.1,1116.1 3804.8,1105.3 3790.4,1108.9 3797.6,1123.3 3794.0,1152.2 3808.5,1166.6 3815.7,1188.2 3813.1,1195.1 3824.1,1203.3 3813.1,1217.0 3813.1,1230.8 3824.1,1236.3 3832.3,1258.2 3837.8,1272.0 3854.3,1285.7 3859.8,1307.7 3881.7,1302.2 3898.2,1318.7 3912.0,1329.7 3917.5,1351.6 3912.0,1365.4 3923.0,1376.4 3898.2,1379.1 3887.2,1384.6 3881.7,1395.6 3865.3,1403.8 3848.8,1406.6 3835.0,1409.3 3837.8,1434.1 3837.8,1467.0 3854.3,1478.0 3862.5,1494.5 3857.0,1516.5 3870.8,1544.0 3862.5,1576.9 3870.8,1593.4 3876.2,1604.4 3862.5,1615.4 3870.8,1637.4 3884.5,1648.4 3887.2,1659.3 3901.0,1664.8 3912.0,1686.8 3906.5,1714.3 3887.2,1717.0 3854.3,1708.8 3843.3,1714.3 3832.3,1725.3 3824.1,1730.8 3799.3,1736.3 3760.9,1736.3 3755.4,1752.7 3733.4,1755.5 3719.7,1763.7 3708.7,1774.7 3705.9,1800.0 3696.4,1795.8 3688.0,1784.5 3679.5,1793.0 3668.3,1812.7 3657.0,1821.1 3640.1,1835.2 3623.2,1835.2 3606.3,1846.5 3606.3,1885.9 3600.7,1908.5 3589.4,1914.1 3583.8,1936.6 3572.5,1953.5 3544.3,1956.3 3521.8,1947.9 3504.9,1945.1 3493.6,1964.8 3479.5,1976.1 3465.4,1987.3 3451.4,2007.0 3442.9,2026.8 3431.6,2038.0 3428.8,2060.6 3414.7,2071.8 3409.1,2094.4 3414.7,2116.9 3420.4,2131.0 3434.5,2136.6 3437.3,2150.7 3440.1,2184.5 3448.5,2201.4 3468.3,2218.3 3471.1,2240.8 3473.9,2274.6 3479.5,2297.2 3482.3,2319.7 3454.2,2325.4 3431.6,2342.3 3414.7,2359.2 3392.2,2387.3 3375.3,2387.3 3350.0,2398.6 3344.3,2421.1 3338.7,2443.7 3330.2,2466.2 3319.0,2488.7 3299.2,2508.5 3285.2,2508.5 3262.6,2502.8 3240.1,2488.7 3217.6,2477.5 3200.7,2463.4 3183.8,2446.5 3169.7,2435.2 3141.5,2438.0 3135.9,2452.1 3119.0,2457.7 3093.6,2443.7 3076.7,2432.4 3062.6,2421.1 3051.4,2418.3 3059.8,2398.6 3068.3,2376.1 3076.7,2353.5 3073.9,2314.1 3071.1,2297.2 3059.8,2280.3 3054.2,2263.4 3042.9,2246.5 3020.4,2232.4 3003.5,2221.1 2986.6,2209.9 3003.5,2195.8 3020.4,2178.9 3042.9,2173.2 3040.1,2156.3 3045.7,2139.4 3040.1,2116.9 3042.9,2094.4 3042.9,2071.8 3028.8,2049.3 3020.4,2026.8 3034.5,2007.0 3028.8,1987.3 3020.4,1964.8 3011.9,1942.3 3020.4,1919.7 3023.2,1900.0 3037.3,1894.4 3034.5,1869.0 3028.8,1840.8 3014.7,1818.3 3009.1,1790.1 3011.9,1756.3 3006.3,1722.5 3011.9,1700.0 3005.9,1695.1 2997.7,1681.3 2997.7,1642.9 2992.2,1615.4 2983.9,1593.4 2970.2,1576.9 2956.5,1565.9 2934.5,1554.9 2926.2,1533.0 2909.8,1522.0 2909.8,1511.0 2923.5,1491.8 2915.3,1467.0 2912.5,1439.6 2904.3,1417.6 2909.8,1395.6 2907.0,1373.6 2890.5,1351.6 2871.3,1346.2 2876.8,1302.2 2879.5,1280.2 2871.3,1274.7 2874.1,1241.8 2879.5,1208.8 2882.3,1181.3 2885.0,1164.8 2882.3,1131.9 2876.8,1109.9 2882.3,1087.9 2876.8,1060.4 2868.6,1038.5 2857.6,1016.5 2835.6,1000.0"/></clipPath>
<filter id="cmL" x="0" y="0" width="1" height="1" color-interpolation-filters="sRGB"><feGaussianBlur stdDeviation="6"/><feComponentTransfer><feFuncR type="table" tableValues="1.0000 1.0000 1.0000 1.0000 1.0000 1.0000 0.9412 0.7948 0.6337 0.4580 0.2824 0.2855 0.2886 0.2902 0.2902 0.2902 0.2902 0.2902 0.2871 0.2808 0.2745 0.2965 0.3184 0.3404 0.3624 0.3843 0.4039 0.4235 0.4431 0.4627 0.4824 0.4784 0.4745 0.4706 0.4667 0.4627 0.4533 0.4439 0.4345 0.4251 0.4157 0.4220 0.4282 0.4345 0.4408 0.4471 0.4518 0.4565 0.4612 0.4659 0.4706 0.5176 0.5647 0.6118 0.6588 0.7059 0.7647 0.8235 0.8824 0.9412 1.0000 1.0000 1.0000 1.0000 1.0000 1.0000 1.0000 1.0000 1.0000 1.0000 1.0000 1.0000 1.0000 1.0000 1.0000 1.0000 1.0000 1.0000 1.0000 1.0000 1.0000 1.0000 1.0000 1.0000 1.0000 1.0000 1.0000 1.0000 1.0000 1.0000 1.0000 0.9757 0.9514 0.9271 0.9027 0.8784 0.8533 0.8282 0.8031 0.7780 0.7529 0.7467 0.7404 0.7341 0.7278 0.7216 0.7153 0.7090 0.7027 0.6965 0.6902 0.6839 0.6776 0.6714 0.6651 0.6588 0.6525 0.6463 0.6400 0.6337 0.6275 0.6431 0.6588 0.6745 0.6902 0.7059 0.7216 0.7373 0.7529 0.7686 0.7843 0.8039 0.8235 0.8431 0.8627 0.8824 0.9020 0.9216 0.9412 0.9608 0.9804"/><feFuncG type="table" tableValues="1.0000 1.0000 1.0000 1.0000 1.0000 1.0000 1.0000 1.0000 1.0000 1.0000 1.0000 0.9325 0.8651 0.8031 0.7467 0.6902 0.6149 0.5396 0.4565 0.3655 0.2745 0.2965 0.3184 0.3404 0.3624 0.3843 0.4039 0.4235 0.4431 0.4627 0.4824 0.5067 0.5310 0.5553 0.5796 0.6039 0.6196 0.6353 0.6510 0.6667 0.6824 0.7027 0.7231 0.7435 0.7639 0.7843 0.8055 0.8267 0.8478 0.8690 0.8902 0.8988 0.9075 0.9161 0.9247 0.9333 0.9404 0.9475 0.9545 0.9616 0.9686 0.9506 0.9325 0.9145 0.8965 0.8784 0.8659 0.8533 0.8408 0.8282 0.8157 0.8016 0.7875 0.7733 0.7592 0.7451 0.7294 0.7137 0.6980 0.6824 0.6667 0.6290 0.5914 0.5537 0.5161 0.4784 0.4408 0.4031 0.3655 0.3278 0.2902 0.2980 0.3059 0.3137 0.3216 0.3294 0.3388 0.3482 0.3576 0.3671 0.3765 0.3733 0.3702 0.3671 0.3639 0.3608 0.3576 0.3545 0.3514 0.3482 0.3451 0.3404 0.3357 0.3310 0.3263 0.3216 0.3169 0.3122 0.3075 0.3027 0.2980 0.3216 0.3451 0.3686 0.3922 0.4157 0.4392 0.4627 0.4863 0.5098 0.5333 0.5647 0.5961 0.6275 0.6588 0.6902 0.7216 0.7529 0.7843 0.8157 0.8471"/><feFuncB type="table" tableValues="1.0000 1.0000 1.0000 1.0000 1.0000 1.0000 1.0000 1.0000 1.0000 1.0000 1.0000 1.0000 1.0000 1.0000 1.0000 1.0000 1.0000 1.0000 1.0000 1.0000 1.0000 0.9757 0.9514 0.9271 0.9027 0.8784 0.8494 0.8204 0.7914 0.7624 0.7333 0.6965 0.6596 0.6227 0.5859 0.5490 0.5145 0.4800 0.4455 0.4110 0.3765 0.3827 0.3890 0.3953 0.4016 0.4078 0.4094 0.4110 0.4125 0.4141 0.4157 0.4267 0.4376 0.4486 0.4596 0.4706 0.4722 0.4737 0.4753 0.4769 0.4784 0.4706 0.4627 0.4549 0.4471 0.4392 0.4329 0.4267 0.4204 0.4141 0.4078 0.3953 0.3827 0.3702 0.3576 0.3451 0.3388 0.3325 0.3263 0.3200 0.3137 0.3137 0.3137 0.3137 0.3137 0.3137 0.3090 0.3043 0.2996 0.2949 0.2902 0.2949 0.2996 0.3043 0.3090 0.3137 0.3122 0.3106 0.3090 0.3075 0.3059 0.3192 0.3325 0.3459 0.3592 0.3725 0.3859 0.3992 0.4125 0.4259 0.4392 0.4596 0.4800 0.5004 0.5208 0.5412 0.5616 0.5820 0.6024 0.6227 0.6431 0.6604 0.6776 0.6949 0.7122 0.7294 0.7467 0.7639 0.7812 0.7984 0.8157 0.8341 0.8525 0.8710 0.8894 0.9078 0.9263 0.9447 0.9631 0.9816 1.0000"/></feComponentTransfer></filter>
<linearGradient id="cbL" x1="0" x2="1" y1="0" y2="0"><stop offset="0.0000" stop-color="#ffffff"/><stop offset="0.0357" stop-color="#ffffff"/><stop offset="0.0429" stop-color="#f0ffff"/><stop offset="0.0536" stop-color="#b8ffff"/><stop offset="0.0714" stop-color="#48ffff"/><stop offset="0.0893" stop-color="#4ad4ff"/><stop offset="0.1071" stop-color="#4ab0ff"/><stop offset="0.1250" stop-color="#4a80ff"/><stop offset="0.1429" stop-color="#4646ff"/><stop offset="0.1786" stop-color="#6262e0"/><stop offset="0.2143" stop-color="#7b7bbb"/><stop offset="0.2500" stop-color="#769a8c"/><stop offset="0.2857" stop-color="#6aae60"/><stop offset="0.3214" stop-color="#72c868"/><stop offset="0.3571" stop-color="#78e36a"/><stop offset="0.3929" stop-color="#b4ee78"/><stop offset="0.4286" stop-color="#fff77a"/><stop offset="0.4643" stop-color="#ffe070"/><stop offset="0.5000" stop-color="#ffd068"/><stop offset="0.5357" stop-color="#ffbe58"/><stop offset="0.5714" stop-color="#ffaa50"/><stop offset="0.6071" stop-color="#ff7a50"/><stop offset="0.6429" stop-color="#ff4a4a"/><stop offset="0.6786" stop-color="#e05450"/><stop offset="0.7143" stop-color="#c0604e"/><stop offset="0.7857" stop-color="#b05870"/><stop offset="0.8571" stop-color="#a04ca4"/><stop offset="0.9286" stop-color="#c888d0"/><stop offset="1.0000" stop-color="#fad8ff"/></linearGradient>
<filter id="cmR" x="0" y="0" width="1" height="1" color-interpolation-filters="sRGB"><feGaussianBlur stdDeviation="6"/><feComponentTransfer><feFuncR type="table" tableValues="1.0000 1.0000 1.0000 1.0000 1.0000 1.0000 1.0000 1.0000 1.0000 1.0000 1.0000 1.0000 1.0000 1.0000 1.0000 1.0000 0.9601 0.8936 0.8270 0.7605 0.6940 0.6275 0.5782 0.5289 0.4796 0.4303 0.3810 0.3317 0.2824 0.2835 0.2846 0.2857 0.2868 0.2880 0.2891 0.2902 0.2880 0.2857 0.2835 0.2812 0.2790 0.2768 0.2745 0.2936 0.3126 0.3317 0.3507 0.3697 0.3888 0.4078 0.4207 0.4336 0.4465 0.4594 0.4723 0.4852 0.4980 0.4952 0.4924 0.4896 0.4868 0.4840 0.4812 0.4784 0.4695 0.4605 0.4515 0.4426 0.4336 0.4246 0.4157 0.4213 0.4269 0.4325 0.4381 0.4437 0.4493 0.4549 0.4583 0.4616 0.4650 0.4683 0.4717 0.4751 0.4784 0.5176 0.5569 0.5961 0.6353 0.6745 0.7137 0.7529 0.7882 0.8235 0.8588 0.8941 0.9294 0.9647 1.0000 0.9989 0.9978 0.9966 0.9955 0.9944 0.9933 0.9922 0.9922 0.9922 0.9922 0.9922 0.9922 0.9922 0.9922 0.9922 0.9922 0.9922 0.9922 0.9922 0.9922 0.9922 0.9933 0.9944 0.9955 0.9966 0.9978 0.9989 1.0000 1.0000 1.0000 1.0000 1.0000 1.0000 1.0000 1.0000 1.0000 1.0000 1.0000 1.0000 1.0000 1.0000 1.0000"/><feFuncG type="table" tableValues="1.0000 1.0000 1.0000 1.0000 1.0000 1.0000 1.0000 1.0000 1.0000 1.0000 1.0000 1.0000 1.0000 1.0000 1.0000 1.0000 1.0000 1.0000 1.0000 1.0000 1.0000 1.0000 1.0000 1.0000 1.0000 1.0000 1.0000 1.0000 1.0000 0.9445 0.8891 0.8336 0.7782 0.7227 0.6672 0.6118 0.5636 0.5154 0.4672 0.4190 0.3709 0.3227 0.2745 0.2936 0.3126 0.3317 0.3507 0.3697 0.3888 0.4078 0.4207 0.4336 0.4465 0.4594 0.4723 0.4852 0.4980 0.5132 0.5283 0.5434 0.5585 0.5737 0.5888 0.6039 0.6162 0.6286 0.6409 0.6532 0.6655 0.6779 0.6902 0.7036 0.7171 0.7305 0.7440 0.7574 0.7709 0.7843 0.7994 0.8146 0.8297 0.8448 0.8599 0.8751 0.8902 0.8975 0.9048 0.9120 0.9193 0.9266 0.9339 0.9412 0.9468 0.9524 0.9580 0.9636 0.9692 0.9748 0.9804 0.9669 0.9535 0.9401 0.9266 0.9132 0.8997 0.8863 0.8784 0.8706 0.8627 0.8549 0.8471 0.8392 0.8314 0.8213 0.8112 0.8011 0.7910 0.7810 0.7709 0.7608 0.7462 0.7317 0.7171 0.7025 0.6880 0.6734 0.6588 0.6331 0.6073 0.5815 0.5557 0.5300 0.5042 0.4784 0.4515 0.4246 0.3978 0.3709 0.3440 0.3171 0.2902"/><feFuncB type="table" tableValues="1.0000 1.0000 1.0000 1.0000 1.0000 1.0000 1.0000 1.0000 1.0000 1.0000 1.0000 1.0000 1.0000 1.0000 1.0000 1.0000 1.0000 1.0000 1.0000 1.0000 1.0000 1.0000 1.0000 1.0000 1.0000 1.0000 1.0000 1.0000 1.0000 1.0000 1.0000 1.0000 1.0000 1.0000 1.0000 1.0000 1.0000 1.0000 1.0000 1.0000 1.0000 1.0000 1.0000 0.9782 0.9563 0.9345 0.9126 0.8908 0.8689 0.8471 0.8308 0.8146 0.7983 0.7821 0.7658 0.7496 0.7333 0.7059 0.6784 0.6510 0.6235 0.5961 0.5686 0.5412 0.5176 0.4941 0.4706 0.4471 0.4235 0.4000 0.3765 0.3810 0.3854 0.3899 0.3944 0.3989 0.4034 0.4078 0.4090 0.4101 0.4112 0.4123 0.4134 0.4146 0.4157 0.4258 0.4359 0.4459 0.4560 0.4661 0.4762 0.4863 0.4852 0.4840 0.4829 0.4818 0.4807 0.4796 0.4784 0.4751 0.4717 0.4683 0.4650 0.4616 0.4583 0.4549 0.4493 0.4437 0.4381 0.4325 0.4269 0.4213 0.4157 0.4078 0.4000 0.3922 0.3843 0.3765 0.3686 0.3608 0.3541 0.3473 0.3406 0.3339 0.3272 0.3204 0.3137 0.3137 0.3137 0.3137 0.3137 0.3137 0.3137 0.3137 0.3104 0.3070 0.3036 0.3003 0.2969 0.2936 0.2902"/></feComponentTransfer></filter>
<linearGradient id="cbR" x1="0" x2="1" y1="0" y2="0"><stop offset="0.0000" stop-color="#ffffff"/><stop offset="0.1100" stop-color="#ffffff"/><stop offset="0.1500" stop-color="#a0ffff"/><stop offset="0.2000" stop-color="#48ffff"/><stop offset="0.2500" stop-color="#4a9cff"/><stop offset="0.3000" stop-color="#4646ff"/><stop offset="0.3500" stop-color="#6868d8"/><stop offset="0.4000" stop-color="#7f7fbb"/><stop offset="0.4500" stop-color="#7a9a8a"/><stop offset="0.5000" stop-color="#6ab060"/><stop offset="0.5500" stop-color="#74c868"/><stop offset="0.6000" stop-color="#7ae36a"/><stop offset="0.6500" stop-color="#c0f07c"/><stop offset="0.7000" stop-color="#fffa7a"/><stop offset="0.7500" stop-color="#fde274"/><stop offset="0.8000" stop-color="#fdd46a"/><stop offset="0.8500" stop-color="#fdc25c"/><stop offset="0.9000" stop-color="#ffa850"/><stop offset="0.9500" stop-color="#ff7a50"/><stop offset="1.0000" stop-color="#ff4a4a"/></linearGradient>
</defs>
<g clip-path="url(#mapclipL)">
<radialGradient id="dL0"><stop offset="0" stop-color="#6cb362"/><stop offset="0.35" stop-color="#6cb362" stop-opacity="0.85"/><stop offset="1" stop-color="#6cb362" stop-opacity="0"/></radialGradient><circle cx="810.0" cy="1039" r="20" fill="url(#dL0)"/>
<radialGradient id="dL1"><stop offset="0" stop-color="#6bb161"/><stop offset="0.35" stop-color="#6bb161" stop-opacity="0.85"/><stop offset="1" stop-color="#6bb161" stop-opacity="0"/></radialGradient><circle cx="415.0" cy="1480" r="26" fill="url(#dL1)"/>
<radialGradient id="dL2"><stop offset="0" stop-color="#6fbe65"/><stop offset="0.35" stop-color="#6fbe65" stop-opacity="0.85"/><stop offset="1" stop-color="#6fbe65" stop-opacity="0"/></radialGradient><circle cx="783.0" cy="1708" r="28" fill="url(#dL2)"/>
<radialGradient id="dL3"><stop offset="0" stop-color="#fff077"/><stop offset="0.35" stop-color="#fff077" stop-opacity="0.85"/><stop offset="1" stop-color="#fff077" stop-opacity="0"/></radialGradient><circle cx="561.0" cy="1821" r="24" fill="url(#dL3)"/>
<radialGradient id="dL4"><stop offset="0" stop-color="#6aae60"/><stop offset="0.35" stop-color="#6aae60" stop-opacity="0.85"/><stop offset="1" stop-color="#6aae60" stop-opacity="0"/></radialGradient><circle cx="1352.0" cy="876" r="24" fill="url(#dL4)"/>
<radialGradient id="dL5"><stop offset="0" stop-color="#7676c2"/><stop offset="0.35" stop-color="#7676c2" stop-opacity="0.85"/><stop offset="1" stop-color="#7676c2" stop-opacity="0"/></radialGradient><circle cx="814.0" cy="1279" r="12" fill="url(#dL5)"/>
<radialGradient id="dL6"><stop offset="0" stop-color="#6e6ece"/><stop offset="0.35" stop-color="#6e6ece" stop-opacity="0.85"/><stop offset="1" stop-color="#6e6ece" stop-opacity="0"/></radialGradient><circle cx="728.0" cy="1513" r="14" fill="url(#dL6)"/>
<radialGradient id="dL7"><stop offset="0" stop-color="#7474c6"/><stop offset="0.35" stop-color="#7474c6" stop-opacity="0.85"/><stop offset="1" stop-color="#7474c6" stop-opacity="0"/></radialGradient><circle cx="890.0" cy="1527" r="16" fill="url(#dL7)"/>
<radialGradient id="dL8"><stop offset="0" stop-color="#7676c2"/><stop offset="0.35" stop-color="#7676c2" stop-opacity="0.85"/><stop offset="1" stop-color="#7676c2" stop-opacity="0"/></radialGradient><circle cx="1012.0" cy="1429" r="18" fill="url(#dL8)"/>
<radialGradient id="dL9"><stop offset="0" stop-color="#6e6ece"/><stop offset="0.35" stop-color="#6e6ece" stop-opacity="0.85"/><stop offset="1" stop-color="#6e6ece" stop-opacity="0"/></radialGradient><circle cx="1098.0" cy="1279" r="16" fill="url(#dL9)"/>
<radialGradient id="dL10"><stop offset="0" stop-color="#7676c2"/><stop offset="0.35" stop-color="#7676c2" stop-opacity="0.85"/><stop offset="1" stop-color="#7676c2" stop-opacity="0"/></radialGradient><circle cx="903.0" cy="1080" r="14" fill="url(#dL10)"/>
<radialGradient id="dL11"><stop offset="0" stop-color="#ffffff"/><stop offset="0.35" stop-color="#ffffff" stop-opacity="0.85"/><stop offset="1" stop-color="#ffffff" stop-opacity="0"/></radialGradient><circle cx="833.0" cy="1125" r="16" fill="url(#dL11)"/>
<radialGradient id="dL12"><stop offset="0" stop-color="#ffffff"/><stop offset="0.35" stop-color="#ffffff" stop-opacity="0.85"/><stop offset="1" stop-color="#ffffff" stop-opacity="0"/></radialGradient><circle cx="774.0" cy="1275" r="12" fill="url(#dL12)"/>
<radialGradient id="dL13"><stop offset="0" stop-color="#f0ffff"/><stop offset="0.35" stop-color="#f0ffff" stop-opacity="0.85"/><stop offset="1" stop-color="#f0ffff" stop-opacity="0"/></radialGradient><circle cx="823.0" cy="1302" r="10" fill="url(#dL13)"/>
<radialGradient id="dL14"><stop offset="0" stop-color="#4646ff"/><stop offset="0.35" stop-color="#4646ff" stop-opacity="0.85"/><stop offset="1" stop-color="#4646ff" stop-opacity="0"/></radialGradient><circle cx="456.0" cy="1617" r="12" fill="url(#dL14)"/>
</g>
<line x1="292.7" y1="2511.0" x2="292.7" y2="166.2" stroke="#7f7f7f" stroke-opacity="0.5" stroke-width="1.9" stroke-dasharray="6 2.8"/>
<line x1="731.5" y1="2511.0" x2="731.5" y2="166.2" stroke="#7f7f7f" stroke-opacity="0.5" stroke-width="1.9" stroke-dasharray="6 2.8"/>
<line x1="1170.3" y1="2511.0" x2="1170.3" y2="166.2" stroke="#7f7f7f" stroke-opacity="0.5" stroke-width="1.9" stroke-dasharray="6 2.8"/>
<line x1="1609.1" y1="2511.0" x2="1609.1" y2="166.2" stroke="#7f7f7f" stroke-opacity="0.5" stroke-width="1.9" stroke-dasharray="6 2.8"/>
<line x1="2047.9" y1="2511.0" x2="2047.9" y2="166.2" stroke="#7f7f7f" stroke-opacity="0.5" stroke-width="1.9" stroke-dasharray="6 2.8"/>
<line x1="207.3" y1="220.9" x2="2390.5" y2="220.9" stroke="#7f7f7f" stroke-opacity="0.5" stroke-width="1.9" stroke-dasharray="6 2.8"/>
<line x1="207.3" y1="659.7" x2="2390.5" y2="659.7" stroke="#7f7f7f" stroke-opacity="0.5" stroke-width="1.9" stroke-dasharray="6 2.8"/>
<line x1="207.3" y1="1098.5" x2="2390.5" y2="1098.5" stroke="#7f7f7f" stroke-opacity="0.5" stroke-width="1.9" stroke-dasharray="6 2.8"/>
<line x1="207.3" y1="1537.3" x2="2390.5" y2="1537.3" stroke="#7f7f7f" stroke-opacity="0.5" stroke-width="1.9" stroke-dasharray="6 2.8"/>
<line x1="207.3" y1="1976.1" x2="2390.5" y2="1976.1" stroke="#7f7f7f" stroke-opacity="0.5" stroke-width="1.9" stroke-dasharray="6 2.8"/>
<line x1="207.3" y1="2414.9" x2="2390.5" y2="2414.9" stroke="#7f7f7f" stroke-opacity="0.5" stroke-width="1.9" stroke-dasharray="6 2.8"/>
<polyline points="430.8,774.0 440.4,788.5 445.2,817.3 469.2,836.5 483.7,855.8 490.9,884.6 488.5,908.7 502.9,951.9 526.9,973.6 551.0,1002.4 567.8,1007.2 579.8,1021.6 613.5,1036.1 632.7,1034.6 661.5,1038.5 680.8,1043.3 709.6,1064.9 728.8,1068.3 757.7,1062.5 786.5,1055.3 810.6,1058.7 834.6,1049.5 873.1,1045.7 916.3,1047.1 900.0,1046.7 922.0,1052.2 922.0,1060.4 954.9,1074.2 982.4,1082.4 1009.9,1104.4 1026.4,1098.9 1042.9,1109.9 1064.8,1126.4 1070.3,1145.6" fill="none" stroke="#000" stroke-width="4.5" stroke-linejoin="round" stroke-linecap="round"/>
<polyline points="1070.3,1145.6 1075.8,1131.9 1084.1,1112.6 1106.0,1090.7 1130.8,1101.6 1152.7,1112.6 1163.7,1109.9" fill="none" stroke="#000" stroke-width="4.5" stroke-linejoin="round" stroke-linecap="round"/>
<polyline points="1028.8,705.2 1021.6,734.0 1050.5,777.3 1093.7,813.3 1100.9,842.1 1093.7,892.6 1104.5,898.4 1079.3,899.8 1068.5,928.7 1021.6,935.9 1014.4,950.3 1028.8,986.3 1046.9,1044.0 1064.9,1101.7 1068.5,1145.0" fill="none" stroke="#000" stroke-width="4.5" stroke-linejoin="round" stroke-linecap="round"/>
<polyline points="1248.7,526.4 1237.9,561.0 1219.9,611.4 1216.3,654.7 1223.5,690.7 1245.1,712.4 1252.3,741.2 1266.8,755.6 1288.4,764.3 1266.8,761.4 1245.1,766.4 1241.5,784.5 1248.7,820.5 1255.9,867.4 1277.6,874.6 1302.8,899.8 1324.4,914.2 1338.9,935.9 1360.5,939.5 1382.1,943.1 1389.3,946.7" fill="none" stroke="#000" stroke-width="4.5" stroke-linejoin="round" stroke-linecap="round"/>
<polyline points="1385.7,499.7 1411.0,539.3 1436.2,542.9 1447.0,575.4 1475.8,611.4 1504.7,633.1 1515.5,640.3 1519.1,679.9 1555.2,679.9 1569.6,705.2 1580.4,726.8 1587.6,762.8 1591.2,809.7" fill="none" stroke="#000" stroke-width="4.5" stroke-linejoin="round" stroke-linecap="round"/>
<polyline points="382.6,1695.8 401.5,1678.6 420.4,1687.2 435.9,1682.1 459.9,1671.8 484.0,1671.8 487.4,1678.6 504.6,1680.4 532.1,1687.2 549.2,1692.4 571.6,1695.8 573.3,1709.5 576.7,1725.0 597.3,1730.2 607.6,1737.0 621.4,1733.6 624.8,1737.0 638.6,1728.4 655.7,1723.3 693.5,1704.4 710.7,1701.0" fill="none" stroke="#000" stroke-width="4.5" stroke-linejoin="round" stroke-linecap="round"/>
<polyline points="796.6,1594.5 776.0,1613.4 758.8,1637.4 727.9,1661.5 717.6,1678.6 710.7,1701.0" fill="none" stroke="#000" stroke-width="4.5" stroke-linejoin="round" stroke-linecap="round"/>
<polyline points="532.1,1687.2 528.6,1668.3 521.8,1663.2 542.4,1659.7 563.0,1652.9 578.4,1642.6 569.9,1620.2 559.5,1596.2 552.7,1582.4 557.8,1570.4 569.9,1565.3 580.2,1551.5 587.0,1532.6 597.3,1541.2 604.2,1555.0 614.5,1551.5 635.1,1553.2 655.7,1548.1 679.8,1541.2 710.7,1544.7 731.3,1551.5 751.9,1563.6 767.4,1568.7 767.4,1573.9 782.8,1584.2 796.6,1594.5 803.5,1587.6 817.2,1592.8 820.6,1606.5 837.8,1616.8 858.4,1628.8 872.2,1635.7 885.9,1640.8 906.5,1640.8 916.8,1646.0 934.0,1644.3 954.6,1644.3 971.8,1651.2 978.6,1659.7 999.3,1668.3 1015.4,1651.1 1029.1,1640.1 1031.9,1604.4 1045.6,1593.4 1045.6,1574.2 1064.8,1554.9 1092.3,1557.7 1119.8,1565.9 1147.3,1576.9 1169.2,1582.4 1180.2,1571.4 1202.2,1563.2 1213.2,1574.2 1218.7,1579.7 1235.2,1579.7" fill="none" stroke="#000" stroke-width="4.5" stroke-linejoin="round" stroke-linecap="round"/>
<polyline points="710.7,1701.0 722.7,1713.0 714.1,1719.9 715.9,1733.6 727.9,1742.2 738.2,1747.3 748.5,1764.5 758.8,1778.3 769.1,1781.7 770.8,1802.3 763.9,1819.5 765.7,1840.1 777.7,1853.8 779.4,1877.9 774.3,1898.5 772.5,1919.1" fill="none" stroke="#000" stroke-width="4.5" stroke-linejoin="round" stroke-linecap="round"/>
<polyline points="621.4,1737.0 590.5,1747.3 583.6,1752.5 583.6,1767.9 588.7,1781.7 585.3,1795.4 583.6,1812.6 590.5,1816.0 604.2,1814.3 611.1,1807.5 611.1,1822.9 624.8,1840.1 645.4,1855.5 659.2,1859.0 671.2,1864.1 674.6,1874.4 690.1,1884.7 700.4,1901.9" fill="none" stroke="#000" stroke-width="4.5" stroke-linejoin="round" stroke-linecap="round"/>
<polyline points="411.8,1891.6 432.4,1889.9 439.3,1901.9 446.2,1913.9 470.2,1936.3 480.5,1938.0 494.3,1934.6 504.6,1931.1 521.8,1934.6 549.2,1931.1 573.3,1922.5 587.0,1932.8 604.2,1946.6 617.9,1939.7 642.0,1932.8 666.0,1919.1 676.3,1912.2 693.5,1910.5 702.1,1905.4 727.9,1908.8 772.5,1919.1 796.6,1927.7 824.1,1939.7 837.8,1953.5 844.7,1967.2 851.5,1979.2" fill="none" stroke="#000" stroke-width="4.5" stroke-linejoin="round" stroke-linecap="round"/>
<polygon points="209.6,990.4 210.6,961.5 224.0,951.9 212.0,923.1 212.0,899.0 228.8,894.2 226.4,870.2 221.6,846.2 216.8,817.3 231.2,788.5 257.7,779.8 276.9,777.9 296.2,781.2 313.0,790.9 322.6,787.0 344.2,785.6 353.8,792.3 382.7,790.9 401.9,782.7 430.8,774.0 438.0,757.2 450.0,752.4 469.2,754.8 488.5,746.2 517.3,747.6 536.5,754.8 565.4,740.4 584.6,730.8 608.7,716.3 625.5,701.9 632.7,675.5 651.9,656.2 668.8,637.0 680.8,615.4 700.0,603.4 728.8,596.2 743.3,576.9 755.3,552.9 762.5,528.8 786.5,524.0 796.2,536.1 815.4,550.5 839.4,555.3 863.5,576.9 873.1,601.0 877.9,625.0 892.3,649.0 916.3,687.5 930.8,730.8 950.0,738.0 974.0,721.2 993.3,711.5 1017.3,709.1 1026.9,706.7 1028.8,705.2 1061.3,687.1 1064.9,654.7 1090.1,625.8 1122.6,597.0 1151.4,586.2 1169.4,589.8 1187.5,575.4 1198.3,542.9 1209.1,517.7 1230.7,519.1 1248.7,526.4 1274.0,521.3 1295.6,524.9 1310.0,501.8 1342.5,508.3 1360.5,501.8 1385.7,499.7 1403.7,499.7 1432.6,488.9 1475.8,481.7 1519.1,475.9 1547.9,473.0 1576.8,478.0 1598.4,472.3 1627.3,474.4 1638.1,463.6 1652.5,445.6 1656.1,413.2 1684.9,405.9 1681.7,407.2 1710.6,407.2 1727.4,388.0 1749.0,376.0 1749.0,351.9 1758.7,330.3 1770.7,315.9 1773.1,294.2 1787.5,277.4 1806.7,275.0 1816.3,258.2 1830.8,251.0 1850.0,234.1 1869.2,222.1 1888.5,224.5 1912.5,217.3 1936.5,200.5 1946.2,188.5 1958.2,186.1 1963.0,169.2 1979.8,171.6 1999.0,181.2 2018.3,183.7 2037.5,193.3 2066.3,188.5 2095.2,193.3 2114.4,217.3 2128.8,241.3 2133.7,260.6 2152.9,258.2 2162.5,253.4 2196.2,253.4 2198.6,236.5 2196.2,222.1 2203.4,202.9 2210.6,186.1 2229.8,184.6 2253.8,186.1 2273.1,188.5 2287.5,210.1 2301.9,222.1 2330.8,229.3 2350.0,234.1 2369.2,241.3 2376.4,255.8 2386.1,267.8 2386.1,294.2 2383.7,311.1 2364.4,315.9 2345.2,325.5 2340.4,332.7 2347.6,344.7 2345.2,356.7 2330.8,368.8 2321.2,385.6 2326.0,414.4 2311.5,438.5 2299.5,457.7 2294.7,486.5 2282.7,501.0 2273.1,508.2 2258.7,515.4 2244.2,520.2 2234.6,525.0 2225.0,534.6 2201.0,544.2 2196.2,553.8 2176.9,552.9 2157.7,561.1 2148.1,580.3 2140.9,592.3 2133.7,601.9 2119.2,613.9 2100.0,630.8 2090.4,650.0 2076.0,652.4 2061.5,647.6 2047.1,635.6 2032.7,640.4 2030.3,657.2 2013.5,659.6 2003.8,671.6 2008.7,688.5 2018.3,698.1 2008.7,702.9 1989.4,698.1 1979.8,714.9 1965.4,719.7 1951.0,710.1 1946.2,695.7 1931.7,693.3 1917.3,688.5 1907.7,678.8 1905.3,669.2 1893.3,666.8 1878.8,678.8 1864.4,676.4 1850.0,674.0 1835.6,683.7 1811.5,698.1 1792.3,710.1 1777.9,724.5 1763.5,731.7 1744.2,746.2 1734.6,758.2 1715.4,767.8 1710.6,779.8 1681.7,777.4 1664.9,779.8 1660.1,791.8 1645.7,799.0 1624.0,803.8 1600.0,811.1 1591.2,809.7 1584.0,813.3 1598.4,831.3 1605.6,842.1 1598.4,860.2 1576.8,874.6 1547.9,885.4 1537.1,892.6 1540.7,928.7 1526.3,943.1 1511.9,953.9 1508.3,979.1 1515.5,993.5 1504.7,1029.6 1475.8,1026.0 1461.4,1015.2 1432.6,1000.8 1411.0,986.3 1392.9,968.3 1389.3,946.7 1378.5,946.7 1374.9,964.7 1353.3,982.7 1338.9,986.3 1317.2,1008.0 1288.4,1015.2 1274.0,1018.8 1252.3,1011.6 1245.1,1044.0 1216.3,1065.6 1209.1,1080.1 1223.5,1101.7 1205.5,1116.1 1180.2,1105.3 1165.8,1108.9 1173.0,1123.3 1169.4,1152.2 1183.9,1166.6 1191.1,1188.2 1188.5,1195.1 1199.5,1203.3 1188.5,1217.0 1188.5,1230.8 1199.5,1236.3 1207.7,1258.2 1213.2,1272.0 1229.7,1285.7 1235.2,1307.7 1257.1,1302.2 1273.6,1318.7 1287.4,1329.7 1292.9,1351.6 1287.4,1365.4 1298.4,1376.4 1273.6,1379.1 1262.6,1384.6 1257.1,1395.6 1240.7,1403.8 1224.2,1406.6 1210.4,1409.3 1213.2,1434.1 1213.2,1467.0 1229.7,1478.0 1237.9,1494.5 1232.4,1516.5 1246.2,1544.0 1237.9,1576.9 1246.2,1593.4 1251.6,1604.4 1237.9,1615.4 1246.2,1637.4 1259.9,1648.4 1262.6,1659.3 1276.4,1664.8 1287.4,1686.8 1281.9,1714.3 1262.6,1717.0 1229.7,1708.8 1218.7,1714.3 1207.7,1725.3 1199.5,1730.8 1174.7,1736.3 1136.3,1736.3 1130.8,1752.7 1108.8,1755.5 1095.1,1763.7 1084.1,1774.7 1081.3,1800.0 1071.8,1795.8 1063.4,1784.5 1054.9,1793.0 1043.7,1812.7 1032.4,1821.1 1015.5,1835.2 998.6,1835.2 981.7,1846.5 981.7,1885.9 976.1,1908.5 964.8,1914.1 959.2,1936.6 947.9,1953.5 919.7,1956.3 897.2,1947.9 880.3,1945.1 869.0,1964.8 854.9,1976.1 840.8,1987.3 826.8,2007.0 818.3,2026.8 807.0,2038.0 804.2,2060.6 790.1,2071.8 784.5,2094.4 790.1,2116.9 795.8,2131.0 809.9,2136.6 812.7,2150.7 815.5,2184.5 823.9,2201.4 843.7,2218.3 846.5,2240.8 849.3,2274.6 854.9,2297.2 857.7,2319.7 829.6,2325.4 807.0,2342.3 790.1,2359.2 767.6,2387.3 750.7,2387.3 725.4,2398.6 719.7,2421.1 714.1,2443.7 705.6,2466.2 694.4,2488.7 674.6,2508.5 660.6,2508.5 638.0,2502.8 615.5,2488.7 593.0,2477.5 576.1,2463.4 559.2,2446.5 545.1,2435.2 516.9,2438.0 511.3,2452.1 494.4,2457.7 469.0,2443.7 452.1,2432.4 438.0,2421.1 426.8,2418.3 435.2,2398.6 443.7,2376.1 452.1,2353.5 449.3,2314.1 446.5,2297.2 435.2,2280.3 429.6,2263.4 418.3,2246.5 395.8,2232.4 378.9,2221.1 362.0,2209.9 378.9,2195.8 395.8,2178.9 418.3,2173.2 415.5,2156.3 421.1,2139.4 415.5,2116.9 418.3,2094.4 418.3,2071.8 404.2,2049.3 395.8,2026.8 409.9,2007.0 404.2,1987.3 395.8,1964.8 387.3,1942.3 395.8,1919.7 398.6,1900.0 412.7,1894.4 409.9,1869.0 404.2,1840.8 390.1,1818.3 384.5,1790.1 387.3,1756.3 381.7,1722.5 387.3,1700.0 381.3,1695.1 373.1,1681.3 373.1,1642.9 367.6,1615.4 359.3,1593.4 345.6,1576.9 331.9,1565.9 309.9,1554.9 301.6,1533.0 285.2,1522.0 285.2,1511.0 298.9,1491.8 290.7,1467.0 287.9,1439.6 279.7,1417.6 285.2,1395.6 282.4,1373.6 265.9,1351.6 246.7,1346.2 252.2,1302.2 254.9,1280.2 246.7,1274.7 249.5,1241.8 254.9,1208.8 257.7,1181.3 260.4,1164.8 257.7,1131.9 252.2,1109.9 257.7,1087.9 252.2,1060.4 244.0,1038.5 233.0,1016.5 211.0,1000.0" fill="none" stroke="#000" stroke-width="4.4" stroke-linejoin="round"/>
<line x1="209.8" y1="1591" x2="209.8" y2="2509" stroke="#f6d2ff" stroke-width="2.8"/>
<line x1="1026.4" y1="2508.4" x2="2389.0" y2="2508.4" stroke="#f6d2ff" stroke-width="2.8"/>
<line x1="209.0" y1="168.6" x2="247.0" y2="168.6" stroke="#f6d2ff" stroke-width="2.4"/>
<rect x="207.3" y="166.2" width="2183.2" height="2344.8" fill="none" stroke="#4d4d4d" stroke-width="3.5"/>
<line x1="292.7" y1="2511.0" x2="292.7" y2="2496.0" stroke="#4d4d4d" stroke-width="3"/>
<line x1="731.5" y1="2511.0" x2="731.5" y2="2496.0" stroke="#4d4d4d" stroke-width="3"/>
<line x1="1170.3" y1="2511.0" x2="1170.3" y2="2496.0" stroke="#4d4d4d" stroke-width="3"/>
<line x1="1609.1" y1="2511.0" x2="1609.1" y2="2496.0" stroke="#4d4d4d" stroke-width="3"/>
<line x1="2047.9" y1="2511.0" x2="2047.9" y2="2496.0" stroke="#4d4d4d" stroke-width="3"/>
<line x1="207.3" y1="220.9" x2="222.3" y2="220.9" stroke="#4d4d4d" stroke-width="3.3"/>
<line x1="207.3" y1="659.7" x2="222.3" y2="659.7" stroke="#4d4d4d" stroke-width="3.3"/>
<line x1="207.3" y1="1098.5" x2="222.3" y2="1098.5" stroke="#4d4d4d" stroke-width="3.3"/>
<line x1="207.3" y1="1537.3" x2="222.3" y2="1537.3" stroke="#4d4d4d" stroke-width="3.3"/>
<line x1="207.3" y1="1976.1" x2="222.3" y2="1976.1" stroke="#4d4d4d" stroke-width="3.3"/>
<line x1="207.3" y1="2414.9" x2="222.3" y2="2414.9" stroke="#4d4d4d" stroke-width="3.3"/>
<text x="292.7" y="2564.8" font-size="50.5" text-anchor="middle" fill="#4d4d4d" font-family="Liberation Sans, Arial, sans-serif" textLength="197.1" lengthAdjust="spacingAndGlyphs">75.70° W</text>
<text x="731.5" y="2564.8" font-size="50.5" text-anchor="middle" fill="#4d4d4d" font-family="Liberation Sans, Arial, sans-serif" textLength="197.1" lengthAdjust="spacingAndGlyphs">75.60° W</text>
<text x="1170.3" y="2564.8" font-size="50.5" text-anchor="middle" fill="#4d4d4d" font-family="Liberation Sans, Arial, sans-serif" textLength="197.1" lengthAdjust="spacingAndGlyphs">75.50° W</text>
<text x="1609.1" y="2564.8" font-size="50.5" text-anchor="middle" fill="#4d4d4d" font-family="Liberation Sans, Arial, sans-serif" textLength="197.1" lengthAdjust="spacingAndGlyphs">75.40° W</text>
<text x="2047.9" y="2564.8" font-size="50.5" text-anchor="middle" fill="#4d4d4d" font-family="Liberation Sans, Arial, sans-serif" textLength="197.1" lengthAdjust="spacingAndGlyphs">75.30° W</text>
<text x="191.5" y="241.1" font-size="50.8" text-anchor="end" fill="#4d4d4d" font-family="Liberation Sans, Arial, sans-serif" textLength="162.5" lengthAdjust="spacingAndGlyphs">6.50° N</text>
<text x="191.5" y="679.9" font-size="50.8" text-anchor="end" fill="#4d4d4d" font-family="Liberation Sans, Arial, sans-serif" textLength="162.5" lengthAdjust="spacingAndGlyphs">6.40° N</text>
<text x="191.5" y="1118.7" font-size="50.8" text-anchor="end" fill="#4d4d4d" font-family="Liberation Sans, Arial, sans-serif" textLength="162.5" lengthAdjust="spacingAndGlyphs">6.30° N</text>
<text x="191.5" y="1557.5" font-size="50.8" text-anchor="end" fill="#4d4d4d" font-family="Liberation Sans, Arial, sans-serif" textLength="162.5" lengthAdjust="spacingAndGlyphs">6.20° N</text>
<text x="191.5" y="1996.3" font-size="50.8" text-anchor="end" fill="#4d4d4d" font-family="Liberation Sans, Arial, sans-serif" textLength="162.5" lengthAdjust="spacingAndGlyphs">6.10° N</text>
<text x="191.5" y="2435.1" font-size="50.8" text-anchor="end" fill="#4d4d4d" font-family="Liberation Sans, Arial, sans-serif" textLength="162.5" lengthAdjust="spacingAndGlyphs">6.00° N</text>
<text x="558.0" y="76" font-size="60.4" fill="#4d4d4d" font-family="Liberation Sans, Arial, sans-serif" textLength="1482" lengthAdjust="spacingAndGlyphs">Acumulado de precipitación para los 7 días antecedentes</text>
<text x="1029.4" y="142.3" font-size="64.1" fill="#4d4d4d" font-family="Liberation Sans, Arial, sans-serif" textLength="534.6" lengthAdjust="spacingAndGlyphs">20260210 - 20260217</text>
<polygon points="206.0,2650.8 306.4,2615.7 306.4,2686.0" fill="#ffffff"/>
<polygon points="2392.0,2650.8 2290.0,2615.7 2290.0,2686.0" fill="#fbd9ff"/>
<rect x="306.4" y="2615.7" width="1983.6" height="70.3" fill="url(#cbL)"/>
<polygon points="206.0,2650.8 306.4,2615.7 2290.0,2615.7 2392.0,2650.8 2290.0,2686.0 306.4,2686.0" fill="none" stroke="#4d4d4d" stroke-width="3.5" stroke-linejoin="miter"/>
<line x1="306.4" y1="2686.0" x2="306.4" y2="2671.0" stroke="#4d4d4d" stroke-width="3"/>
<text x="306.4" y="2746" font-size="61.8" text-anchor="middle" fill="#4d4d4d" font-family="Liberation Sans, Arial, sans-serif" textLength="30.5" lengthAdjust="spacingAndGlyphs">0</text>
<line x1="377.2" y1="2686.0" x2="377.2" y2="2671.0" stroke="#4d4d4d" stroke-width="3"/>
<text x="377.2" y="2746" font-size="61.8" text-anchor="middle" fill="#4d4d4d" font-family="Liberation Sans, Arial, sans-serif" textLength="61.0" lengthAdjust="spacingAndGlyphs">10</text>
<line x1="448.1" y1="2686.0" x2="448.1" y2="2671.0" stroke="#4d4d4d" stroke-width="3"/>
<text x="448.1" y="2746" font-size="61.8" text-anchor="middle" fill="#4d4d4d" font-family="Liberation Sans, Arial, sans-serif" textLength="61.0" lengthAdjust="spacingAndGlyphs">20</text>
<line x1="589.8" y1="2686.0" x2="589.8" y2="2671.0" stroke="#4d4d4d" stroke-width="3"/>
<text x="589.8" y="2746" font-size="61.8" text-anchor="middle" fill="#4d4d4d" font-family="Liberation Sans, Arial, sans-serif" textLength="61.0" lengthAdjust="spacingAndGlyphs">40</text>
<line x1="731.5" y1="2686.0" x2="731.5" y2="2671.0" stroke="#4d4d4d" stroke-width="3"/>
<text x="731.5" y="2746" font-size="61.8" text-anchor="middle" fill="#4d4d4d" font-family="Liberation Sans, Arial, sans-serif" textLength="61.0" lengthAdjust="spacingAndGlyphs">60</text>
<line x1="873.1" y1="2686.0" x2="873.1" y2="2671.0" stroke="#4d4d4d" stroke-width="3"/>
<text x="873.1" y="2746" font-size="61.8" text-anchor="middle" fill="#4d4d4d" font-family="Liberation Sans, Arial, sans-serif" textLength="61.0" lengthAdjust="spacingAndGlyphs">80</text>
<line x1="1014.8" y1="2686.0" x2="1014.8" y2="2671.0" stroke="#4d4d4d" stroke-width="3"/>
<text x="1014.8" y="2746" font-size="61.8" text-anchor="middle" fill="#4d4d4d" font-family="Liberation Sans, Arial, sans-serif" textLength="91.5" lengthAdjust="spacingAndGlyphs">100</text>
<line x1="1156.5" y1="2686.0" x2="1156.5" y2="2671.0" stroke="#4d4d4d" stroke-width="3"/>
<text x="1156.5" y="2746" font-size="61.8" text-anchor="middle" fill="#4d4d4d" font-family="Liberation Sans, Arial, sans-serif" textLength="91.5" lengthAdjust="spacingAndGlyphs">120</text>
<line x1="1298.2" y1="2686.0" x2="1298.2" y2="2671.0" stroke="#4d4d4d" stroke-width="3"/>
<text x="1298.2" y="2746" font-size="61.8" text-anchor="middle" fill="#4d4d4d" font-family="Liberation Sans, Arial, sans-serif" textLength="91.5" lengthAdjust="spacingAndGlyphs">140</text>
<line x1="1439.9" y1="2686.0" x2="1439.9" y2="2671.0" stroke="#4d4d4d" stroke-width="3"/>
<text x="1439.9" y="2746" font-size="61.8" text-anchor="middle" fill="#4d4d4d" font-family="Liberation Sans, Arial, sans-serif" textLength="91.5" lengthAdjust="spacingAndGlyphs">160</text>
<line x1="1581.6" y1="2686.0" x2="1581.6" y2="2671.0" stroke="#4d4d4d" stroke-width="3"/>
<text x="1581.6" y="2746" font-size="61.8" text-anchor="middle" fill="#4d4d4d" font-family="Liberation Sans, Arial, sans-serif" textLength="91.5" lengthAdjust="spacingAndGlyphs">180</text>
<line x1="1723.3" y1="2686.0" x2="1723.3" y2="2671.0" stroke="#4d4d4d" stroke-width="3"/>
<text x="1723.3" y="2746" font-size="61.8" text-anchor="middle" fill="#4d4d4d" font-family="Liberation Sans, Arial, sans-serif" textLength="91.5" lengthAdjust="spacingAndGlyphs">200</text>
<line x1="2006.6" y1="2686.0" x2="2006.6" y2="2671.0" stroke="#4d4d4d" stroke-width="3"/>
<text x="2006.6" y="2746" font-size="61.8" text-anchor="middle" fill="#4d4d4d" font-family="Liberation Sans, Arial, sans-serif" textLength="91.5" lengthAdjust="spacingAndGlyphs">240</text>
<line x1="2290.0" y1="2686.0" x2="2290.0" y2="2671.0" stroke="#4d4d4d" stroke-width="3"/>
<text x="2290.0" y="2746" font-size="61.8" text-anchor="middle" fill="#4d4d4d" font-family="Liberation Sans, Arial, sans-serif" textLength="91.5" lengthAdjust="spacingAndGlyphs">280</text>
<text x="817.4" y="2828.5" font-size="70.4" fill="#4d4d4d" font-family="Liberation Sans, Arial, sans-serif" textLength="962.6" lengthAdjust="spacingAndGlyphs">Acumulado Precipitación [mm]</text>
<g clip-path="url(#mapclipR)">
<radialGradient id="dR0"><stop offset="0" stop-color="#4646ff"/><stop offset="0.35" stop-color="#4646ff" stop-opacity="0.85"/><stop offset="1" stop-color="#4646ff" stop-opacity="0"/></radialGradient><circle cx="3257.6" cy="1808" r="26" fill="url(#dR0)"/>
<radialGradient id="dR1"><stop offset="0" stop-color="#48f5ff"/><stop offset="0.35" stop-color="#48f5ff" stop-opacity="0.85"/><stop offset="1" stop-color="#48f5ff" stop-opacity="0"/></radialGradient><circle cx="3257.6" cy="1808" r="11" fill="url(#dR1)"/>
<radialGradient id="dR2"><stop offset="0" stop-color="#487aff"/><stop offset="0.35" stop-color="#487aff" stop-opacity="0.85"/><stop offset="1" stop-color="#487aff" stop-opacity="0"/></radialGradient><circle cx="3796.6" cy="1492" r="22" fill="url(#dR2)"/>
<radialGradient id="dR3"><stop offset="0" stop-color="#48ffff"/><stop offset="0.35" stop-color="#48ffff" stop-opacity="0.85"/><stop offset="1" stop-color="#48ffff" stop-opacity="0"/></radialGradient><circle cx="3796.6" cy="1492" r="12" fill="url(#dR3)"/>
<radialGradient id="dR4"><stop offset="0" stop-color="#4646ff"/><stop offset="0.35" stop-color="#4646ff" stop-opacity="0.85"/><stop offset="1" stop-color="#4646ff" stop-opacity="0"/></radialGradient><circle cx="3611.6" cy="1340" r="24" fill="url(#dR4)"/>
<radialGradient id="dR5"><stop offset="0" stop-color="#48ffff"/><stop offset="0.35" stop-color="#48ffff" stop-opacity="0.85"/><stop offset="1" stop-color="#48ffff" stop-opacity="0"/></radialGradient><circle cx="3611.6" cy="1340" r="11" fill="url(#dR5)"/>
<radialGradient id="dR6"><stop offset="0" stop-color="#4646ff"/><stop offset="0.35" stop-color="#4646ff" stop-opacity="0.85"/><stop offset="1" stop-color="#4646ff" stop-opacity="0"/></radialGradient><circle cx="3645.6" cy="1377" r="18" fill="url(#dR6)"/>
<radialGradient id="dR7"><stop offset="0" stop-color="#49e1ff"/><stop offset="0.35" stop-color="#49e1ff" stop-opacity="0.85"/><stop offset="1" stop-color="#49e1ff" stop-opacity="0"/></radialGradient><circle cx="3645.6" cy="1377" r="8" fill="url(#dR7)"/>
<radialGradient id="dR8"><stop offset="0" stop-color="#498bff"/><stop offset="0.35" stop-color="#498bff" stop-opacity="0.85"/><stop offset="1" stop-color="#498bff" stop-opacity="0"/></radialGradient><circle cx="3450.6" cy="1300" r="12" fill="url(#dR8)"/>
<radialGradient id="dR9"><stop offset="0" stop-color="#4646ff"/><stop offset="0.35" stop-color="#4646ff" stop-opacity="0.85"/><stop offset="1" stop-color="#4646ff" stop-opacity="0"/></radialGradient><circle cx="3523.6" cy="1329" r="14" fill="url(#dR9)"/>
<radialGradient id="dR10"><stop offset="0" stop-color="#4646ff"/><stop offset="0.35" stop-color="#4646ff" stop-opacity="0.85"/><stop offset="1" stop-color="#4646ff" stop-opacity="0"/></radialGradient><circle cx="3457.6" cy="1023" r="14" fill="url(#dR10)"/>
<radialGradient id="dR11"><stop offset="0" stop-color="#4646ff"/><stop offset="0.35" stop-color="#4646ff" stop-opacity="0.85"/><stop offset="1" stop-color="#4646ff" stop-opacity="0"/></radialGradient><circle cx="3457.6" cy="1125" r="12" fill="url(#dR11)"/>
<radialGradient id="dR12"><stop offset="0" stop-color="#7c8f9e"/><stop offset="0.35" stop-color="#7c8f9e" stop-opacity="0.85"/><stop offset="1" stop-color="#7c8f9e" stop-opacity="0"/></radialGradient><circle cx="4551.6" cy="506" r="12" fill="url(#dR12)"/>
<radialGradient id="dR13"><stop offset="0" stop-color="#7c8f9e"/><stop offset="0.35" stop-color="#7c8f9e" stop-opacity="0.85"/><stop offset="1" stop-color="#7c8f9e" stop-opacity="0"/></radialGradient><circle cx="3090.6" cy="1613" r="20" fill="url(#dR13)"/>
<radialGradient id="dR14"><stop offset="0" stop-color="#7a9a8a"/><stop offset="0.35" stop-color="#7a9a8a" stop-opacity="0.85"/><stop offset="1" stop-color="#7a9a8a" stop-opacity="0"/></radialGradient><circle cx="3217.6" cy="1513" r="14" fill="url(#dR14)"/>
<radialGradient id="dR15"><stop offset="0" stop-color="#ff4f4b"/><stop offset="0.35" stop-color="#ff4f4b" stop-opacity="0.85"/><stop offset="1" stop-color="#ff4f4b" stop-opacity="0"/></radialGradient><circle cx="3339.6" cy="1948" r="34" fill="url(#dR15)"/>
<radialGradient id="dR16"><stop offset="0" stop-color="#fffa7a"/><stop offset="0.35" stop-color="#fffa7a" stop-opacity="0.85"/><stop offset="1" stop-color="#fffa7a" stop-opacity="0"/></radialGradient><circle cx="4580.6" cy="573" r="30" fill="url(#dR16)"/>
<radialGradient id="dR17"><stop offset="0" stop-color="#ffffff"/><stop offset="0.35" stop-color="#ffffff" stop-opacity="0.85"/><stop offset="1" stop-color="#ffffff" stop-opacity="0"/></radialGradient><circle cx="3596.6" cy="1631" r="22" fill="url(#dR17)"/>
<radialGradient id="dR18"><stop offset="0" stop-color="#51ffff"/><stop offset="0.35" stop-color="#51ffff" stop-opacity="0.85"/><stop offset="1" stop-color="#51ffff" stop-opacity="0"/></radialGradient><circle cx="3071.6" cy="1243" r="26" fill="url(#dR18)"/>
<radialGradient id="dR19"><stop offset="0" stop-color="#ffffff"/><stop offset="0.35" stop-color="#ffffff" stop-opacity="0.85"/><stop offset="1" stop-color="#ffffff" stop-opacity="0"/></radialGradient><circle cx="3636.6" cy="1110" r="20" fill="url(#dR19)"/>
<radialGradient id="dR20"><stop offset="0" stop-color="#48ffff"/><stop offset="0.35" stop-color="#48ffff" stop-opacity="0.85"/><stop offset="1" stop-color="#48ffff" stop-opacity="0"/></radialGradient><circle cx="3870.6" cy="766" r="18" fill="url(#dR20)"/>
</g>
<line x1="2917.3" y1="2511.0" x2="2917.3" y2="166.2" stroke="#7f7f7f" stroke-opacity="0.5" stroke-width="1.9" stroke-dasharray="6 2.8"/>
<line x1="3356.1" y1="2511.0" x2="3356.1" y2="166.2" stroke="#7f7f7f" stroke-opacity="0.5" stroke-width="1.9" stroke-dasharray="6 2.8"/>
<line x1="3794.9" y1="2511.0" x2="3794.9" y2="166.2" stroke="#7f7f7f" stroke-opacity="0.5" stroke-width="1.9" stroke-dasharray="6 2.8"/>
<line x1="4233.7" y1="2511.0" x2="4233.7" y2="166.2" stroke="#7f7f7f" stroke-opacity="0.5" stroke-width="1.9" stroke-dasharray="6 2.8"/>
<line x1="4672.5" y1="2511.0" x2="4672.5" y2="166.2" stroke="#7f7f7f" stroke-opacity="0.5" stroke-width="1.9" stroke-dasharray="6 2.8"/>
<line x1="2831.9" y1="220.9" x2="5015.1" y2="220.9" stroke="#7f7f7f" stroke-opacity="0.5" stroke-width="1.9" stroke-dasharray="6 2.8"/>
<line x1="2831.9" y1="659.7" x2="5015.1" y2="659.7" stroke="#7f7f7f" stroke-opacity="0.5" stroke-width="1.9" stroke-dasharray="6 2.8"/>
<line x1="2831.9" y1="1098.5" x2="5015.1" y2="1098.5" stroke="#7f7f7f" stroke-opacity="0.5" stroke-width="1.9" stroke-dasharray="6 2.8"/>
<line x1="2831.9" y1="1537.3" x2="5015.1" y2="1537.3" stroke="#7f7f7f" stroke-opacity="0.5" stroke-width="1.9" stroke-dasharray="6 2.8"/>
<line x1="2831.9" y1="1976.1" x2="5015.1" y2="1976.1" stroke="#7f7f7f" stroke-opacity="0.5" stroke-width="1.9" stroke-dasharray="6 2.8"/>
<line x1="2831.9" y1="2414.9" x2="5015.1" y2="2414.9" stroke="#7f7f7f" stroke-opacity="0.5" stroke-width="1.9" stroke-dasharray="6 2.8"/>
<polyline points="3055.4,774.0 3065.0,788.5 3069.8,817.3 3093.8,836.5 3108.3,855.8 3115.5,884.6 3113.1,908.7 3127.5,951.9 3151.5,973.6 3175.6,1002.4 3192.4,1007.2 3204.4,1021.6 3238.1,1036.1 3257.3,1034.6 3286.1,1038.5 3305.4,1043.3 3334.2,1064.9 3353.4,1068.3 3382.3,1062.5 3411.1,1055.3 3435.2,1058.7 3459.2,1049.5 3497.7,1045.7 3540.9,1047.1 3524.6,1046.7 3546.6,1052.2 3546.6,1060.4 3579.5,1074.2 3607.0,1082.4 3634.5,1104.4 3651.0,1098.9 3667.5,1109.9 3689.4,1126.4 3694.9,1145.6" fill="none" stroke="#000" stroke-width="4.5" stroke-linejoin="round" stroke-linecap="round"/>
<polyline points="3694.9,1145.6 3700.4,1131.9 3708.7,1112.6 3730.6,1090.7 3755.4,1101.6 3777.3,1112.6 3788.3,1109.9" fill="none" stroke="#000" stroke-width="4.5" stroke-linejoin="round" stroke-linecap="round"/>
<polyline points="3653.4,705.2 3646.2,734.0 3675.1,777.3 3718.3,813.3 3725.5,842.1 3718.3,892.6 3729.1,898.4 3703.9,899.8 3693.1,928.7 3646.2,935.9 3639.0,950.3 3653.4,986.3 3671.5,1044.0 3689.5,1101.7 3693.1,1145.0" fill="none" stroke="#000" stroke-width="4.5" stroke-linejoin="round" stroke-linecap="round"/>
<polyline points="3873.3,526.4 3862.5,561.0 3844.5,611.4 3840.9,654.7 3848.1,690.7 3869.7,712.4 3876.9,741.2 3891.4,755.6 3913.0,764.3 3891.4,761.4 3869.7,766.4 3866.1,784.5 3873.3,820.5 3880.5,867.4 3902.2,874.6 3927.4,899.8 3949.0,914.2 3963.5,935.9 3985.1,939.5 4006.7,943.1 4013.9,946.7" fill="none" stroke="#000" stroke-width="4.5" stroke-linejoin="round" stroke-linecap="round"/>
<polyline points="4010.3,499.7 4035.6,539.3 4060.8,542.9 4071.6,575.4 4100.4,611.4 4129.3,633.1 4140.1,640.3 4143.7,679.9 4179.8,679.9 4194.2,705.2 4205.0,726.8 4212.2,762.8 4215.8,809.7" fill="none" stroke="#000" stroke-width="4.5" stroke-linejoin="round" stroke-linecap="round"/>
<polyline points="3007.2,1695.8 3026.1,1678.6 3045.0,1687.2 3060.5,1682.1 3084.5,1671.8 3108.6,1671.8 3112.0,1678.6 3129.2,1680.4 3156.7,1687.2 3173.8,1692.4 3196.2,1695.8 3197.9,1709.5 3201.3,1725.0 3221.9,1730.2 3232.2,1737.0 3246.0,1733.6 3249.4,1737.0 3263.2,1728.4 3280.3,1723.3 3318.1,1704.4 3335.3,1701.0" fill="none" stroke="#000" stroke-width="4.5" stroke-linejoin="round" stroke-linecap="round"/>
<polyline points="3421.2,1594.5 3400.6,1613.4 3383.4,1637.4 3352.5,1661.5 3342.2,1678.6 3335.3,1701.0" fill="none" stroke="#000" stroke-width="4.5" stroke-linejoin="round" stroke-linecap="round"/>
<polyline points="3156.7,1687.2 3153.2,1668.3 3146.4,1663.2 3167.0,1659.7 3187.6,1652.9 3203.0,1642.6 3194.5,1620.2 3184.1,1596.2 3177.3,1582.4 3182.4,1570.4 3194.5,1565.3 3204.8,1551.5 3211.6,1532.6 3221.9,1541.2 3228.8,1555.0 3239.1,1551.5 3259.7,1553.2 3280.3,1548.1 3304.4,1541.2 3335.3,1544.7 3355.9,1551.5 3376.5,1563.6 3392.0,1568.7 3392.0,1573.9 3407.4,1584.2 3421.2,1594.5 3428.1,1587.6 3441.8,1592.8 3445.2,1606.5 3462.4,1616.8 3483.0,1628.8 3496.8,1635.7 3510.5,1640.8 3531.1,1640.8 3541.4,1646.0 3558.6,1644.3 3579.2,1644.3 3596.4,1651.2 3603.2,1659.7 3623.9,1668.3 3640.0,1651.1 3653.7,1640.1 3656.5,1604.4 3670.2,1593.4 3670.2,1574.2 3689.4,1554.9 3716.9,1557.7 3744.4,1565.9 3771.9,1576.9 3793.8,1582.4 3804.8,1571.4 3826.8,1563.2 3837.8,1574.2 3843.3,1579.7 3859.8,1579.7" fill="none" stroke="#000" stroke-width="4.5" stroke-linejoin="round" stroke-linecap="round"/>
<polyline points="3335.3,1701.0 3347.3,1713.0 3338.7,1719.9 3340.5,1733.6 3352.5,1742.2 3362.8,1747.3 3373.1,1764.5 3383.4,1778.3 3393.7,1781.7 3395.4,1802.3 3388.5,1819.5 3390.3,1840.1 3402.3,1853.8 3404.0,1877.9 3398.9,1898.5 3397.1,1919.1" fill="none" stroke="#000" stroke-width="4.5" stroke-linejoin="round" stroke-linecap="round"/>
<polyline points="3246.0,1737.0 3215.1,1747.3 3208.2,1752.5 3208.2,1767.9 3213.3,1781.7 3209.9,1795.4 3208.2,1812.6 3215.1,1816.0 3228.8,1814.3 3235.7,1807.5 3235.7,1822.9 3249.4,1840.1 3270.0,1855.5 3283.8,1859.0 3295.8,1864.1 3299.2,1874.4 3314.7,1884.7 3325.0,1901.9" fill="none" stroke="#000" stroke-width="4.5" stroke-linejoin="round" stroke-linecap="round"/>
<polyline points="3036.4,1891.6 3057.0,1889.9 3063.9,1901.9 3070.8,1913.9 3094.8,1936.3 3105.1,1938.0 3118.9,1934.6 3129.2,1931.1 3146.4,1934.6 3173.8,1931.1 3197.9,1922.5 3211.6,1932.8 3228.8,1946.6 3242.5,1939.7 3266.6,1932.8 3290.6,1919.1 3300.9,1912.2 3318.1,1910.5 3326.7,1905.4 3352.5,1908.8 3397.1,1919.1 3421.2,1927.7 3448.7,1939.7 3462.4,1953.5 3469.3,1967.2 3476.1,1979.2" fill="none" stroke="#000" stroke-width="4.5" stroke-linejoin="round" stroke-linecap="round"/>
<polygon points="2834.2,990.4 2835.2,961.5 2848.6,951.9 2836.6,923.1 2836.6,899.0 2853.4,894.2 2851.0,870.2 2846.2,846.2 2841.4,817.3 2855.8,788.5 2882.3,779.8 2901.5,777.9 2920.8,781.2 2937.6,790.9 2947.2,787.0 2968.8,785.6 2978.4,792.3 3007.3,790.9 3026.5,782.7 3055.4,774.0 3062.6,757.2 3074.6,752.4 3093.8,754.8 3113.1,746.2 3141.9,747.6 3161.1,754.8 3190.0,740.4 3209.2,730.8 3233.3,716.3 3250.1,701.9 3257.3,675.5 3276.5,656.2 3293.4,637.0 3305.4,615.4 3324.6,603.4 3353.4,596.2 3367.9,576.9 3379.9,552.9 3387.1,528.8 3411.1,524.0 3420.8,536.1 3440.0,550.5 3464.0,555.3 3488.1,576.9 3497.7,601.0 3502.5,625.0 3516.9,649.0 3540.9,687.5 3555.4,730.8 3574.6,738.0 3598.6,721.2 3617.9,711.5 3641.9,709.1 3651.5,706.7 3653.4,705.2 3685.9,687.1 3689.5,654.7 3714.7,625.8 3747.2,597.0 3776.0,586.2 3794.0,589.8 3812.1,575.4 3822.9,542.9 3833.7,517.7 3855.3,519.1 3873.3,526.4 3898.6,521.3 3920.2,524.9 3934.6,501.8 3967.1,508.3 3985.1,501.8 4010.3,499.7 4028.3,499.7 4057.2,488.9 4100.4,481.7 4143.7,475.9 4172.5,473.0 4201.4,478.0 4223.0,472.3 4251.9,474.4 4262.7,463.6 4277.1,445.6 4280.7,413.2 4309.5,405.9 4306.3,407.2 4335.2,407.2 4352.0,388.0 4373.6,376.0 4373.6,351.9 4383.3,330.3 4395.3,315.9 4397.7,294.2 4412.1,277.4 4431.3,275.0 4440.9,258.2 4455.4,251.0 4474.6,234.1 4493.8,222.1 4513.1,224.5 4537.1,217.3 4561.1,200.5 4570.8,188.5 4582.8,186.1 4587.6,169.2 4604.4,171.6 4623.6,181.2 4642.9,183.7 4662.1,193.3 4690.9,188.5 4719.8,193.3 4739.0,217.3 4753.4,241.3 4758.3,260.6 4777.5,258.2 4787.1,253.4 4820.8,253.4 4823.2,236.5 4820.8,222.1 4828.0,202.9 4835.2,186.1 4854.4,184.6 4878.4,186.1 4897.7,188.5 4912.1,210.1 4926.5,222.1 4955.4,229.3 4974.6,234.1 4993.8,241.3 5001.0,255.8 5010.7,267.8 5010.7,294.2 5008.3,311.1 4989.0,315.9 4969.8,325.5 4965.0,332.7 4972.2,344.7 4969.8,356.7 4955.4,368.8 4945.8,385.6 4950.6,414.4 4936.1,438.5 4924.1,457.7 4919.3,486.5 4907.3,501.0 4897.7,508.2 4883.3,515.4 4868.8,520.2 4859.2,525.0 4849.6,534.6 4825.6,544.2 4820.8,553.8 4801.5,552.9 4782.3,561.1 4772.7,580.3 4765.5,592.3 4758.3,601.9 4743.8,613.9 4724.6,630.8 4715.0,650.0 4700.6,652.4 4686.1,647.6 4671.7,635.6 4657.3,640.4 4654.9,657.2 4638.1,659.6 4628.4,671.6 4633.3,688.5 4642.9,698.1 4633.3,702.9 4614.0,698.1 4604.4,714.9 4590.0,719.7 4575.6,710.1 4570.8,695.7 4556.3,693.3 4541.9,688.5 4532.3,678.8 4529.9,669.2 4517.9,666.8 4503.4,678.8 4489.0,676.4 4474.6,674.0 4460.2,683.7 4436.1,698.1 4416.9,710.1 4402.5,724.5 4388.1,731.7 4368.8,746.2 4359.2,758.2 4340.0,767.8 4335.2,779.8 4306.3,777.4 4289.5,779.8 4284.7,791.8 4270.3,799.0 4248.6,803.8 4224.6,811.1 4215.8,809.7 4208.6,813.3 4223.0,831.3 4230.2,842.1 4223.0,860.2 4201.4,874.6 4172.5,885.4 4161.7,892.6 4165.3,928.7 4150.9,943.1 4136.5,953.9 4132.9,979.1 4140.1,993.5 4129.3,1029.6 4100.4,1026.0 4086.0,1015.2 4057.2,1000.8 4035.6,986.3 4017.5,968.3 4013.9,946.7 4003.1,946.7 3999.5,964.7 3977.9,982.7 3963.5,986.3 3941.8,1008.0 3913.0,1015.2 3898.6,1018.8 3876.9,1011.6 3869.7,1044.0 3840.9,1065.6 3833.7,1080.1 3848.1,1101.7 3830.1,1116.1 3804.8,1105.3 3790.4,1108.9 3797.6,1123.3 3794.0,1152.2 3808.5,1166.6 3815.7,1188.2 3813.1,1195.1 3824.1,1203.3 3813.1,1217.0 3813.1,1230.8 3824.1,1236.3 3832.3,1258.2 3837.8,1272.0 3854.3,1285.7 3859.8,1307.7 3881.7,1302.2 3898.2,1318.7 3912.0,1329.7 3917.5,1351.6 3912.0,1365.4 3923.0,1376.4 3898.2,1379.1 3887.2,1384.6 3881.7,1395.6 3865.3,1403.8 3848.8,1406.6 3835.0,1409.3 3837.8,1434.1 3837.8,1467.0 3854.3,1478.0 3862.5,1494.5 3857.0,1516.5 3870.8,1544.0 3862.5,1576.9 3870.8,1593.4 3876.2,1604.4 3862.5,1615.4 3870.8,1637.4 3884.5,1648.4 3887.2,1659.3 3901.0,1664.8 3912.0,1686.8 3906.5,1714.3 3887.2,1717.0 3854.3,1708.8 3843.3,1714.3 3832.3,1725.3 3824.1,1730.8 3799.3,1736.3 3760.9,1736.3 3755.4,1752.7 3733.4,1755.5 3719.7,1763.7 3708.7,1774.7 3705.9,1800.0 3696.4,1795.8 3688.0,1784.5 3679.5,1793.0 3668.3,1812.7 3657.0,1821.1 3640.1,1835.2 3623.2,1835.2 3606.3,1846.5 3606.3,1885.9 3600.7,1908.5 3589.4,1914.1 3583.8,1936.6 3572.5,1953.5 3544.3,1956.3 3521.8,1947.9 3504.9,1945.1 3493.6,1964.8 3479.5,1976.1 3465.4,1987.3 3451.4,2007.0 3442.9,2026.8 3431.6,2038.0 3428.8,2060.6 3414.7,2071.8 3409.1,2094.4 3414.7,2116.9 3420.4,2131.0 3434.5,2136.6 3437.3,2150.7 3440.1,2184.5 3448.5,2201.4 3468.3,2218.3 3471.1,2240.8 3473.9,2274.6 3479.5,2297.2 3482.3,2319.7 3454.2,2325.4 3431.6,2342.3 3414.7,2359.2 3392.2,2387.3 3375.3,2387.3 3350.0,2398.6 3344.3,2421.1 3338.7,2443.7 3330.2,2466.2 3319.0,2488.7 3299.2,2508.5 3285.2,2508.5 3262.6,2502.8 3240.1,2488.7 3217.6,2477.5 3200.7,2463.4 3183.8,2446.5 3169.7,2435.2 3141.5,2438.0 3135.9,2452.1 3119.0,2457.7 3093.6,2443.7 3076.7,2432.4 3062.6,2421.1 3051.4,2418.3 3059.8,2398.6 3068.3,2376.1 3076.7,2353.5 3073.9,2314.1 3071.1,2297.2 3059.8,2280.3 3054.2,2263.4 3042.9,2246.5 3020.4,2232.4 3003.5,2221.1 2986.6,2209.9 3003.5,2195.8 3020.4,2178.9 3042.9,2173.2 3040.1,2156.3 3045.7,2139.4 3040.1,2116.9 3042.9,2094.4 3042.9,2071.8 3028.8,2049.3 3020.4,2026.8 3034.5,2007.0 3028.8,1987.3 3020.4,1964.8 3011.9,1942.3 3020.4,1919.7 3023.2,1900.0 3037.3,1894.4 3034.5,1869.0 3028.8,1840.8 3014.7,1818.3 3009.1,1790.1 3011.9,1756.3 3006.3,1722.5 3011.9,1700.0 3005.9,1695.1 2997.7,1681.3 2997.7,1642.9 2992.2,1615.4 2983.9,1593.4 2970.2,1576.9 2956.5,1565.9 2934.5,1554.9 2926.2,1533.0 2909.8,1522.0 2909.8,1511.0 2923.5,1491.8 2915.3,1467.0 2912.5,1439.6 2904.3,1417.6 2909.8,1395.6 2907.0,1373.6 2890.5,1351.6 2871.3,1346.2 2876.8,1302.2 2879.5,1280.2 2871.3,1274.7 2874.1,1241.8 2879.5,1208.8 2882.3,1181.3 2885.0,1164.8 2882.3,1131.9 2876.8,1109.9 2882.3,1087.9 2876.8,1060.4 2868.6,1038.5 2857.6,1016.5 2835.6,1000.0" fill="none" stroke="#000" stroke-width="4.4" stroke-linejoin="round"/>
<line x1="2834.4" y1="1591" x2="2834.4" y2="2509" stroke="#ff4a4a" stroke-width="2.8"/>
<line x1="3651.0" y1="2508.4" x2="5013.6" y2="2508.4" stroke="#ff4a4a" stroke-width="2.8"/>
<line x1="2833.6" y1="168.6" x2="2871.6" y2="168.6" stroke="#ff4a4a" stroke-width="2.4"/>
<rect x="2831.9" y="166.2" width="2183.2" height="2344.8" fill="none" stroke="#4d4d4d" stroke-width="3.5"/>
<line x1="2917.3" y1="2511.0" x2="2917.3" y2="2496.0" stroke="#4d4d4d" stroke-width="3"/>
<line x1="3356.1" y1="2511.0" x2="3356.1" y2="2496.0" stroke="#4d4d4d" stroke-width="3"/>
<line x1="3794.9" y1="2511.0" x2="3794.9" y2="2496.0" stroke="#4d4d4d" stroke-width="3"/>
<line x1="4233.7" y1="2511.0" x2="4233.7" y2="2496.0" stroke="#4d4d4d" stroke-width="3"/>
<line x1="4672.5" y1="2511.0" x2="4672.5" y2="2496.0" stroke="#4d4d4d" stroke-width="3"/>
<line x1="2831.9" y1="220.9" x2="2846.9" y2="220.9" stroke="#4d4d4d" stroke-width="3.3"/>
<line x1="2831.9" y1="659.7" x2="2846.9" y2="659.7" stroke="#4d4d4d" stroke-width="3.3"/>
<line x1="2831.9" y1="1098.5" x2="2846.9" y2="1098.5" stroke="#4d4d4d" stroke-width="3.3"/>
<line x1="2831.9" y1="1537.3" x2="2846.9" y2="1537.3" stroke="#4d4d4d" stroke-width="3.3"/>
<line x1="2831.9" y1="1976.1" x2="2846.9" y2="1976.1" stroke="#4d4d4d" stroke-width="3.3"/>
<line x1="2831.9" y1="2414.9" x2="2846.9" y2="2414.9" stroke="#4d4d4d" stroke-width="3.3"/>
<text x="2917.3" y="2564.8" font-size="50.5" text-anchor="middle" fill="#4d4d4d" font-family="Liberation Sans, Arial, sans-serif" textLength="197.1" lengthAdjust="spacingAndGlyphs">75.70° W</text>
<text x="3356.1" y="2564.8" font-size="50.5" text-anchor="middle" fill="#4d4d4d" font-family="Liberation Sans, Arial, sans-serif" textLength="197.1" lengthAdjust="spacingAndGlyphs">75.60° W</text>
<text x="3794.9" y="2564.8" font-size="50.5" text-anchor="middle" fill="#4d4d4d" font-family="Liberation Sans, Arial, sans-serif" textLength="197.1" lengthAdjust="spacingAndGlyphs">75.50° W</text>
<text x="4233.7" y="2564.8" font-size="50.5" text-anchor="middle" fill="#4d4d4d" font-family="Liberation Sans, Arial, sans-serif" textLength="197.1" lengthAdjust="spacingAndGlyphs">75.40° W</text>
<text x="4672.5" y="2564.8" font-size="50.5" text-anchor="middle" fill="#4d4d4d" font-family="Liberation Sans, Arial, sans-serif" textLength="197.1" lengthAdjust="spacingAndGlyphs">75.30° W</text>
<text x="2816.1" y="241.1" font-size="50.8" text-anchor="end" fill="#4d4d4d" font-family="Liberation Sans, Arial, sans-serif" textLength="162.5" lengthAdjust="spacingAndGlyphs">6.50° N</text>
<text x="2816.1" y="679.9" font-size="50.8" text-anchor="end" fill="#4d4d4d" font-family="Liberation Sans, Arial, sans-serif" textLength="162.5" lengthAdjust="spacingAndGlyphs">6.40° N</text>
<text x="2816.1" y="1118.7" font-size="50.8" text-anchor="end" fill="#4d4d4d" font-family="Liberation Sans, Arial, sans-serif" textLength="162.5" lengthAdjust="spacingAndGlyphs">6.30° N</text>
<text x="2816.1" y="1557.5" font-size="50.8" text-anchor="end" fill="#4d4d4d" font-family="Liberation Sans, Arial, sans-serif" textLength="162.5" lengthAdjust="spacingAndGlyphs">6.20° N</text>
<text x="2816.1" y="1996.3" font-size="50.8" text-anchor="end" fill="#4d4d4d" font-family="Liberation Sans, Arial, sans-serif" textLength="162.5" lengthAdjust="spacingAndGlyphs">6.10° N</text>
<text x="2816.1" y="2435.1" font-size="50.8" text-anchor="end" fill="#4d4d4d" font-family="Liberation Sans, Arial, sans-serif" textLength="162.5" lengthAdjust="spacingAndGlyphs">6.00° N</text>
<text x="3061.6" y="76" font-size="60.4" fill="#4d4d4d" font-family="Liberation Sans, Arial, sans-serif" textLength="1723.8" lengthAdjust="spacingAndGlyphs">Acumulado de precipitación para los 90 días antecedentes a 7 días</text>
<text x="3653.2" y="142.3" font-size="64.1" fill="#4d4d4d" font-family="Liberation Sans, Arial, sans-serif" textLength="538.6" lengthAdjust="spacingAndGlyphs">20251112 - 20260210</text>
<polygon points="2830.6,2650.8 2931.0,2615.7 2931.0,2686.0" fill="#ffffff"/>
<polygon points="5016.6,2650.8 4914.6,2615.7 4914.6,2686.0" fill="#ff4a4a"/>
<rect x="2931.0" y="2615.7" width="1983.6" height="70.3" fill="url(#cbR)"/>
<polygon points="2830.6,2650.8 2931.0,2615.7 4914.6,2615.7 5016.6,2650.8 4914.6,2686.0 2931.0,2686.0" fill="none" stroke="#4d4d4d" stroke-width="3.5" stroke-linejoin="miter"/>
<line x1="2931.0" y1="2686.0" x2="2931.0" y2="2671.0" stroke="#4d4d4d" stroke-width="3"/>
<text x="2931.0" y="2746" font-size="61.8" text-anchor="middle" fill="#4d4d4d" font-family="Liberation Sans, Arial, sans-serif" textLength="30.5" lengthAdjust="spacingAndGlyphs">0</text>
<line x1="3129.4" y1="2686.0" x2="3129.4" y2="2671.0" stroke="#4d4d4d" stroke-width="3"/>
<text x="3129.4" y="2746" font-size="61.8" text-anchor="middle" fill="#4d4d4d" font-family="Liberation Sans, Arial, sans-serif" textLength="91.5" lengthAdjust="spacingAndGlyphs">100</text>
<line x1="3327.7" y1="2686.0" x2="3327.7" y2="2671.0" stroke="#4d4d4d" stroke-width="3"/>
<text x="3327.7" y="2746" font-size="61.8" text-anchor="middle" fill="#4d4d4d" font-family="Liberation Sans, Arial, sans-serif" textLength="91.5" lengthAdjust="spacingAndGlyphs">200</text>
<line x1="3526.1" y1="2686.0" x2="3526.1" y2="2671.0" stroke="#4d4d4d" stroke-width="3"/>
<text x="3526.1" y="2746" font-size="61.8" text-anchor="middle" fill="#4d4d4d" font-family="Liberation Sans, Arial, sans-serif" textLength="91.5" lengthAdjust="spacingAndGlyphs">300</text>
<line x1="3724.4" y1="2686.0" x2="3724.4" y2="2671.0" stroke="#4d4d4d" stroke-width="3"/>
<text x="3724.4" y="2746" font-size="61.8" text-anchor="middle" fill="#4d4d4d" font-family="Liberation Sans, Arial, sans-serif" textLength="91.5" lengthAdjust="spacingAndGlyphs">400</text>
<line x1="3922.8" y1="2686.0" x2="3922.8" y2="2671.0" stroke="#4d4d4d" stroke-width="3"/>
<text x="3922.8" y="2746" font-size="61.8" text-anchor="middle" fill="#4d4d4d" font-family="Liberation Sans, Arial, sans-serif" textLength="91.5" lengthAdjust="spacingAndGlyphs">500</text>
<line x1="4121.2" y1="2686.0" x2="4121.2" y2="2671.0" stroke="#4d4d4d" stroke-width="3"/>
<text x="4121.2" y="2746" font-size="61.8" text-anchor="middle" fill="#4d4d4d" font-family="Liberation Sans, Arial, sans-serif" textLength="91.5" lengthAdjust="spacingAndGlyphs">600</text>
<line x1="4319.5" y1="2686.0" x2="4319.5" y2="2671.0" stroke="#4d4d4d" stroke-width="3"/>
<text x="4319.5" y="2746" font-size="61.8" text-anchor="middle" fill="#4d4d4d" font-family="Liberation Sans, Arial, sans-serif" textLength="91.5" lengthAdjust="spacingAndGlyphs">700</text>
<line x1="4517.9" y1="2686.0" x2="4517.9" y2="2671.0" stroke="#4d4d4d" stroke-width="3"/>
<text x="4517.9" y="2746" font-size="61.8" text-anchor="middle" fill="#4d4d4d" font-family="Liberation Sans, Arial, sans-serif" textLength="91.5" lengthAdjust="spacingAndGlyphs">800</text>
<line x1="4716.2" y1="2686.0" x2="4716.2" y2="2671.0" stroke="#4d4d4d" stroke-width="3"/>
<text x="4716.2" y="2746" font-size="61.8" text-anchor="middle" fill="#4d4d4d" font-family="Liberation Sans, Arial, sans-serif" textLength="91.5" lengthAdjust="spacingAndGlyphs">900</text>
<line x1="4914.6" y1="2686.0" x2="4914.6" y2="2671.0" stroke="#4d4d4d" stroke-width="3"/>
<text x="4914.6" y="2746" font-size="61.8" text-anchor="middle" fill="#4d4d4d" font-family="Liberation Sans, Arial, sans-serif" textLength="122.0" lengthAdjust="spacingAndGlyphs">1000</text>
<text x="3442.0" y="2828.5" font-size="70.4" fill="#4d4d4d" font-family="Liberation Sans, Arial, sans-serif" textLength="962.6" lengthAdjust="spacingAndGlyphs">Acumulado Precipitación [mm]</text>
</svg></body></html>
